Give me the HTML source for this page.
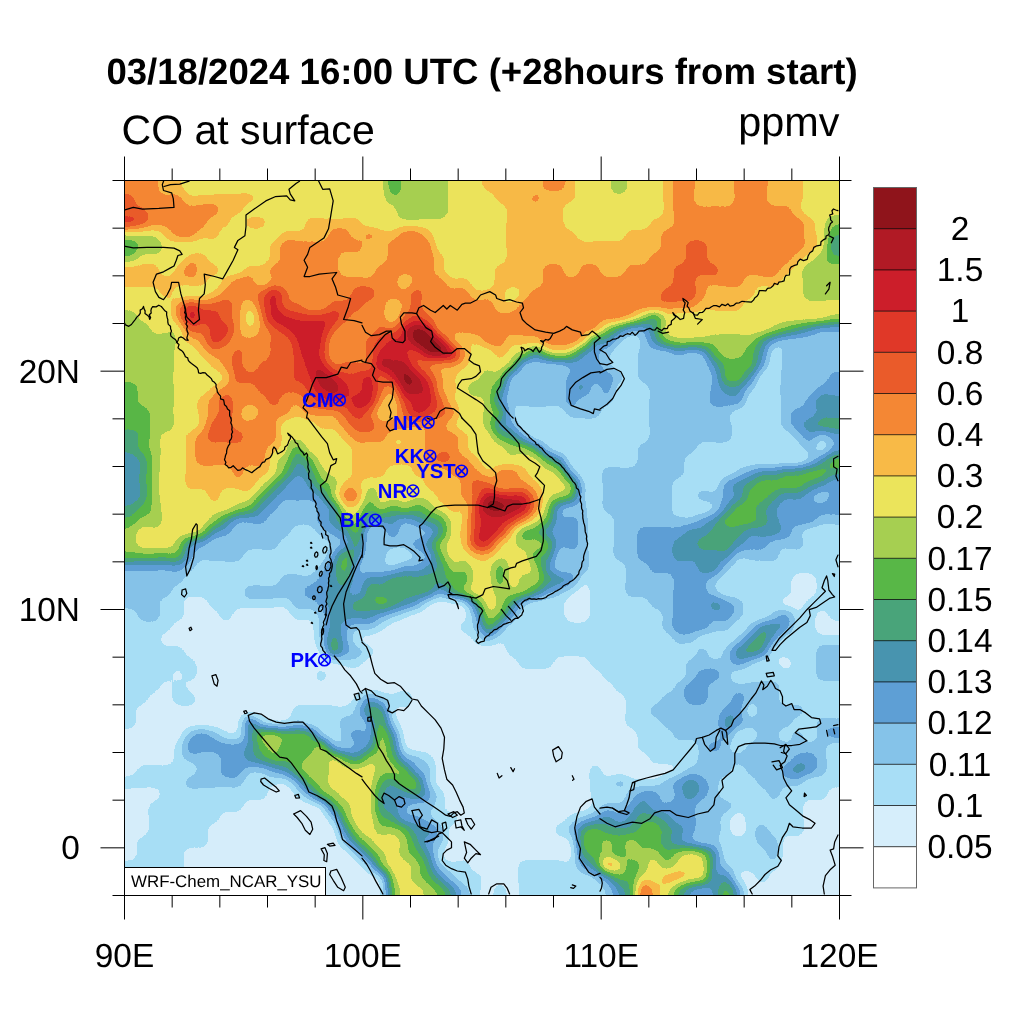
<!DOCTYPE html>
<html><head><meta charset="utf-8"><title>CO at surface</title>
<style>
html,body{margin:0;padding:0;background:#fff;}
body{width:1024px;height:1024px;overflow:hidden;font-family:"Liberation Sans",sans-serif;}
svg{display:block;position:absolute;left:0;top:0;}
text{font-family:"Liberation Sans",sans-serif;fill:#000;text-rendering:geometricPrecision;}
svg{will-change:transform;}
.ax{font-size:33.4px;}
.st{font-size:20.3px;font-weight:bold;fill:#0000ff;}
</style></head><body>
<svg width="1024" height="1024" viewBox="0 0 1024 1024">
<defs>
<filter id="ct" x="0" y="0" width="1024" height="1024" filterUnits="userSpaceOnUse" color-interpolation-filters="sRGB">
<feGaussianBlur stdDeviation="6.0" result="b"/>
<feComponentTransfer>
<feFuncR type="discrete" tableValues="0.5608 0.6941 0.8000 0.8784 0.9176 0.9569 0.9725 0.9216 0.6510 0.3451 0.2863 0.2824 0.3686 0.5216 0.6588 0.8392 1.0000"/>
<feFuncG type="discrete" tableValues="0.0784 0.1020 0.1176 0.2196 0.3569 0.5294 0.7294 0.8941 0.8118 0.7176 0.6431 0.5804 0.6235 0.7647 0.8706 0.9333 1.0000"/>
<feFuncB type="discrete" tableValues="0.1059 0.1451 0.1647 0.1569 0.1647 0.2039 0.2784 0.3569 0.3176 0.2784 0.4784 0.6863 0.8353 0.9137 0.9647 0.9843 1.0000"/>
<feFuncA type="linear" slope="0" intercept="1"/>
</feComponentTransfer>
<feGaussianBlur stdDeviation="0.45"/>
</filter>
<clipPath id="mapclip"><rect x="124.50" y="180.50" width="715.00" height="715.00"/></clipPath>
</defs>
<rect x="0" y="0" width="1024" height="1024" fill="#fff"/>
<g clip-path="url(#mapclip)">
<g filter="url(#ct)">
<rect x="60" y="120" width="850" height="850" fill="#e8e8e8"/>
<path fill="#000000" d="M410.5 323.5h12.2v12.2h-12.2zM410.5 335.4h24.1v12.2h-24.1zM398.6 371.2h12.2v12.2h-12.2zM482.0 502.2h12.2v12.2h-12.2z"/>
<path fill="#0a0a0a" d="M422.4 347.3h24.1v12.2h-24.1zM374.8 359.2h12.2v12.2h-12.2zM315.2 371.2h12.2v12.2h-12.2zM315.2 383.1h12.2v12.2h-12.2zM398.6 383.1h12.2v12.2h-12.2z"/>
<path fill="#0d0d0d" d="M410.5 371.2h12.2v12.2h-12.2zM493.9 502.2h12.2v12.2h-12.2z"/>
<path fill="#0e0e0e" d="M327.1 383.1h12.2v12.2h-12.2z"/>
<path fill="#0f0f0f" d="M398.6 359.2h12.2v12.2h-12.2z"/>
<path fill="#111111" d="M386.7 359.2h12.2v12.2h-12.2z"/>
<path fill="#121212" d="M410.5 383.1h12.2v12.2h-12.2z"/>
<path fill="#1a1a1a" d="M267.5 287.8h12.2v12.2h-12.2zM267.5 299.7h12.2v12.2h-12.2zM184.1 311.6h12.2v12.2h-12.2zM267.5 311.6h24.1v12.2h-24.1zM315.2 335.4h12.2v12.2h-12.2zM446.2 347.3h12.2v12.2h-12.2zM362.8 371.2h12.2v12.2h-12.2zM327.1 395.0h12.2v12.2h-12.2zM362.8 395.0h12.2v12.2h-12.2zM410.5 406.9h12.2v12.2h-12.2zM517.8 502.2h12.2v12.2h-12.2z"/>
<path fill="#1b1b1b" d="M482.0 490.3h12.2v12.2h-12.2z"/>
<path fill="#1c1c1c" d="M291.3 323.5h12.2v12.2h-12.2zM315.2 323.5h12.2v12.2h-12.2zM386.7 335.4h12.2v12.2h-12.2zM362.8 383.1h12.2v12.2h-12.2zM422.4 383.1h12.2v12.2h-12.2zM350.9 395.0h12.2v12.2h-12.2z"/>
<path fill="#1d1d1d" d="M434.3 335.4h12.2v12.2h-12.2zM422.4 395.0h12.2v12.2h-12.2zM482.0 526.1h12.2v12.2h-12.2z"/>
<path fill="#1f1f1f" d="M398.6 323.5h12.2v12.2h-12.2zM315.2 359.2h12.2v12.2h-12.2z"/>
<path fill="#202020" d="M303.2 347.3h12.2v12.2h-12.2zM374.8 347.3h12.2v12.2h-12.2zM303.2 359.2h12.2v12.2h-12.2zM386.7 371.2h12.2v12.2h-12.2zM339.0 383.1h12.2v12.2h-12.2z"/>
<path fill="#222222" d="M422.4 323.5h12.2v12.2h-12.2z"/>
<path fill="#232323" d="M303.2 323.5h12.2v12.2h-12.2zM303.2 335.4h12.2v12.2h-12.2zM505.8 502.2h12.2v12.2h-12.2z"/>
<path fill="#242424" d="M327.1 371.2h12.2v12.2h-12.2zM493.9 514.2h12.2v12.2h-12.2z"/>
<path fill="#262626" d="M398.6 347.3h12.2v12.2h-12.2z"/>
<path fill="#272727" d="M410.5 395.0h12.2v12.2h-12.2z"/>
<path fill="#282828" d="M88.8 216.2h48.0v12.2h-48.0zM184.1 299.7h12.2v12.2h-12.2zM219.8 323.5h12.2v12.2h-12.2zM207.9 335.4h12.2v12.2h-12.2zM470.1 538.0h24.1v12.2h-24.1z"/>
<path fill="#292929" d="M493.9 526.1h12.2v12.2h-12.2z"/>
<path fill="#2a2a2a" d="M386.7 347.3h12.2v12.2h-12.2zM482.0 514.2h12.2v12.2h-12.2z"/>
<path fill="#2b2b2b" d="M327.1 311.6h12.2v12.2h-12.2zM398.6 335.4h12.2v12.2h-12.2zM517.8 490.3h12.2v12.2h-12.2z"/>
<path fill="#2c2c2c" d="M505.8 514.2h12.2v12.2h-12.2z"/>
<path fill="#2e2e2e" d="M291.3 371.2h12.2v12.2h-12.2zM470.1 526.1h12.2v12.2h-12.2z"/>
<path fill="#2f2f2f" d="M207.9 311.6h12.2v12.2h-12.2zM350.9 406.9h12.2v12.2h-12.2zM470.1 514.2h12.2v12.2h-12.2z"/>
<path fill="#303030" d="M470.1 502.2h12.2v12.2h-12.2z"/>
<path fill="#313131" d="M303.2 311.6h24.1v12.2h-24.1zM398.6 395.0h12.2v12.2h-12.2zM422.4 406.9h12.2v12.2h-12.2z"/>
<path fill="#323232" d="M207.9 323.5h12.2v12.2h-12.2zM505.8 490.3h12.2v12.2h-12.2z"/>
<path fill="#333333" d="M196.0 311.6h12.2v12.2h-12.2zM422.4 371.2h12.2v12.2h-12.2z"/>
<path fill="#343434" d="M410.5 311.6h12.2v12.2h-12.2zM374.8 335.4h12.2v12.2h-12.2zM291.3 359.2h12.2v12.2h-12.2z"/>
<path fill="#353535" d="M279.4 323.5h12.2v12.2h-12.2zM291.3 347.3h12.2v12.2h-12.2zM350.9 371.2h12.2v12.2h-12.2zM303.2 383.1h12.2v12.2h-12.2zM315.2 395.0h12.2v12.2h-12.2z"/>
<path fill="#373737" d="M291.3 311.6h12.2v12.2h-12.2zM315.2 347.3h12.2v12.2h-12.2zM339.0 371.2h12.2v12.2h-12.2z"/>
<path fill="#383838" d="M291.3 335.4h12.2v12.2h-12.2zM434.3 454.6h12.2v12.2h-12.2zM636.9 883.6h12.2v12.2h-12.2zM636.9 895.5h12.2v12.2h-12.2zM636.9 907.4h12.2v12.2h-12.2zM636.9 919.3h12.2v12.2h-12.2z"/>
<path fill="#393939" d="M136.4 216.2h12.2v12.2h-12.2zM410.5 287.8h12.2v12.2h-12.2zM184.1 323.5h12.2v12.2h-12.2zM231.8 371.2h12.2v12.2h-12.2zM493.9 490.3h12.2v12.2h-12.2z"/>
<path fill="#3a3a3a" d="M708.4 263.9h12.2v12.2h-12.2zM362.8 287.8h12.2v12.2h-12.2zM231.8 347.3h12.2v12.2h-12.2zM219.8 395.0h12.2v12.2h-12.2zM267.5 395.0h12.2v12.2h-12.2zM231.8 430.8h12.2v12.2h-12.2z"/>
<path fill="#3b3b3b" d="M660.8 287.8h12.2v12.2h-12.2zM339.0 395.0h12.2v12.2h-12.2zM207.9 418.8h12.2v12.2h-12.2z"/>
<path fill="#3d3d3d" d="M88.8 192.4h48.0v12.2h-48.0zM684.6 240.1h24.1v12.2h-24.1zM672.7 263.9h12.2v12.2h-12.2zM350.9 287.8h12.2v12.2h-12.2zM684.6 287.8h12.2v12.2h-12.2zM219.8 299.7h12.2v12.2h-12.2zM350.9 299.7h12.2v12.2h-12.2zM231.8 359.2h12.2v12.2h-12.2zM255.6 359.2h12.2v12.2h-12.2zM219.8 406.9h12.2v12.2h-12.2zM362.8 418.8h12.2v12.2h-12.2zM207.9 430.8h12.2v12.2h-12.2zM470.1 478.4h12.2v12.2h-12.2z"/>
<path fill="#3e3e3e" d="M136.4 204.3h12.2v12.2h-12.2zM243.7 371.2h12.2v12.2h-12.2zM255.6 383.1h12.2v12.2h-12.2z"/>
<path fill="#3f3f3f" d="M267.5 335.4h12.2v12.2h-12.2zM410.5 359.2h12.2v12.2h-12.2zM303.2 371.2h12.2v12.2h-12.2zM350.9 383.1h12.2v12.2h-12.2z"/>
<path fill="#404040" d="M696.5 263.9h12.2v12.2h-12.2zM255.6 287.8h12.2v12.2h-12.2zM196.0 299.7h24.1v12.2h-24.1zM291.3 299.7h12.2v12.2h-12.2zM327.1 299.7h12.2v12.2h-12.2zM410.5 299.7h12.2v12.2h-12.2zM374.8 323.5h12.2v12.2h-12.2zM362.8 335.4h12.2v12.2h-12.2zM267.5 347.3h12.2v12.2h-12.2zM410.5 347.3h12.2v12.2h-12.2zM279.4 383.1h12.2v12.2h-12.2zM434.3 406.9h12.2v12.2h-12.2zM350.9 418.8h12.2v12.2h-12.2zM219.8 430.8h12.2v12.2h-12.2zM482.0 478.4h12.2v12.2h-12.2z"/>
<path fill="#414141" d="M684.6 252.0h24.1v12.2h-24.1zM672.7 275.8h24.1v12.2h-24.1zM672.7 287.8h12.2v12.2h-12.2zM255.6 299.7h12.2v12.2h-12.2zM339.0 299.7h12.2v12.2h-12.2zM339.0 311.6h12.2v12.2h-12.2zM434.3 395.0h12.2v12.2h-12.2zM219.8 418.8h12.2v12.2h-12.2z"/>
<path fill="#434343" d="M684.6 263.9h12.2v12.2h-12.2zM279.4 287.8h12.2v12.2h-12.2zM267.5 359.2h12.2v12.2h-12.2zM339.0 359.2h24.1v12.2h-24.1zM255.6 371.2h12.2v12.2h-12.2zM267.5 383.1h12.2v12.2h-12.2zM398.6 406.9h12.2v12.2h-12.2z"/>
<path fill="#444444" d="M398.6 311.6h12.2v12.2h-12.2zM219.8 335.4h12.2v12.2h-12.2zM267.5 371.2h12.2v12.2h-12.2zM374.8 383.1h12.2v12.2h-12.2zM303.2 395.0h12.2v12.2h-12.2zM339.0 406.9h12.2v12.2h-12.2z"/>
<path fill="#464646" d="M529.7 192.4h12.2v12.2h-12.2zM362.8 228.2h12.2v12.2h-12.2zM184.1 263.9h12.2v12.2h-12.2zM648.8 299.7h12.2v12.2h-12.2zM613.1 311.6h12.2v12.2h-12.2zM589.2 323.5h12.2v12.2h-12.2zM541.6 335.4h12.2v12.2h-12.2zM565.4 335.4h12.2v12.2h-12.2zM291.3 383.1h12.2v12.2h-12.2zM339.0 490.3h24.1v12.2h-24.1zM601.2 859.8h12.2v12.2h-12.2z"/>
<path fill="#474747" d="M219.8 311.6h12.2v12.2h-12.2zM422.4 311.6h12.2v12.2h-12.2zM279.4 347.3h12.2v12.2h-12.2zM362.8 347.3h12.2v12.2h-12.2zM279.4 359.2h12.2v12.2h-12.2zM279.4 371.2h12.2v12.2h-12.2zM362.8 406.9h12.2v12.2h-12.2z"/>
<path fill="#484848" d="M88.8 204.3h48.0v12.2h-48.0zM184.1 228.2h12.2v12.2h-12.2zM327.1 323.5h12.2v12.2h-12.2zM446.2 406.9h12.2v12.2h-12.2zM493.9 466.5h24.1v12.2h-24.1z"/>
<path fill="#494949" d="M207.9 204.3h12.2v12.2h-12.2zM172.2 228.2h12.2v12.2h-12.2zM398.6 228.2h24.1v12.2h-24.1zM350.9 240.1h12.2v12.2h-12.2zM422.4 240.1h12.2v12.2h-12.2zM231.8 275.8h12.2v12.2h-12.2zM636.9 299.7h12.2v12.2h-12.2zM601.2 311.6h12.2v12.2h-12.2zM196.0 323.5h12.2v12.2h-12.2zM482.0 335.4h12.2v12.2h-12.2zM279.4 406.9h12.2v12.2h-12.2zM267.5 430.8h12.2v12.2h-12.2zM255.6 454.6h12.2v12.2h-12.2zM231.8 466.5h12.2v12.2h-12.2z"/>
<path fill="#4a4a4a" d="M267.5 323.5h12.2v12.2h-12.2zM386.7 323.5h12.2v12.2h-12.2zM279.4 335.4h12.2v12.2h-12.2z"/>
<path fill="#4b4b4b" d="M267.5 263.9h12.2v12.2h-12.2zM446.2 430.8h12.2v12.2h-12.2zM470.1 490.3h12.2v12.2h-12.2z"/>
<path fill="#4c4c4c" d="M172.2 192.4h12.2v12.2h-12.2zM779.9 204.3h12.2v12.2h-12.2zM791.8 216.2h12.2v12.2h-12.2zM660.8 228.2h12.2v12.2h-12.2zM279.4 240.1h12.2v12.2h-12.2zM386.7 240.1h12.2v12.2h-12.2zM791.8 240.1h12.2v12.2h-12.2zM648.8 252.0h12.2v12.2h-12.2zM374.8 263.9h12.2v12.2h-12.2zM541.6 263.9h24.1v12.2h-24.1zM577.3 263.9h24.1v12.2h-24.1zM625.0 263.9h12.2v12.2h-12.2zM768.0 263.9h12.2v12.2h-12.2zM243.7 275.8h12.2v12.2h-12.2zM434.3 275.8h12.2v12.2h-12.2zM732.2 275.8h12.2v12.2h-12.2zM458.2 287.8h12.2v12.2h-12.2zM529.7 287.8h12.2v12.2h-12.2zM172.2 299.7h12.2v12.2h-12.2zM482.0 299.7h12.2v12.2h-12.2zM517.8 299.7h12.2v12.2h-12.2zM684.6 299.7h12.2v12.2h-12.2zM493.9 335.4h12.2v12.2h-12.2zM303.2 406.9h12.2v12.2h-12.2zM267.5 418.8h12.2v12.2h-12.2zM386.7 418.8h12.2v12.2h-12.2zM374.8 430.8h12.2v12.2h-12.2zM196.0 454.6h12.2v12.2h-12.2zM458.2 454.6h12.2v12.2h-12.2z"/>
<path fill="#4d4d4d" d="M541.6 144.8h24.1v12.2h-24.1zM541.6 156.7h24.1v12.2h-24.1zM541.6 168.6h24.1v12.2h-24.1zM541.6 180.5h24.1v12.2h-24.1zM196.0 216.2h12.2v12.2h-12.2zM327.1 228.2h24.1v12.2h-24.1zM779.9 252.0h12.2v12.2h-12.2zM553.5 335.4h12.2v12.2h-12.2zM327.1 359.2h12.2v12.2h-12.2zM446.2 466.5h12.2v12.2h-12.2zM529.7 502.2h12.2v12.2h-12.2z"/>
<path fill="#4e4e4e" d="M660.8 299.7h12.2v12.2h-12.2zM458.2 347.3h12.2v12.2h-12.2z"/>
<path fill="#4f4f4f" d="M148.3 144.8h12.2v12.2h-12.2zM684.6 144.8h12.2v12.2h-12.2zM732.2 144.8h12.2v12.2h-12.2zM756.1 144.8h12.2v12.2h-12.2zM148.3 156.7h12.2v12.2h-12.2zM684.6 156.7h12.2v12.2h-12.2zM732.2 156.7h12.2v12.2h-12.2zM756.1 156.7h12.2v12.2h-12.2zM148.3 168.6h12.2v12.2h-12.2zM684.6 168.6h12.2v12.2h-12.2zM732.2 168.6h12.2v12.2h-12.2zM756.1 168.6h12.2v12.2h-12.2zM148.3 180.5h12.2v12.2h-12.2zM684.6 180.5h12.2v12.2h-12.2zM732.2 180.5h12.2v12.2h-12.2zM756.1 180.5h12.2v12.2h-12.2zM160.2 192.4h12.2v12.2h-12.2zM732.2 192.4h12.2v12.2h-12.2zM756.1 192.4h12.2v12.2h-12.2zM196.0 204.3h12.2v12.2h-12.2zM672.7 204.3h12.2v12.2h-12.2zM696.5 204.3h36.0v12.2h-36.0zM768.0 204.3h12.2v12.2h-12.2zM148.3 216.2h24.1v12.2h-24.1zM672.7 216.2h12.2v12.2h-12.2zM303.2 240.1h24.1v12.2h-24.1zM339.0 240.1h12.2v12.2h-12.2zM660.8 240.1h12.2v12.2h-12.2zM327.1 252.0h12.2v12.2h-12.2zM422.4 252.0h12.2v12.2h-12.2zM327.1 263.9h12.2v12.2h-12.2zM398.6 263.9h12.2v12.2h-12.2zM636.9 263.9h12.2v12.2h-12.2zM744.2 263.9h24.1v12.2h-24.1zM339.0 275.8h12.2v12.2h-12.2zM386.7 275.8h12.2v12.2h-12.2zM601.2 275.8h24.1v12.2h-24.1zM720.3 275.8h12.2v12.2h-12.2zM386.7 287.8h12.2v12.2h-12.2zM374.8 299.7h12.2v12.2h-12.2zM231.8 311.6h12.2v12.2h-12.2zM493.9 311.6h12.2v12.2h-12.2zM458.2 323.5h24.1v12.2h-24.1zM577.3 323.5h12.2v12.2h-12.2zM243.7 335.4h12.2v12.2h-12.2zM219.8 383.1h12.2v12.2h-12.2zM243.7 395.0h12.2v12.2h-12.2zM243.7 418.8h12.2v12.2h-12.2zM196.0 430.8h12.2v12.2h-12.2zM350.9 430.8h12.2v12.2h-12.2zM422.4 430.8h12.2v12.2h-12.2zM207.9 454.6h24.1v12.2h-24.1zM422.4 454.6h12.2v12.2h-12.2zM470.1 466.5h12.2v12.2h-12.2zM458.2 490.3h12.2v12.2h-12.2z"/>
<path fill="#505050" d="M672.7 144.8h12.2v12.2h-12.2zM672.7 156.7h12.2v12.2h-12.2zM672.7 168.6h12.2v12.2h-12.2zM672.7 180.5h12.2v12.2h-12.2zM672.7 192.4h24.1v12.2h-24.1zM184.1 204.3h12.2v12.2h-12.2zM791.8 228.2h12.2v12.2h-12.2zM291.3 240.1h12.2v12.2h-12.2zM279.4 252.0h12.2v12.2h-12.2zM386.7 252.0h12.2v12.2h-12.2zM422.4 263.9h12.2v12.2h-12.2zM541.6 275.8h12.2v12.2h-12.2zM565.4 275.8h12.2v12.2h-12.2zM219.8 287.8h12.2v12.2h-12.2zM446.2 287.8h12.2v12.2h-12.2zM696.5 287.8h12.2v12.2h-12.2zM279.4 299.7h12.2v12.2h-12.2zM470.1 299.7h12.2v12.2h-12.2zM625.0 299.7h12.2v12.2h-12.2zM672.7 299.7h12.2v12.2h-12.2zM172.2 311.6h12.2v12.2h-12.2zM505.8 311.6h12.2v12.2h-12.2zM505.8 323.5h36.0v12.2h-36.0zM219.8 359.2h12.2v12.2h-12.2zM362.8 359.2h12.2v12.2h-12.2zM422.4 359.2h12.2v12.2h-12.2zM374.8 371.2h12.2v12.2h-12.2zM207.9 395.0h12.2v12.2h-12.2zM255.6 406.9h12.2v12.2h-12.2zM196.0 442.7h12.2v12.2h-12.2zM255.6 442.7h12.2v12.2h-12.2zM422.4 442.7h12.2v12.2h-12.2zM446.2 442.7h12.2v12.2h-12.2zM243.7 454.6h12.2v12.2h-12.2zM529.7 490.3h12.2v12.2h-12.2zM517.8 514.2h12.2v12.2h-12.2z"/>
<path fill="#515151" d="M374.8 311.6h12.2v12.2h-12.2zM339.0 335.4h12.2v12.2h-12.2z"/>
<path fill="#525252" d="M148.3 192.4h12.2v12.2h-12.2zM732.2 204.3h12.2v12.2h-12.2zM756.1 204.3h12.2v12.2h-12.2zM720.3 228.2h24.1v12.2h-24.1zM327.1 240.1h12.2v12.2h-12.2zM720.3 240.1h24.1v12.2h-24.1zM660.8 252.0h12.2v12.2h-12.2zM279.4 263.9h36.0v12.2h-36.0zM386.7 263.9h12.2v12.2h-12.2zM410.5 263.9h12.2v12.2h-12.2zM648.8 263.9h12.2v12.2h-12.2zM732.2 263.9h12.2v12.2h-12.2zM291.3 275.8h48.0v12.2h-48.0zM350.9 275.8h12.2v12.2h-12.2zM410.5 275.8h12.2v12.2h-12.2zM577.3 275.8h12.2v12.2h-12.2zM625.0 275.8h12.2v12.2h-12.2zM243.7 287.8h12.2v12.2h-12.2zM303.2 287.8h24.1v12.2h-24.1zM398.6 287.8h12.2v12.2h-12.2zM434.3 287.8h12.2v12.2h-12.2zM541.6 287.8h12.2v12.2h-12.2zM231.8 299.7h12.2v12.2h-12.2zM434.3 299.7h12.2v12.2h-12.2zM446.2 311.6h12.2v12.2h-12.2zM255.6 323.5h12.2v12.2h-12.2zM350.9 323.5h12.2v12.2h-12.2zM446.2 323.5h12.2v12.2h-12.2zM207.9 347.3h12.2v12.2h-12.2zM255.6 418.8h12.2v12.2h-12.2zM339.0 418.8h12.2v12.2h-12.2zM374.8 418.8h12.2v12.2h-12.2zM398.6 418.8h12.2v12.2h-12.2zM434.3 430.8h12.2v12.2h-12.2zM231.8 454.6h12.2v12.2h-12.2z"/>
<path fill="#535353" d="M136.4 144.8h12.2v12.2h-12.2zM744.2 144.8h12.2v12.2h-12.2zM136.4 156.7h12.2v12.2h-12.2zM744.2 156.7h12.2v12.2h-12.2zM136.4 168.6h12.2v12.2h-12.2zM744.2 168.6h12.2v12.2h-12.2zM136.4 180.5h12.2v12.2h-12.2zM744.2 180.5h12.2v12.2h-12.2zM744.2 192.4h12.2v12.2h-12.2zM160.2 204.3h24.1v12.2h-24.1zM684.6 204.3h12.2v12.2h-12.2zM744.2 204.3h12.2v12.2h-12.2zM172.2 216.2h24.1v12.2h-24.1zM684.6 216.2h107.5v12.2h-107.5zM672.7 228.2h12.2v12.2h-12.2zM708.4 228.2h12.2v12.2h-12.2zM744.2 228.2h48.0v12.2h-48.0zM398.6 240.1h24.1v12.2h-24.1zM744.2 240.1h48.0v12.2h-48.0zM291.3 252.0h36.0v12.2h-36.0zM398.6 252.0h24.1v12.2h-24.1zM720.3 252.0h59.9v12.2h-59.9zM315.2 263.9h12.2v12.2h-12.2zM362.8 275.8h24.1v12.2h-24.1zM422.4 275.8h12.2v12.2h-12.2zM553.5 275.8h12.2v12.2h-12.2zM589.2 275.8h12.2v12.2h-12.2zM636.9 275.8h24.1v12.2h-24.1zM708.4 275.8h12.2v12.2h-12.2zM231.8 287.8h12.2v12.2h-12.2zM553.5 287.8h95.6v12.2h-95.6zM446.2 299.7h24.1v12.2h-24.1zM529.7 299.7h71.8v12.2h-71.8zM362.8 311.6h12.2v12.2h-12.2zM458.2 311.6h36.0v12.2h-36.0zM517.8 311.6h83.7v12.2h-83.7zM482.0 323.5h24.1v12.2h-24.1zM541.6 323.5h12.2v12.2h-12.2zM231.8 406.9h12.2v12.2h-12.2zM434.3 418.8h12.2v12.2h-12.2zM255.6 430.8h12.2v12.2h-12.2zM362.8 430.8h12.2v12.2h-12.2zM243.7 442.7h12.2v12.2h-12.2zM458.2 466.5h12.2v12.2h-12.2zM458.2 478.4h12.2v12.2h-12.2zM517.8 478.4h12.2v12.2h-12.2z"/>
<path fill="#545454" d="M601.2 299.7h24.1v12.2h-24.1zM553.5 323.5h24.1v12.2h-24.1zM339.0 347.3h12.2v12.2h-12.2z"/>
<path fill="#555555" d="M327.1 287.8h12.2v12.2h-12.2zM374.8 287.8h12.2v12.2h-12.2zM434.3 311.6h12.2v12.2h-12.2zM231.8 323.5h12.2v12.2h-12.2zM255.6 335.4h12.2v12.2h-12.2zM350.9 335.4h12.2v12.2h-12.2zM434.3 371.2h12.2v12.2h-12.2zM231.8 395.0h12.2v12.2h-12.2zM267.5 406.9h12.2v12.2h-12.2z"/>
<path fill="#565656" d="M88.8 144.8h48.0v12.2h-48.0zM88.8 156.7h48.0v12.2h-48.0zM88.8 168.6h48.0v12.2h-48.0zM88.8 180.5h48.0v12.2h-48.0zM148.3 204.3h12.2v12.2h-12.2zM684.6 228.2h24.1v12.2h-24.1zM672.7 240.1h12.2v12.2h-12.2zM708.4 240.1h12.2v12.2h-12.2zM660.8 263.9h12.2v12.2h-12.2zM720.3 263.9h12.2v12.2h-12.2zM422.4 287.8h12.2v12.2h-12.2zM398.6 299.7h12.2v12.2h-12.2zM625.0 311.6h12.2v12.2h-12.2zM196.0 335.4h12.2v12.2h-12.2zM577.3 335.4h12.2v12.2h-12.2zM243.7 347.3h12.2v12.2h-12.2zM446.2 359.2h12.2v12.2h-12.2zM231.8 383.1h12.2v12.2h-12.2zM291.3 395.0h12.2v12.2h-12.2zM207.9 406.9h12.2v12.2h-12.2zM315.2 406.9h12.2v12.2h-12.2zM243.7 430.8h12.2v12.2h-12.2zM231.8 442.7h12.2v12.2h-12.2zM446.2 454.6h12.2v12.2h-12.2zM660.8 871.7h24.1v12.2h-24.1z"/>
<path fill="#575757" d="M243.7 192.4h12.2v12.2h-12.2zM243.7 216.2h24.1v12.2h-24.1zM279.4 275.8h12.2v12.2h-12.2zM648.8 287.8h12.2v12.2h-12.2zM207.9 442.7h24.1v12.2h-24.1zM434.3 442.7h12.2v12.2h-12.2z"/>
<path fill="#585858" d="M207.9 263.9h12.2v12.2h-12.2zM160.2 287.8h12.2v12.2h-12.2zM291.3 287.8h12.2v12.2h-12.2zM350.9 311.6h12.2v12.2h-12.2zM339.0 323.5h12.2v12.2h-12.2zM350.9 347.3h12.2v12.2h-12.2zM255.6 395.0h12.2v12.2h-12.2zM374.8 395.0h12.2v12.2h-12.2zM207.9 490.3h12.2v12.2h-12.2z"/>
<path fill="#595959" d="M136.4 192.4h12.2v12.2h-12.2zM672.7 252.0h12.2v12.2h-12.2zM708.4 252.0h12.2v12.2h-12.2zM267.5 275.8h12.2v12.2h-12.2zM660.8 275.8h12.2v12.2h-12.2zM362.8 299.7h12.2v12.2h-12.2zM422.4 299.7h12.2v12.2h-12.2zM255.6 311.6h12.2v12.2h-12.2zM362.8 323.5h12.2v12.2h-12.2zM231.8 335.4h12.2v12.2h-12.2zM255.6 347.3h12.2v12.2h-12.2zM243.7 383.1h12.2v12.2h-12.2zM279.4 395.0h12.2v12.2h-12.2zM231.8 418.8h12.2v12.2h-12.2zM410.5 418.8h12.2v12.2h-12.2z"/>
<path fill="#5a5a5a" d="M303.2 216.2h12.2v12.2h-12.2zM696.5 275.8h12.2v12.2h-12.2zM339.0 287.8h12.2v12.2h-12.2zM219.8 347.3h12.2v12.2h-12.2zM422.4 418.8h12.2v12.2h-12.2zM184.1 478.4h12.2v12.2h-12.2zM505.8 478.4h12.2v12.2h-12.2zM446.2 502.2h12.2v12.2h-12.2z"/>
<path fill="#5b5b5b" d="M482.0 144.8h12.2v12.2h-12.2zM482.0 156.7h12.2v12.2h-12.2zM482.0 168.6h12.2v12.2h-12.2zM482.0 180.5h12.2v12.2h-12.2zM493.9 192.4h12.2v12.2h-12.2zM565.4 192.4h12.2v12.2h-12.2zM219.8 216.2h12.2v12.2h-12.2zM350.9 216.2h12.2v12.2h-12.2zM648.8 216.2h12.2v12.2h-12.2zM207.9 228.2h12.2v12.2h-12.2zM565.4 228.2h12.2v12.2h-12.2zM625.0 228.2h12.2v12.2h-12.2zM196.0 252.0h12.2v12.2h-12.2zM88.8 263.9h48.0v12.2h-48.0zM148.3 263.9h12.2v12.2h-12.2zM493.9 263.9h12.2v12.2h-12.2zM196.0 275.8h12.2v12.2h-12.2zM744.2 287.8h12.2v12.2h-12.2zM732.2 299.7h12.2v12.2h-12.2zM374.8 466.5h12.2v12.2h-12.2zM410.5 466.5h12.2v12.2h-12.2zM422.4 478.4h12.2v12.2h-12.2zM434.3 490.3h12.2v12.2h-12.2z"/>
<path fill="#5c5c5c" d="M231.8 204.3h12.2v12.2h-12.2zM303.2 299.7h24.1v12.2h-24.1zM529.7 335.4h12.2v12.2h-12.2zM493.9 347.3h12.2v12.2h-12.2zM434.3 383.1h12.2v12.2h-12.2zM327.1 406.9h12.2v12.2h-12.2zM243.7 478.4h12.2v12.2h-12.2zM339.0 478.4h12.2v12.2h-12.2z"/>
<path fill="#5d5d5d" d="M327.1 347.3h12.2v12.2h-12.2zM243.7 359.2h12.2v12.2h-12.2zM493.9 478.4h12.2v12.2h-12.2z"/>
<path fill="#5e5e5e" d="M791.8 144.8h12.2v12.2h-12.2zM791.8 156.7h12.2v12.2h-12.2zM791.8 168.6h12.2v12.2h-12.2zM791.8 180.5h12.2v12.2h-12.2zM219.8 192.4h24.1v12.2h-24.1zM791.8 192.4h12.2v12.2h-12.2zM505.8 204.3h12.2v12.2h-12.2zM553.5 204.3h12.2v12.2h-12.2zM315.2 216.2h12.2v12.2h-12.2zM505.8 216.2h12.2v12.2h-12.2zM553.5 216.2h12.2v12.2h-12.2zM803.8 216.2h12.2v12.2h-12.2zM279.4 228.2h12.2v12.2h-12.2zM505.8 228.2h12.2v12.2h-12.2zM636.9 228.2h12.2v12.2h-12.2zM267.5 240.1h12.2v12.2h-12.2zM505.8 240.1h12.2v12.2h-12.2zM577.3 240.1h48.0v12.2h-48.0zM184.1 252.0h12.2v12.2h-12.2zM434.3 252.0h12.2v12.2h-12.2zM505.8 252.0h12.2v12.2h-12.2zM243.7 263.9h12.2v12.2h-12.2zM136.4 275.8h48.0v12.2h-48.0zM458.2 275.8h12.2v12.2h-12.2zM493.9 275.8h24.1v12.2h-24.1zM768.0 275.8h12.2v12.2h-12.2zM493.9 287.8h12.2v12.2h-12.2zM708.4 299.7h24.1v12.2h-24.1zM434.3 323.5h12.2v12.2h-12.2zM327.1 335.4h12.2v12.2h-12.2zM446.2 335.4h12.2v12.2h-12.2zM517.8 335.4h12.2v12.2h-12.2zM434.3 359.2h12.2v12.2h-12.2zM386.7 383.1h12.2v12.2h-12.2zM196.0 395.0h12.2v12.2h-12.2zM315.2 418.8h12.2v12.2h-12.2zM184.1 430.8h12.2v12.2h-12.2zM458.2 430.8h12.2v12.2h-12.2zM350.9 454.6h12.2v12.2h-12.2zM386.7 454.6h24.1v12.2h-24.1zM184.1 466.5h12.2v12.2h-12.2zM350.9 466.5h12.2v12.2h-12.2zM196.0 478.4h12.2v12.2h-12.2z"/>
<path fill="#5f5f5f" d="M803.8 240.1h12.2v12.2h-12.2zM136.4 263.9h12.2v12.2h-12.2zM172.2 263.9h12.2v12.2h-12.2zM88.8 275.8h48.0v12.2h-48.0zM255.6 466.5h12.2v12.2h-12.2zM362.8 466.5h12.2v12.2h-12.2zM219.8 478.4h12.2v12.2h-12.2z"/>
<path fill="#606060" d="M708.4 144.8h12.2v12.2h-12.2zM708.4 156.7h12.2v12.2h-12.2zM708.4 168.6h12.2v12.2h-12.2zM708.4 180.5h12.2v12.2h-12.2zM184.1 275.8h12.2v12.2h-12.2zM207.9 359.2h12.2v12.2h-12.2z"/>
<path fill="#616161" d="M172.2 144.8h12.2v12.2h-12.2zM779.9 144.8h12.2v12.2h-12.2zM172.2 156.7h12.2v12.2h-12.2zM779.9 156.7h12.2v12.2h-12.2zM172.2 168.6h12.2v12.2h-12.2zM779.9 168.6h12.2v12.2h-12.2zM172.2 180.5h12.2v12.2h-12.2zM779.9 180.5h12.2v12.2h-12.2zM196.0 192.4h24.1v12.2h-24.1zM505.8 192.4h12.2v12.2h-12.2zM660.8 192.4h12.2v12.2h-12.2zM327.1 216.2h24.1v12.2h-24.1zM529.7 216.2h12.2v12.2h-12.2zM160.2 228.2h12.2v12.2h-12.2zM374.8 228.2h12.2v12.2h-12.2zM422.4 228.2h12.2v12.2h-12.2zM553.5 228.2h12.2v12.2h-12.2zM529.7 240.1h48.0v12.2h-48.0zM625.0 240.1h12.2v12.2h-12.2zM362.8 252.0h12.2v12.2h-12.2zM255.6 263.9h12.2v12.2h-12.2zM517.8 263.9h12.2v12.2h-12.2zM219.8 275.8h12.2v12.2h-12.2zM517.8 275.8h12.2v12.2h-12.2zM482.0 287.8h12.2v12.2h-12.2zM446.2 383.1h12.2v12.2h-12.2zM339.0 430.8h12.2v12.2h-12.2zM350.9 442.7h12.2v12.2h-12.2zM398.6 442.7h12.2v12.2h-12.2zM184.1 454.6h12.2v12.2h-12.2zM374.8 454.6h12.2v12.2h-12.2zM470.1 454.6h12.2v12.2h-12.2zM517.8 466.5h12.2v12.2h-12.2zM207.9 478.4h12.2v12.2h-12.2zM231.8 478.4h12.2v12.2h-12.2zM434.3 478.4h12.2v12.2h-12.2z"/>
<path fill="#626262" d="M493.9 144.8h36.0v12.2h-36.0zM565.4 144.8h12.2v12.2h-12.2zM660.8 144.8h12.2v12.2h-12.2zM493.9 156.7h36.0v12.2h-36.0zM565.4 156.7h12.2v12.2h-12.2zM660.8 156.7h12.2v12.2h-12.2zM493.9 168.6h36.0v12.2h-36.0zM565.4 168.6h12.2v12.2h-12.2zM660.8 168.6h12.2v12.2h-12.2zM493.9 180.5h36.0v12.2h-36.0zM565.4 180.5h12.2v12.2h-12.2zM660.8 180.5h12.2v12.2h-12.2zM517.8 204.3h12.2v12.2h-12.2zM541.6 204.3h12.2v12.2h-12.2zM660.8 204.3h12.2v12.2h-12.2zM517.8 216.2h12.2v12.2h-12.2zM541.6 216.2h12.2v12.2h-12.2zM291.3 228.2h12.2v12.2h-12.2zM517.8 228.2h36.0v12.2h-36.0zM517.8 240.1h12.2v12.2h-12.2zM636.9 240.1h12.2v12.2h-12.2zM517.8 252.0h24.1v12.2h-24.1zM565.4 252.0h12.2v12.2h-12.2zM601.2 252.0h24.1v12.2h-24.1zM791.8 252.0h12.2v12.2h-12.2zM505.8 263.9h12.2v12.2h-12.2zM779.9 263.9h12.2v12.2h-12.2zM756.1 275.8h12.2v12.2h-12.2zM196.0 347.3h12.2v12.2h-12.2zM458.2 359.2h12.2v12.2h-12.2zM207.9 383.1h12.2v12.2h-12.2zM196.0 406.9h12.2v12.2h-12.2zM184.1 442.7h12.2v12.2h-12.2zM267.5 442.7h12.2v12.2h-12.2zM386.7 442.7h12.2v12.2h-12.2zM362.8 454.6h12.2v12.2h-12.2zM350.9 478.4h12.2v12.2h-12.2zM529.7 478.4h12.2v12.2h-12.2z"/>
<path fill="#636363" d="M803.8 228.2h12.2v12.2h-12.2zM446.2 371.2h12.2v12.2h-12.2zM648.8 883.6h12.2v12.2h-12.2zM648.8 895.5h12.2v12.2h-12.2zM648.8 907.4h12.2v12.2h-12.2zM648.8 919.3h12.2v12.2h-12.2z"/>
<path fill="#646464" d="M196.0 228.2h12.2v12.2h-12.2zM386.7 228.2h12.2v12.2h-12.2zM648.8 228.2h12.2v12.2h-12.2zM350.9 252.0h12.2v12.2h-12.2zM350.9 263.9h12.2v12.2h-12.2zM517.8 287.8h12.2v12.2h-12.2zM696.5 299.7h12.2v12.2h-12.2zM803.8 311.6h24.1v12.2h-24.1zM660.8 323.5h12.2v12.2h-12.2zM756.1 323.5h12.2v12.2h-12.2zM184.1 335.4h12.2v12.2h-12.2zM553.5 347.3h12.2v12.2h-12.2zM327.1 418.8h12.2v12.2h-12.2zM398.6 430.8h12.2v12.2h-12.2zM303.2 442.7h12.2v12.2h-12.2zM529.7 454.6h12.2v12.2h-12.2zM446.2 490.3h12.2v12.2h-12.2zM219.8 502.2h12.2v12.2h-12.2zM184.1 526.1h12.2v12.2h-12.2zM482.0 549.9h12.2v12.2h-12.2zM505.8 573.8h12.2v12.2h-12.2zM470.1 585.7h12.2v12.2h-12.2zM482.0 597.6h12.2v12.2h-12.2zM315.2 740.6h12.2v12.2h-12.2zM327.1 752.5h12.2v12.2h-12.2zM684.6 847.8h12.2v12.2h-12.2zM613.1 859.8h12.2v12.2h-12.2zM696.5 859.8h12.2v12.2h-12.2zM696.5 871.7h12.2v12.2h-12.2z"/>
<path fill="#656565" d="M696.5 144.8h12.2v12.2h-12.2zM720.3 144.8h12.2v12.2h-12.2zM768.0 144.8h12.2v12.2h-12.2zM696.5 156.7h12.2v12.2h-12.2zM720.3 156.7h12.2v12.2h-12.2zM768.0 156.7h12.2v12.2h-12.2zM696.5 168.6h12.2v12.2h-12.2zM720.3 168.6h12.2v12.2h-12.2zM768.0 168.6h12.2v12.2h-12.2zM696.5 180.5h12.2v12.2h-12.2zM720.3 180.5h12.2v12.2h-12.2zM768.0 180.5h12.2v12.2h-12.2zM184.1 192.4h12.2v12.2h-12.2zM517.8 192.4h12.2v12.2h-12.2zM553.5 192.4h12.2v12.2h-12.2zM708.4 192.4h12.2v12.2h-12.2zM779.9 192.4h12.2v12.2h-12.2zM219.8 204.3h12.2v12.2h-12.2zM529.7 204.3h12.2v12.2h-12.2zM791.8 204.3h12.2v12.2h-12.2zM303.2 228.2h12.2v12.2h-12.2zM374.8 240.1h12.2v12.2h-12.2zM267.5 252.0h12.2v12.2h-12.2zM541.6 252.0h24.1v12.2h-24.1zM577.3 252.0h24.1v12.2h-24.1zM625.0 252.0h12.2v12.2h-12.2zM196.0 263.9h12.2v12.2h-12.2zM434.3 263.9h12.2v12.2h-12.2zM529.7 263.9h12.2v12.2h-12.2zM446.2 275.8h12.2v12.2h-12.2zM207.9 287.8h12.2v12.2h-12.2zM470.1 287.8h12.2v12.2h-12.2zM720.3 287.8h24.1v12.2h-24.1zM505.8 299.7h12.2v12.2h-12.2zM470.1 335.4h12.2v12.2h-12.2zM362.8 442.7h24.1v12.2h-24.1zM410.5 442.7h12.2v12.2h-12.2zM458.2 442.7h12.2v12.2h-12.2zM410.5 454.6h12.2v12.2h-12.2zM196.0 466.5h24.1v12.2h-24.1zM422.4 466.5h12.2v12.2h-12.2zM339.0 502.2h12.2v12.2h-12.2zM470.1 549.9h12.2v12.2h-12.2z"/>
<path fill="#666666" d="M815.7 240.1h12.2v12.2h-12.2zM505.8 335.4h12.2v12.2h-12.2zM482.0 430.8h12.2v12.2h-12.2zM458.2 538.0h12.2v12.2h-12.2zM362.8 788.2h12.2v12.2h-12.2zM684.6 871.7h12.2v12.2h-12.2z"/>
<path fill="#676767" d="M791.8 311.6h12.2v12.2h-12.2zM243.7 323.5h12.2v12.2h-12.2zM446.2 395.0h12.2v12.2h-12.2zM291.3 406.9h12.2v12.2h-12.2zM493.9 442.7h12.2v12.2h-12.2zM315.2 454.6h12.2v12.2h-12.2zM267.5 466.5h12.2v12.2h-12.2zM446.2 549.9h12.2v12.2h-12.2zM362.8 800.2h12.2v12.2h-12.2zM386.7 859.8h12.2v12.2h-12.2zM648.8 859.8h12.2v12.2h-12.2z"/>
<path fill="#686868" d="M160.2 144.8h12.2v12.2h-12.2zM529.7 144.8h12.2v12.2h-12.2zM160.2 156.7h12.2v12.2h-12.2zM529.7 156.7h12.2v12.2h-12.2zM160.2 168.6h12.2v12.2h-12.2zM529.7 168.6h12.2v12.2h-12.2zM160.2 180.5h12.2v12.2h-12.2zM529.7 180.5h12.2v12.2h-12.2zM541.6 192.4h12.2v12.2h-12.2zM696.5 192.4h12.2v12.2h-12.2zM720.3 192.4h12.2v12.2h-12.2zM768.0 192.4h12.2v12.2h-12.2zM207.9 216.2h12.2v12.2h-12.2zM660.8 216.2h12.2v12.2h-12.2zM362.8 240.1h12.2v12.2h-12.2zM648.8 240.1h12.2v12.2h-12.2zM339.0 252.0h12.2v12.2h-12.2zM374.8 252.0h12.2v12.2h-12.2zM636.9 252.0h12.2v12.2h-12.2zM339.0 263.9h12.2v12.2h-12.2zM362.8 263.9h12.2v12.2h-12.2zM601.2 263.9h24.1v12.2h-24.1zM529.7 275.8h12.2v12.2h-12.2zM744.2 275.8h12.2v12.2h-12.2zM708.4 287.8h12.2v12.2h-12.2zM493.9 299.7h12.2v12.2h-12.2zM196.0 418.8h12.2v12.2h-12.2zM446.2 418.8h12.2v12.2h-12.2zM386.7 430.8h12.2v12.2h-12.2zM410.5 430.8h12.2v12.2h-12.2zM446.2 478.4h12.2v12.2h-12.2zM553.5 478.4h12.2v12.2h-12.2zM243.7 490.3h12.2v12.2h-12.2zM505.8 526.1h12.2v12.2h-12.2zM136.4 538.0h12.2v12.2h-12.2zM160.2 538.0h12.2v12.2h-12.2zM517.8 549.9h12.2v12.2h-12.2zM350.9 764.4h12.2v12.2h-12.2zM362.8 824.0h12.2v12.2h-12.2zM374.8 835.9h12.2v12.2h-12.2z"/>
<path fill="#696969" d="M374.8 144.8h12.2v12.2h-12.2zM374.8 156.7h12.2v12.2h-12.2zM374.8 168.6h12.2v12.2h-12.2zM374.8 180.5h12.2v12.2h-12.2zM315.2 228.2h12.2v12.2h-12.2zM219.8 466.5h12.2v12.2h-12.2zM243.7 466.5h12.2v12.2h-12.2zM541.6 466.5h12.2v12.2h-12.2zM374.8 490.3h12.2v12.2h-12.2zM458.2 514.2h12.2v12.2h-12.2zM458.2 526.1h12.2v12.2h-12.2zM350.9 812.1h12.2v12.2h-12.2z"/>
<path fill="#6a6a6a" d="M386.7 204.3h12.2v12.2h-12.2zM136.4 311.6h12.2v12.2h-12.2zM148.3 323.5h12.2v12.2h-12.2zM470.1 371.2h12.2v12.2h-12.2zM470.1 395.0h12.2v12.2h-12.2zM160.2 430.8h12.2v12.2h-12.2zM291.3 430.8h12.2v12.2h-12.2zM279.4 442.7h12.2v12.2h-12.2zM136.4 526.1h12.2v12.2h-12.2zM446.2 526.1h12.2v12.2h-12.2zM505.8 561.8h12.2v12.2h-12.2zM482.0 573.8h12.2v12.2h-12.2zM362.8 764.4h12.2v12.2h-12.2zM362.8 776.3h12.2v12.2h-12.2zM362.8 812.1h12.2v12.2h-12.2z"/>
<path fill="#6b6b6b" d="M350.9 228.2h12.2v12.2h-12.2zM565.4 263.9h12.2v12.2h-12.2zM243.7 299.7h12.2v12.2h-12.2zM386.7 299.7h12.2v12.2h-12.2zM827.6 299.7h48.0v12.2h-48.0zM779.9 311.6h12.2v12.2h-12.2zM458.2 335.4h12.2v12.2h-12.2zM219.8 371.2h12.2v12.2h-12.2zM386.7 406.9h12.2v12.2h-12.2zM327.1 466.5h12.2v12.2h-12.2zM434.3 466.5h12.2v12.2h-12.2zM482.0 466.5h12.2v12.2h-12.2zM255.6 478.4h12.2v12.2h-12.2zM386.7 490.3h12.2v12.2h-12.2zM410.5 490.3h12.2v12.2h-12.2zM196.0 514.2h12.2v12.2h-12.2zM148.3 538.0h12.2v12.2h-12.2zM517.8 561.8h12.2v12.2h-12.2zM470.1 573.8h12.2v12.2h-12.2zM339.0 764.4h12.2v12.2h-12.2zM327.1 776.3h12.2v12.2h-12.2zM339.0 788.2h12.2v12.2h-12.2zM386.7 835.9h12.2v12.2h-12.2zM398.6 859.8h12.2v12.2h-12.2zM410.5 883.6h12.2v12.2h-12.2zM410.5 895.5h12.2v12.2h-12.2zM410.5 907.4h12.2v12.2h-12.2zM410.5 919.3h12.2v12.2h-12.2z"/>
<path fill="#6c6c6c" d="M493.9 359.2h12.2v12.2h-12.2zM172.2 406.9h12.2v12.2h-12.2zM482.0 561.8h12.2v12.2h-12.2zM386.7 847.8h12.2v12.2h-12.2zM398.6 871.7h12.2v12.2h-12.2zM398.6 883.6h12.2v12.2h-12.2zM398.6 895.5h12.2v12.2h-12.2zM398.6 907.4h12.2v12.2h-12.2zM398.6 919.3h12.2v12.2h-12.2z"/>
<path fill="#6d6d6d" d="M446.2 144.8h12.2v12.2h-12.2zM601.2 144.8h12.2v12.2h-12.2zM625.0 144.8h12.2v12.2h-12.2zM446.2 156.7h12.2v12.2h-12.2zM601.2 156.7h12.2v12.2h-12.2zM625.0 156.7h12.2v12.2h-12.2zM446.2 168.6h12.2v12.2h-12.2zM601.2 168.6h12.2v12.2h-12.2zM625.0 168.6h12.2v12.2h-12.2zM446.2 180.5h12.2v12.2h-12.2zM601.2 180.5h12.2v12.2h-12.2zM625.0 180.5h12.2v12.2h-12.2zM374.8 192.4h12.2v12.2h-12.2zM446.2 192.4h12.2v12.2h-12.2zM613.1 192.4h12.2v12.2h-12.2zM446.2 204.3h12.2v12.2h-12.2zM827.6 204.3h48.0v12.2h-48.0zM434.3 216.2h12.2v12.2h-12.2zM815.7 228.2h12.2v12.2h-12.2zM136.4 252.0h12.2v12.2h-12.2zM791.8 275.8h12.2v12.2h-12.2zM791.8 287.8h12.2v12.2h-12.2zM88.8 299.7h48.0v12.2h-48.0zM160.2 323.5h12.2v12.2h-12.2zM708.4 323.5h48.0v12.2h-48.0zM172.2 347.3h12.2v12.2h-12.2zM172.2 359.2h12.2v12.2h-12.2zM172.2 371.2h12.2v12.2h-12.2zM172.2 383.1h12.2v12.2h-12.2zM172.2 395.0h12.2v12.2h-12.2zM470.1 406.9h12.2v12.2h-12.2zM172.2 418.8h12.2v12.2h-12.2zM160.2 442.7h12.2v12.2h-12.2zM160.2 454.6h12.2v12.2h-12.2zM160.2 466.5h12.2v12.2h-12.2zM160.2 478.4h12.2v12.2h-12.2zM160.2 490.3h12.2v12.2h-12.2zM398.6 490.3h12.2v12.2h-12.2zM160.2 502.2h12.2v12.2h-12.2zM434.3 502.2h12.2v12.2h-12.2zM160.2 514.2h12.2v12.2h-12.2zM172.2 526.1h12.2v12.2h-12.2zM482.0 585.7h12.2v12.2h-12.2z"/>
<path fill="#6e6e6e" d="M255.6 275.8h12.2v12.2h-12.2zM398.6 275.8h12.2v12.2h-12.2zM815.7 299.7h12.2v12.2h-12.2zM386.7 311.6h12.2v12.2h-12.2zM768.0 311.6h12.2v12.2h-12.2zM672.7 323.5h36.0v12.2h-36.0zM482.0 359.2h12.2v12.2h-12.2zM386.7 395.0h12.2v12.2h-12.2zM243.7 406.9h12.2v12.2h-12.2zM374.8 406.9h12.2v12.2h-12.2zM470.1 418.8h12.2v12.2h-12.2zM350.9 502.2h12.2v12.2h-12.2zM458.2 502.2h12.2v12.2h-12.2zM148.3 526.1h12.2v12.2h-12.2zM493.9 538.0h12.2v12.2h-12.2zM327.1 764.4h12.2v12.2h-12.2z"/>
<path fill="#6f6f6f" d="M803.8 299.7h12.2v12.2h-12.2zM660.8 311.6h12.2v12.2h-12.2zM446.2 514.2h12.2v12.2h-12.2zM350.9 800.2h12.2v12.2h-12.2zM672.7 859.8h12.2v12.2h-12.2zM636.9 871.7h12.2v12.2h-12.2z"/>
<path fill="#707070" d="M267.5 144.8h83.7v12.2h-83.7zM589.2 144.8h12.2v12.2h-12.2zM636.9 144.8h12.2v12.2h-12.2zM815.7 144.8h59.9v12.2h-59.9zM267.5 156.7h83.7v12.2h-83.7zM589.2 156.7h12.2v12.2h-12.2zM636.9 156.7h12.2v12.2h-12.2zM815.7 156.7h59.9v12.2h-59.9zM267.5 168.6h83.7v12.2h-83.7zM589.2 168.6h12.2v12.2h-12.2zM636.9 168.6h12.2v12.2h-12.2zM815.7 168.6h59.9v12.2h-59.9zM267.5 180.5h83.7v12.2h-83.7zM589.2 180.5h12.2v12.2h-12.2zM636.9 180.5h12.2v12.2h-12.2zM815.7 180.5h59.9v12.2h-59.9zM267.5 192.4h95.6v12.2h-95.6zM589.2 192.4h24.1v12.2h-24.1zM625.0 192.4h24.1v12.2h-24.1zM815.7 192.4h12.2v12.2h-12.2zM279.4 204.3h12.2v12.2h-12.2zM362.8 204.3h24.1v12.2h-24.1zM470.1 204.3h24.1v12.2h-24.1zM577.3 204.3h24.1v12.2h-24.1zM625.0 204.3h24.1v12.2h-24.1zM815.7 204.3h12.2v12.2h-12.2zM422.4 216.2h12.2v12.2h-12.2zM446.2 216.2h12.2v12.2h-12.2zM470.1 216.2h24.1v12.2h-24.1zM577.3 216.2h36.0v12.2h-36.0zM815.7 216.2h12.2v12.2h-12.2zM446.2 228.2h48.0v12.2h-48.0zM160.2 240.1h12.2v12.2h-12.2zM219.8 240.1h36.0v12.2h-36.0zM446.2 240.1h48.0v12.2h-48.0zM148.3 252.0h24.1v12.2h-24.1zM219.8 252.0h24.1v12.2h-24.1zM458.2 252.0h36.0v12.2h-36.0zM470.1 263.9h12.2v12.2h-12.2zM136.4 299.7h24.1v12.2h-24.1zM756.1 299.7h12.2v12.2h-12.2zM148.3 311.6h12.2v12.2h-12.2zM172.2 335.4h12.2v12.2h-12.2zM184.1 371.2h24.1v12.2h-24.1zM458.2 383.1h12.2v12.2h-12.2zM303.2 430.8h12.2v12.2h-12.2zM315.2 442.7h24.1v12.2h-24.1zM482.0 442.7h12.2v12.2h-12.2zM327.1 454.6h12.2v12.2h-12.2zM541.6 490.3h12.2v12.2h-12.2zM184.1 502.2h12.2v12.2h-12.2zM529.7 514.2h12.2v12.2h-12.2zM446.2 538.0h12.2v12.2h-12.2zM505.8 549.9h12.2v12.2h-12.2zM470.1 561.8h12.2v12.2h-12.2z"/>
<path fill="#717171" d="M255.6 144.8h12.2v12.2h-12.2zM350.9 144.8h24.1v12.2h-24.1zM458.2 144.8h12.2v12.2h-12.2zM255.6 156.7h12.2v12.2h-12.2zM350.9 156.7h24.1v12.2h-24.1zM458.2 156.7h12.2v12.2h-12.2zM255.6 168.6h12.2v12.2h-12.2zM350.9 168.6h24.1v12.2h-24.1zM458.2 168.6h12.2v12.2h-12.2zM255.6 180.5h12.2v12.2h-12.2zM350.9 180.5h24.1v12.2h-24.1zM458.2 180.5h12.2v12.2h-12.2zM362.8 192.4h12.2v12.2h-12.2zM458.2 192.4h24.1v12.2h-24.1zM827.6 192.4h48.0v12.2h-48.0zM267.5 204.3h12.2v12.2h-12.2zM291.3 204.3h12.2v12.2h-12.2zM458.2 204.3h12.2v12.2h-12.2zM601.2 204.3h24.1v12.2h-24.1zM458.2 216.2h12.2v12.2h-12.2zM613.1 216.2h12.2v12.2h-12.2zM231.8 228.2h12.2v12.2h-12.2zM803.8 252.0h12.2v12.2h-12.2zM779.9 287.8h12.2v12.2h-12.2zM768.0 299.7h36.0v12.2h-36.0zM744.2 311.6h24.1v12.2h-24.1zM505.8 347.3h12.2v12.2h-12.2zM184.1 359.2h12.2v12.2h-12.2zM184.1 383.1h12.2v12.2h-12.2zM517.8 454.6h12.2v12.2h-12.2zM386.7 478.4h24.1v12.2h-24.1zM172.2 490.3h12.2v12.2h-12.2zM172.2 502.2h12.2v12.2h-12.2zM196.0 502.2h24.1v12.2h-24.1zM172.2 514.2h12.2v12.2h-12.2zM160.2 526.1h12.2v12.2h-12.2zM493.9 549.9h12.2v12.2h-12.2zM660.8 883.6h12.2v12.2h-12.2zM660.8 895.5h12.2v12.2h-12.2zM660.8 907.4h12.2v12.2h-12.2zM660.8 919.3h12.2v12.2h-12.2z"/>
<path fill="#727272" d="M231.8 490.3h12.2v12.2h-12.2zM184.1 514.2h12.2v12.2h-12.2zM339.0 776.3h24.1v12.2h-24.1zM350.9 788.2h12.2v12.2h-12.2z"/>
<path fill="#737373" d="M196.0 144.8h24.1v12.2h-24.1zM196.0 156.7h24.1v12.2h-24.1zM196.0 168.6h24.1v12.2h-24.1zM196.0 180.5h24.1v12.2h-24.1zM255.6 192.4h12.2v12.2h-12.2zM279.4 216.2h12.2v12.2h-12.2zM255.6 240.1h12.2v12.2h-12.2zM243.7 252.0h12.2v12.2h-12.2zM446.2 252.0h12.2v12.2h-12.2zM458.2 263.9h12.2v12.2h-12.2zM482.0 263.9h12.2v12.2h-12.2zM791.8 263.9h12.2v12.2h-12.2zM768.0 287.8h12.2v12.2h-12.2zM470.1 359.2h12.2v12.2h-12.2zM172.2 430.8h12.2v12.2h-12.2zM315.2 430.8h12.2v12.2h-12.2zM374.8 478.4h12.2v12.2h-12.2zM505.8 538.0h12.2v12.2h-12.2z"/>
<path fill="#747474" d="M219.8 144.8h36.0v12.2h-36.0zM470.1 144.8h12.2v12.2h-12.2zM577.3 144.8h12.2v12.2h-12.2zM648.8 144.8h12.2v12.2h-12.2zM803.8 144.8h12.2v12.2h-12.2zM219.8 156.7h36.0v12.2h-36.0zM470.1 156.7h12.2v12.2h-12.2zM577.3 156.7h12.2v12.2h-12.2zM648.8 156.7h12.2v12.2h-12.2zM803.8 156.7h12.2v12.2h-12.2zM219.8 168.6h36.0v12.2h-36.0zM470.1 168.6h12.2v12.2h-12.2zM577.3 168.6h12.2v12.2h-12.2zM648.8 168.6h12.2v12.2h-12.2zM803.8 168.6h12.2v12.2h-12.2zM219.8 180.5h36.0v12.2h-36.0zM470.1 180.5h12.2v12.2h-12.2zM577.3 180.5h12.2v12.2h-12.2zM648.8 180.5h12.2v12.2h-12.2zM803.8 180.5h12.2v12.2h-12.2zM577.3 192.4h12.2v12.2h-12.2zM648.8 192.4h12.2v12.2h-12.2zM803.8 192.4h12.2v12.2h-12.2zM255.6 204.3h12.2v12.2h-12.2zM303.2 204.3h59.9v12.2h-59.9zM267.5 216.2h12.2v12.2h-12.2zM374.8 216.2h48.0v12.2h-48.0zM493.9 216.2h12.2v12.2h-12.2zM625.0 216.2h12.2v12.2h-12.2zM243.7 228.2h24.1v12.2h-24.1zM434.3 228.2h12.2v12.2h-12.2zM493.9 228.2h12.2v12.2h-12.2zM589.2 228.2h24.1v12.2h-24.1zM207.9 240.1h12.2v12.2h-12.2zM493.9 240.1h12.2v12.2h-12.2zM88.8 287.8h59.9v12.2h-59.9zM696.5 311.6h48.0v12.2h-48.0zM672.7 335.4h24.1v12.2h-24.1zM517.8 347.3h12.2v12.2h-12.2zM505.8 359.2h12.2v12.2h-12.2zM493.9 371.2h12.2v12.2h-12.2zM184.1 395.0h12.2v12.2h-12.2zM458.2 395.0h12.2v12.2h-12.2zM184.1 406.9h12.2v12.2h-12.2zM291.3 418.8h12.2v12.2h-12.2zM470.1 430.8h12.2v12.2h-12.2zM172.2 442.7h12.2v12.2h-12.2zM517.8 442.7h12.2v12.2h-12.2zM172.2 454.6h12.2v12.2h-12.2zM339.0 454.6h12.2v12.2h-12.2zM172.2 466.5h12.2v12.2h-12.2zM553.5 466.5h12.2v12.2h-12.2zM172.2 478.4h12.2v12.2h-12.2zM565.4 478.4h12.2v12.2h-12.2zM184.1 490.3h12.2v12.2h-12.2zM422.4 490.3h12.2v12.2h-12.2zM374.8 502.2h12.2v12.2h-12.2zM398.6 502.2h12.2v12.2h-12.2zM350.9 514.2h12.2v12.2h-12.2zM196.0 526.1h12.2v12.2h-12.2zM434.3 538.0h12.2v12.2h-12.2zM529.7 573.8h12.2v12.2h-12.2zM458.2 585.7h12.2v12.2h-12.2zM517.8 585.7h12.2v12.2h-12.2zM482.0 609.5h12.2v12.2h-12.2zM255.6 728.7h24.1v12.2h-24.1zM374.8 728.7h12.2v12.2h-12.2zM374.8 740.6h12.2v12.2h-12.2zM362.8 752.5h12.2v12.2h-12.2zM386.7 764.4h12.2v12.2h-12.2zM398.6 776.3h12.2v12.2h-12.2zM601.2 835.9h12.2v12.2h-12.2zM625.0 835.9h12.2v12.2h-12.2zM696.5 847.8h12.2v12.2h-12.2zM684.6 859.8h12.2v12.2h-12.2zM386.7 871.7h12.2v12.2h-12.2z"/>
<path fill="#757575" d="M541.6 347.3h12.2v12.2h-12.2zM505.8 454.6h12.2v12.2h-12.2zM362.8 478.4h12.2v12.2h-12.2zM541.6 478.4h12.2v12.2h-12.2zM529.7 538.0h12.2v12.2h-12.2zM458.2 549.9h12.2v12.2h-12.2z"/>
<path fill="#767676" d="M219.8 228.2h12.2v12.2h-12.2zM219.8 263.9h12.2v12.2h-12.2zM768.0 323.5h12.2v12.2h-12.2zM696.5 335.4h12.2v12.2h-12.2zM565.4 347.3h12.2v12.2h-12.2zM196.0 359.2h12.2v12.2h-12.2zM458.2 371.2h12.2v12.2h-12.2zM279.4 430.8h12.2v12.2h-12.2zM327.1 490.3h12.2v12.2h-12.2zM553.5 490.3h12.2v12.2h-12.2zM231.8 502.2h12.2v12.2h-12.2z"/>
<path fill="#777777" d="M184.1 144.8h12.2v12.2h-12.2zM184.1 156.7h12.2v12.2h-12.2zM184.1 168.6h12.2v12.2h-12.2zM184.1 180.5h12.2v12.2h-12.2zM482.0 192.4h12.2v12.2h-12.2zM493.9 204.3h12.2v12.2h-12.2zM565.4 204.3h12.2v12.2h-12.2zM648.8 204.3h12.2v12.2h-12.2zM803.8 204.3h12.2v12.2h-12.2zM291.3 216.2h12.2v12.2h-12.2zM565.4 216.2h12.2v12.2h-12.2zM636.9 216.2h12.2v12.2h-12.2zM88.8 228.2h71.8v12.2h-71.8zM267.5 228.2h12.2v12.2h-12.2zM577.3 228.2h12.2v12.2h-12.2zM613.1 228.2h12.2v12.2h-12.2zM196.0 240.1h12.2v12.2h-12.2zM172.2 252.0h12.2v12.2h-12.2zM207.9 252.0h12.2v12.2h-12.2zM255.6 252.0h12.2v12.2h-12.2zM493.9 252.0h12.2v12.2h-12.2zM446.2 263.9h12.2v12.2h-12.2zM470.1 275.8h24.1v12.2h-24.1zM779.9 275.8h12.2v12.2h-12.2zM148.3 287.8h12.2v12.2h-12.2zM756.1 287.8h12.2v12.2h-12.2zM744.2 299.7h12.2v12.2h-12.2zM160.2 311.6h12.2v12.2h-12.2zM684.6 311.6h12.2v12.2h-12.2zM184.1 347.3h12.2v12.2h-12.2zM196.0 383.1h12.2v12.2h-12.2zM458.2 406.9h12.2v12.2h-12.2zM184.1 418.8h12.2v12.2h-12.2zM327.1 430.8h12.2v12.2h-12.2zM339.0 442.7h12.2v12.2h-12.2zM470.1 442.7h12.2v12.2h-12.2zM482.0 454.6h24.1v12.2h-24.1zM339.0 466.5h12.2v12.2h-12.2zM386.7 466.5h24.1v12.2h-24.1zM529.7 466.5h12.2v12.2h-12.2zM410.5 478.4h12.2v12.2h-12.2zM196.0 490.3h12.2v12.2h-12.2zM207.9 514.2h12.2v12.2h-12.2zM529.7 561.8h12.2v12.2h-12.2zM350.9 824.0h12.2v12.2h-12.2zM672.7 847.8h12.2v12.2h-12.2z"/>
<path fill="#787878" d="M172.2 240.1h12.2v12.2h-12.2zM827.6 311.6h48.0v12.2h-48.0zM458.2 418.8h12.2v12.2h-12.2zM267.5 454.6h12.2v12.2h-12.2zM219.8 490.3h12.2v12.2h-12.2zM267.5 740.6h12.2v12.2h-12.2zM648.8 871.7h12.2v12.2h-12.2z"/>
<path fill="#797979" d="M672.7 311.6h12.2v12.2h-12.2zM720.3 347.3h12.2v12.2h-12.2zM136.4 395.0h12.2v12.2h-12.2zM446.2 561.8h12.2v12.2h-12.2zM303.2 764.4h12.2v12.2h-12.2zM386.7 824.0h12.2v12.2h-12.2zM625.0 847.8h12.2v12.2h-12.2z"/>
<path fill="#7a7a7a" d="M231.8 216.2h12.2v12.2h-12.2zM362.8 216.2h12.2v12.2h-12.2zM184.1 240.1h12.2v12.2h-12.2zM434.3 240.1h12.2v12.2h-12.2zM160.2 263.9h12.2v12.2h-12.2zM231.8 263.9h12.2v12.2h-12.2zM160.2 299.7h12.2v12.2h-12.2zM744.2 335.4h12.2v12.2h-12.2zM470.1 347.3h12.2v12.2h-12.2zM732.2 347.3h12.2v12.2h-12.2zM207.9 371.2h12.2v12.2h-12.2zM482.0 383.1h12.2v12.2h-12.2zM482.0 395.0h12.2v12.2h-12.2zM303.2 418.8h12.2v12.2h-12.2zM172.2 538.0h12.2v12.2h-12.2zM303.2 752.5h12.2v12.2h-12.2zM362.8 835.9h12.2v12.2h-12.2zM398.6 835.9h12.2v12.2h-12.2zM410.5 859.8h12.2v12.2h-12.2z"/>
<path fill="#7b7b7b" d="M398.6 144.8h12.2v12.2h-12.2zM398.6 156.7h12.2v12.2h-12.2zM398.6 168.6h12.2v12.2h-12.2zM398.6 180.5h12.2v12.2h-12.2zM243.7 204.3h12.2v12.2h-12.2zM482.0 347.3h12.2v12.2h-12.2zM505.8 585.7h12.2v12.2h-12.2zM493.9 597.6h12.2v12.2h-12.2zM648.8 847.8h12.2v12.2h-12.2z"/>
<path fill="#7c7c7c" d="M827.6 263.9h48.0v12.2h-48.0zM207.9 275.8h12.2v12.2h-12.2zM172.2 287.8h36.0v12.2h-36.0zM505.8 287.8h12.2v12.2h-12.2zM243.7 311.6h12.2v12.2h-12.2zM172.2 323.5h12.2v12.2h-12.2zM88.8 371.2h48.0v12.2h-48.0zM136.4 383.1h12.2v12.2h-12.2zM148.3 406.9h12.2v12.2h-12.2zM148.3 418.8h12.2v12.2h-12.2zM279.4 418.8h12.2v12.2h-12.2zM279.4 454.6h12.2v12.2h-12.2zM148.3 466.5h12.2v12.2h-12.2zM315.2 466.5h12.2v12.2h-12.2zM148.3 478.4h12.2v12.2h-12.2zM148.3 490.3h12.2v12.2h-12.2zM422.4 502.2h12.2v12.2h-12.2zM136.4 514.2h12.2v12.2h-12.2zM327.1 788.2h12.2v12.2h-12.2z"/>
<path fill="#7d7d7d" d="M636.9 311.6h12.2v12.2h-12.2zM482.0 418.8h12.2v12.2h-12.2zM148.3 454.6h12.2v12.2h-12.2zM541.6 502.2h12.2v12.2h-12.2zM374.8 752.5h12.2v12.2h-12.2zM339.0 800.2h12.2v12.2h-12.2zM636.9 847.8h12.2v12.2h-12.2zM422.4 883.6h12.2v12.2h-12.2zM422.4 895.5h12.2v12.2h-12.2zM422.4 907.4h12.2v12.2h-12.2zM422.4 919.3h12.2v12.2h-12.2z"/>
<path fill="#7e7e7e" d="M315.2 776.3h12.2v12.2h-12.2zM374.8 847.8h12.2v12.2h-12.2z"/>
<path fill="#7f7f7f" d="M422.4 144.8h12.2v12.2h-12.2zM422.4 156.7h12.2v12.2h-12.2zM422.4 168.6h12.2v12.2h-12.2zM422.4 180.5h12.2v12.2h-12.2zM398.6 192.4h36.0v12.2h-36.0zM815.7 263.9h12.2v12.2h-12.2zM815.7 275.8h59.9v12.2h-59.9zM88.8 323.5h48.0v12.2h-48.0zM88.8 335.4h48.0v12.2h-48.0zM88.8 347.3h71.8v12.2h-71.8zM148.3 359.2h12.2v12.2h-12.2zM136.4 371.2h24.1v12.2h-24.1zM148.3 383.1h12.2v12.2h-12.2zM148.3 395.0h12.2v12.2h-12.2zM482.0 406.9h12.2v12.2h-12.2zM148.3 430.8h12.2v12.2h-12.2zM505.8 442.7h12.2v12.2h-12.2z"/>
<path fill="#808080" d="M410.5 144.8h12.2v12.2h-12.2zM410.5 156.7h12.2v12.2h-12.2zM410.5 168.6h12.2v12.2h-12.2zM410.5 180.5h12.2v12.2h-12.2zM136.4 335.4h12.2v12.2h-12.2zM708.4 335.4h12.2v12.2h-12.2zM88.8 359.2h59.9v12.2h-59.9zM148.3 442.7h12.2v12.2h-12.2zM148.3 502.2h12.2v12.2h-12.2zM88.8 526.1h48.0v12.2h-48.0zM88.8 538.0h48.0v12.2h-48.0zM374.8 764.4h12.2v12.2h-12.2z"/>
<path fill="#818181" d="M493.9 585.7h12.2v12.2h-12.2z"/>
<path fill="#828282" d="M410.5 204.3h24.1v12.2h-24.1zM136.4 240.1h12.2v12.2h-12.2zM815.7 252.0h12.2v12.2h-12.2zM803.8 275.8h12.2v12.2h-12.2zM601.2 323.5h12.2v12.2h-12.2zM148.3 335.4h12.2v12.2h-12.2zM744.2 359.2h12.2v12.2h-12.2zM720.3 371.2h12.2v12.2h-12.2zM493.9 406.9h12.2v12.2h-12.2zM827.6 454.6h48.0v12.2h-48.0zM803.8 466.5h24.1v12.2h-24.1zM565.4 490.3h12.2v12.2h-12.2zM720.3 514.2h12.2v12.2h-12.2zM350.9 526.1h12.2v12.2h-12.2zM517.8 538.0h12.2v12.2h-12.2zM541.6 538.0h12.2v12.2h-12.2zM172.2 549.9h12.2v12.2h-12.2zM339.0 549.9h12.2v12.2h-12.2zM339.0 561.8h12.2v12.2h-12.2zM374.8 597.6h12.2v12.2h-12.2zM482.0 621.4h12.2v12.2h-12.2zM327.1 645.2h12.2v12.2h-12.2zM374.8 716.8h12.2v12.2h-12.2zM279.4 728.7h36.0v12.2h-36.0zM291.3 764.4h12.2v12.2h-12.2zM398.6 764.4h12.2v12.2h-12.2zM410.5 776.3h12.2v12.2h-12.2zM315.2 788.2h12.2v12.2h-12.2zM589.2 824.0h12.2v12.2h-12.2zM577.3 835.9h12.2v12.2h-12.2zM601.2 847.8h12.2v12.2h-12.2zM374.8 859.8h12.2v12.2h-12.2zM636.9 859.8h12.2v12.2h-12.2zM720.3 883.6h12.2v12.2h-12.2zM720.3 895.5h12.2v12.2h-12.2zM720.3 907.4h12.2v12.2h-12.2zM720.3 919.3h12.2v12.2h-12.2z"/>
<path fill="#838383" d="M434.3 144.8h12.2v12.2h-12.2zM434.3 156.7h12.2v12.2h-12.2zM434.3 168.6h12.2v12.2h-12.2zM434.3 180.5h12.2v12.2h-12.2zM386.7 192.4h12.2v12.2h-12.2zM434.3 192.4h12.2v12.2h-12.2zM827.6 216.2h48.0v12.2h-48.0zM815.7 287.8h59.9v12.2h-59.9zM160.2 347.3h12.2v12.2h-12.2zM160.2 359.2h12.2v12.2h-12.2zM160.2 371.2h12.2v12.2h-12.2zM732.2 371.2h12.2v12.2h-12.2zM160.2 383.1h12.2v12.2h-12.2zM160.2 395.0h12.2v12.2h-12.2zM160.2 406.9h12.2v12.2h-12.2zM791.8 478.4h12.2v12.2h-12.2zM732.2 502.2h12.2v12.2h-12.2zM458.2 561.8h12.2v12.2h-12.2zM493.9 609.5h12.2v12.2h-12.2zM303.2 776.3h12.2v12.2h-12.2z"/>
<path fill="#848484" d="M660.8 335.4h12.2v12.2h-12.2zM720.3 335.4h24.1v12.2h-24.1zM315.2 764.4h12.2v12.2h-12.2zM374.8 824.0h12.2v12.2h-12.2zM398.6 847.8h12.2v12.2h-12.2zM410.5 871.7h12.2v12.2h-12.2z"/>
<path fill="#858585" d="M398.6 204.3h12.2v12.2h-12.2zM88.8 252.0h48.0v12.2h-48.0zM708.4 347.3h12.2v12.2h-12.2zM756.1 478.4h12.2v12.2h-12.2zM744.2 514.2h12.2v12.2h-12.2zM267.5 752.5h12.2v12.2h-12.2zM315.2 752.5h12.2v12.2h-12.2zM339.0 812.1h12.2v12.2h-12.2zM398.6 824.0h12.2v12.2h-12.2zM386.7 883.6h12.2v12.2h-12.2zM386.7 895.5h12.2v12.2h-12.2zM386.7 907.4h12.2v12.2h-12.2zM386.7 919.3h12.2v12.2h-12.2z"/>
<path fill="#868686" d="M434.3 204.3h12.2v12.2h-12.2zM803.8 263.9h12.2v12.2h-12.2zM803.8 287.8h12.2v12.2h-12.2zM88.8 311.6h48.0v12.2h-48.0zM136.4 323.5h12.2v12.2h-12.2zM160.2 335.4h12.2v12.2h-12.2zM482.0 371.2h12.2v12.2h-12.2zM160.2 418.8h12.2v12.2h-12.2zM768.0 478.4h24.1v12.2h-24.1zM744.2 490.3h12.2v12.2h-12.2zM434.3 883.6h12.2v12.2h-12.2zM434.3 895.5h12.2v12.2h-12.2zM434.3 907.4h12.2v12.2h-12.2zM434.3 919.3h12.2v12.2h-12.2z"/>
<path fill="#878787" d="M327.1 478.4h12.2v12.2h-12.2zM243.7 502.2h12.2v12.2h-12.2zM148.3 514.2h12.2v12.2h-12.2zM541.6 514.2h12.2v12.2h-12.2z"/>
<path fill="#888888" d="M779.9 323.5h12.2v12.2h-12.2zM315.2 478.4h12.2v12.2h-12.2zM88.8 549.9h48.0v12.2h-48.0zM517.8 573.8h12.2v12.2h-12.2zM648.8 824.0h12.2v12.2h-12.2zM613.1 871.7h12.2v12.2h-12.2z"/>
<path fill="#898989" d="M613.1 144.8h12.2v12.2h-12.2zM613.1 156.7h12.2v12.2h-12.2zM613.1 168.6h12.2v12.2h-12.2zM613.1 180.5h12.2v12.2h-12.2zM148.3 240.1h12.2v12.2h-12.2zM470.1 383.1h12.2v12.2h-12.2zM541.6 454.6h12.2v12.2h-12.2zM756.1 490.3h12.2v12.2h-12.2zM279.4 752.5h12.2v12.2h-12.2zM386.7 752.5h12.2v12.2h-12.2zM636.9 824.0h12.2v12.2h-12.2z"/>
<path fill="#8a8a8a" d="M279.4 466.5h12.2v12.2h-12.2zM339.0 752.5h12.2v12.2h-12.2zM660.8 859.8h12.2v12.2h-12.2z"/>
<path fill="#8b8b8b" d="M88.8 418.8h48.0v12.2h-48.0zM136.4 442.7h12.2v12.2h-12.2zM136.4 549.9h24.1v12.2h-24.1z"/>
<path fill="#8c8c8c" d="M720.3 359.2h12.2v12.2h-12.2zM362.8 490.3h12.2v12.2h-12.2zM744.2 502.2h12.2v12.2h-12.2zM339.0 514.2h12.2v12.2h-12.2zM732.2 514.2h12.2v12.2h-12.2zM160.2 549.9h12.2v12.2h-12.2zM434.3 549.9h12.2v12.2h-12.2zM446.2 573.8h12.2v12.2h-12.2zM410.5 847.8h12.2v12.2h-12.2zM422.4 871.7h12.2v12.2h-12.2z"/>
<path fill="#8d8d8d" d="M255.6 740.6h12.2v12.2h-12.2z"/>
<path fill="#8e8e8e" d="M136.4 502.2h12.2v12.2h-12.2z"/>
<path fill="#8f8f8f" d="M744.2 347.3h12.2v12.2h-12.2zM88.8 406.9h48.0v12.2h-48.0zM136.4 430.8h12.2v12.2h-12.2zM267.5 478.4h12.2v12.2h-12.2zM255.6 490.3h12.2v12.2h-12.2zM648.8 835.9h12.2v12.2h-12.2zM589.2 847.8h12.2v12.2h-12.2z"/>
<path fill="#909090" d="M291.3 740.6h12.2v12.2h-12.2z"/>
<path fill="#919191" d="M827.6 252.0h48.0v12.2h-48.0zM88.8 395.0h48.0v12.2h-48.0z"/>
<path fill="#929292" d="M136.4 418.8h12.2v12.2h-12.2zM815.7 418.8h12.2v12.2h-12.2zM493.9 430.8h12.2v12.2h-12.2zM779.9 466.5h12.2v12.2h-12.2zM88.8 514.2h48.0v12.2h-48.0zM350.9 538.0h12.2v12.2h-12.2zM386.7 573.8h12.2v12.2h-12.2zM422.4 585.7h12.2v12.2h-12.2zM446.2 585.7h12.2v12.2h-12.2zM350.9 597.6h12.2v12.2h-12.2zM327.1 633.3h12.2v12.2h-12.2zM756.1 633.3h12.2v12.2h-12.2zM744.2 645.2h12.2v12.2h-12.2zM362.8 704.8h24.1v12.2h-24.1zM243.7 716.8h12.2v12.2h-12.2zM291.3 752.5h12.2v12.2h-12.2zM374.8 776.3h12.2v12.2h-12.2zM410.5 788.2h12.2v12.2h-12.2zM577.3 824.0h12.2v12.2h-12.2zM613.1 835.9h12.2v12.2h-12.2zM577.3 847.8h12.2v12.2h-12.2z"/>
<path fill="#939393" d="M827.6 418.8h48.0v12.2h-48.0zM529.7 526.1h12.2v12.2h-12.2zM339.0 573.8h12.2v12.2h-12.2zM374.8 812.1h12.2v12.2h-12.2zM589.2 835.9h12.2v12.2h-12.2z"/>
<path fill="#949494" d="M827.6 228.2h48.0v12.2h-48.0zM732.2 359.2h12.2v12.2h-12.2zM303.2 454.6h12.2v12.2h-12.2zM696.5 538.0h12.2v12.2h-12.2zM386.7 597.6h12.2v12.2h-12.2zM279.4 740.6h12.2v12.2h-12.2z"/>
<path fill="#959595" d="M88.8 383.1h48.0v12.2h-48.0zM136.4 406.9h12.2v12.2h-12.2zM386.7 502.2h12.2v12.2h-12.2zM410.5 502.2h12.2v12.2h-12.2zM434.3 514.2h12.2v12.2h-12.2zM362.8 585.7h12.2v12.2h-12.2zM327.1 800.2h12.2v12.2h-12.2zM660.8 847.8h12.2v12.2h-12.2z"/>
<path fill="#969696" d="M529.7 585.7h12.2v12.2h-12.2zM636.9 835.9h12.2v12.2h-12.2zM625.0 871.7h12.2v12.2h-12.2z"/>
<path fill="#979797" d="M529.7 442.7h12.2v12.2h-12.2zM791.8 466.5h12.2v12.2h-12.2zM362.8 502.2h12.2v12.2h-12.2zM720.3 538.0h12.2v12.2h-12.2zM541.6 549.9h12.2v12.2h-12.2zM398.6 573.8h12.2v12.2h-12.2zM541.6 573.8h12.2v12.2h-12.2zM303.2 740.6h12.2v12.2h-12.2zM255.6 752.5h12.2v12.2h-12.2zM350.9 835.9h12.2v12.2h-12.2z"/>
<path fill="#989898" d="M708.4 526.1h12.2v12.2h-12.2zM410.5 573.8h12.2v12.2h-12.2zM410.5 585.7h12.2v12.2h-12.2zM386.7 740.6h12.2v12.2h-12.2zM648.8 812.1h12.2v12.2h-12.2zM362.8 847.8h12.2v12.2h-12.2zM672.7 883.6h12.2v12.2h-12.2zM672.7 895.5h12.2v12.2h-12.2zM672.7 907.4h12.2v12.2h-12.2zM672.7 919.3h12.2v12.2h-12.2z"/>
<path fill="#999999" d="M529.7 549.9h12.2v12.2h-12.2zM625.0 883.6h12.2v12.2h-12.2zM625.0 895.5h12.2v12.2h-12.2zM625.0 907.4h12.2v12.2h-12.2zM625.0 919.3h12.2v12.2h-12.2z"/>
<path fill="#9a9a9a" d="M386.7 144.8h12.2v12.2h-12.2zM386.7 156.7h12.2v12.2h-12.2zM386.7 168.6h12.2v12.2h-12.2zM386.7 180.5h12.2v12.2h-12.2zM88.8 240.1h48.0v12.2h-48.0zM505.8 430.8h12.2v12.2h-12.2zM291.3 442.7h12.2v12.2h-12.2zM744.2 478.4h12.2v12.2h-12.2zM756.1 514.2h12.2v12.2h-12.2zM517.8 526.1h12.2v12.2h-12.2zM493.9 561.8h12.2v12.2h-12.2zM422.4 573.8h12.2v12.2h-12.2zM458.2 573.8h12.2v12.2h-12.2zM493.9 573.8h12.2v12.2h-12.2zM636.9 812.1h12.2v12.2h-12.2zM660.8 824.0h12.2v12.2h-12.2zM613.1 847.8h12.2v12.2h-12.2zM422.4 859.8h12.2v12.2h-12.2zM625.0 859.8h12.2v12.2h-12.2z"/>
<path fill="#9b9b9b" d="M803.8 478.4h12.2v12.2h-12.2zM732.2 526.1h12.2v12.2h-12.2zM708.4 538.0h12.2v12.2h-12.2zM505.8 597.6h12.2v12.2h-12.2zM613.1 824.0h12.2v12.2h-12.2z"/>
<path fill="#9c9c9c" d="M493.9 383.1h12.2v12.2h-12.2zM88.8 442.7h48.0v12.2h-48.0zM422.4 514.2h12.2v12.2h-12.2zM434.3 573.8h12.2v12.2h-12.2zM398.6 585.7h12.2v12.2h-12.2z"/>
<path fill="#9d9d9d" d="M791.8 323.5h12.2v12.2h-12.2zM362.8 597.6h12.2v12.2h-12.2zM386.7 812.1h12.2v12.2h-12.2z"/>
<path fill="#9e9e9e" d="M648.8 323.5h12.2v12.2h-12.2zM827.6 466.5h48.0v12.2h-48.0zM768.0 490.3h12.2v12.2h-12.2zM410.5 835.9h12.2v12.2h-12.2z"/>
<path fill="#9f9f9f" d="M374.8 585.7h24.1v12.2h-24.1zM589.2 859.8h12.2v12.2h-12.2z"/>
<path fill="#a0a0a0" d="M577.3 383.1h12.2v12.2h-12.2zM136.4 466.5h12.2v12.2h-12.2zM303.2 466.5h12.2v12.2h-12.2zM136.4 478.4h12.2v12.2h-12.2zM88.8 502.2h48.0v12.2h-48.0zM708.4 561.8h12.2v12.2h-12.2zM553.5 573.8h12.2v12.2h-12.2zM470.1 597.6h12.2v12.2h-12.2zM708.4 597.6h12.2v12.2h-12.2zM756.1 621.4h12.2v12.2h-12.2zM732.2 645.2h12.2v12.2h-12.2zM756.1 645.2h12.2v12.2h-12.2zM720.3 716.8h12.2v12.2h-12.2zM791.8 764.4h12.2v12.2h-12.2zM684.6 776.3h12.2v12.2h-12.2zM422.4 824.0h12.2v12.2h-12.2z"/>
<path fill="#a1a1a1" d="M219.8 514.2h12.2v12.2h-12.2zM768.0 621.4h12.2v12.2h-12.2z"/>
<path fill="#a2a2a2" d="M756.1 502.2h12.2v12.2h-12.2zM720.3 526.1h12.2v12.2h-12.2zM660.8 835.9h12.2v12.2h-12.2zM720.3 871.7h12.2v12.2h-12.2z"/>
<path fill="#a3a3a3" d="M684.6 526.1h12.2v12.2h-12.2zM768.0 526.1h12.2v12.2h-12.2zM720.3 549.9h12.2v12.2h-12.2zM684.6 788.2h12.2v12.2h-12.2zM601.2 812.1h12.2v12.2h-12.2z"/>
<path fill="#a4a4a4" d="M613.1 323.5h12.2v12.2h-12.2zM756.1 335.4h12.2v12.2h-12.2zM88.8 430.8h48.0v12.2h-48.0zM136.4 454.6h12.2v12.2h-12.2zM136.4 490.3h12.2v12.2h-12.2zM362.8 573.8h12.2v12.2h-12.2zM601.2 824.0h12.2v12.2h-12.2zM625.0 824.0h12.2v12.2h-12.2z"/>
<path fill="#a5a5a5" d="M815.7 395.0h12.2v12.2h-12.2zM434.3 561.8h12.2v12.2h-12.2zM708.4 847.8h12.2v12.2h-12.2z"/>
<path fill="#a6a6a6" d="M803.8 418.8h12.2v12.2h-12.2zM756.1 466.5h12.2v12.2h-12.2zM732.2 478.4h12.2v12.2h-12.2zM672.7 538.0h12.2v12.2h-12.2zM672.7 549.9h12.2v12.2h-12.2zM696.5 561.8h12.2v12.2h-12.2zM398.6 597.6h12.2v12.2h-12.2zM327.1 609.5h12.2v12.2h-12.2zM327.1 621.4h12.2v12.2h-12.2zM243.7 752.5h12.2v12.2h-12.2zM446.2 883.6h12.2v12.2h-12.2zM446.2 895.5h12.2v12.2h-12.2zM446.2 907.4h12.2v12.2h-12.2zM446.2 919.3h12.2v12.2h-12.2z"/>
<path fill="#a7a7a7" d="M362.8 609.5h12.2v12.2h-12.2zM386.7 728.7h12.2v12.2h-12.2zM374.8 788.2h12.2v12.2h-12.2zM636.9 800.2h12.2v12.2h-12.2z"/>
<path fill="#a8a8a8" d="M291.3 454.6h12.2v12.2h-12.2zM553.5 454.6h12.2v12.2h-12.2zM744.2 633.3h12.2v12.2h-12.2zM374.8 800.2h12.2v12.2h-12.2zM672.7 824.0h12.2v12.2h-12.2z"/>
<path fill="#a9a9a9" d="M601.2 335.4h12.2v12.2h-12.2zM648.8 335.4h12.2v12.2h-12.2zM756.1 347.3h12.2v12.2h-12.2zM744.2 371.2h12.2v12.2h-12.2zM827.6 395.0h48.0v12.2h-48.0zM732.2 538.0h12.2v12.2h-12.2zM327.1 597.6h12.2v12.2h-12.2zM422.4 847.8h12.2v12.2h-12.2z"/>
<path fill="#aaaaaa" d="M827.6 240.1h48.0v12.2h-48.0zM648.8 311.6h12.2v12.2h-12.2zM529.7 347.3h12.2v12.2h-12.2zM732.2 383.1h12.2v12.2h-12.2zM815.7 454.6h12.2v12.2h-12.2zM434.3 526.1h12.2v12.2h-12.2zM684.6 549.9h12.2v12.2h-12.2zM327.1 561.8h12.2v12.2h-12.2zM327.1 585.7h12.2v12.2h-12.2zM339.0 609.5h24.1v12.2h-24.1zM350.9 752.5h12.2v12.2h-12.2zM386.7 776.3h12.2v12.2h-12.2zM339.0 824.0h12.2v12.2h-12.2z"/>
<path fill="#ababab" d="M422.4 538.0h12.2v12.2h-12.2z"/>
<path fill="#acacac" d="M327.1 514.2h12.2v12.2h-12.2zM410.5 514.2h12.2v12.2h-12.2zM708.4 514.2h12.2v12.2h-12.2zM768.0 514.2h12.2v12.2h-12.2zM350.9 549.9h12.2v12.2h-12.2zM422.4 561.8h12.2v12.2h-12.2zM374.8 573.8h12.2v12.2h-12.2zM339.0 585.7h12.2v12.2h-12.2z"/>
<path fill="#adadad" d="M768.0 466.5h12.2v12.2h-12.2zM815.7 478.4h12.2v12.2h-12.2zM791.8 490.3h12.2v12.2h-12.2zM386.7 514.2h12.2v12.2h-12.2zM756.1 526.1h12.2v12.2h-12.2zM327.1 573.8h12.2v12.2h-12.2zM243.7 728.7h12.2v12.2h-12.2zM279.4 764.4h12.2v12.2h-12.2zM625.0 812.1h12.2v12.2h-12.2zM660.8 812.1h12.2v12.2h-12.2zM434.3 871.7h12.2v12.2h-12.2z"/>
<path fill="#aeaeae" d="M720.3 383.1h12.2v12.2h-12.2zM815.7 406.9h12.2v12.2h-12.2zM386.7 800.2h12.2v12.2h-12.2z"/>
<path fill="#afafaf" d="M88.8 466.5h48.0v12.2h-48.0zM88.8 478.4h48.0v12.2h-48.0zM303.2 478.4h12.2v12.2h-12.2zM374.8 514.2h12.2v12.2h-12.2z"/>
<path fill="#b0b0b0" d="M708.4 359.2h12.2v12.2h-12.2zM601.2 383.1h12.2v12.2h-12.2zM720.3 502.2h12.2v12.2h-12.2zM768.0 502.2h12.2v12.2h-12.2zM696.5 526.1h12.2v12.2h-12.2zM684.6 538.0h12.2v12.2h-12.2zM696.5 549.9h12.2v12.2h-12.2zM565.4 573.8h12.2v12.2h-12.2zM339.0 597.6h12.2v12.2h-12.2zM779.9 609.5h12.2v12.2h-12.2zM362.8 692.9h12.2v12.2h-12.2zM196.0 728.7h12.2v12.2h-12.2zM827.6 728.7h48.0v12.2h-48.0zM184.1 740.6h12.2v12.2h-12.2zM243.7 740.6h12.2v12.2h-12.2zM708.4 740.6h12.2v12.2h-12.2z"/>
<path fill="#b1b1b1" d="M732.2 395.0h12.2v12.2h-12.2zM720.3 478.4h12.2v12.2h-12.2zM708.4 549.9h12.2v12.2h-12.2zM696.5 621.4h12.2v12.2h-12.2zM732.2 692.9h12.2v12.2h-12.2zM613.1 883.6h12.2v12.2h-12.2zM708.4 883.6h12.2v12.2h-12.2zM613.1 895.5h12.2v12.2h-12.2zM708.4 895.5h12.2v12.2h-12.2zM613.1 907.4h12.2v12.2h-12.2zM708.4 907.4h12.2v12.2h-12.2zM613.1 919.3h12.2v12.2h-12.2zM708.4 919.3h12.2v12.2h-12.2z"/>
<path fill="#b2b2b2" d="M565.4 395.0h12.2v12.2h-12.2zM827.6 406.9h48.0v12.2h-48.0zM88.8 490.3h48.0v12.2h-48.0zM267.5 490.3h12.2v12.2h-12.2zM803.8 514.2h12.2v12.2h-12.2zM303.2 585.7h12.2v12.2h-12.2zM779.9 621.4h12.2v12.2h-12.2zM732.2 657.2h12.2v12.2h-12.2zM708.4 669.1h12.2v12.2h-12.2zM720.3 728.7h12.2v12.2h-12.2zM386.7 788.2h12.2v12.2h-12.2zM648.8 788.2h12.2v12.2h-12.2zM410.5 824.0h12.2v12.2h-12.2z"/>
<path fill="#b3b3b3" d="M803.8 323.5h12.2v12.2h-12.2zM88.8 454.6h48.0v12.2h-48.0zM279.4 478.4h12.2v12.2h-12.2zM255.6 502.2h12.2v12.2h-12.2zM565.4 514.2h12.2v12.2h-12.2zM410.5 538.0h12.2v12.2h-12.2zM350.9 728.7h12.2v12.2h-12.2z"/>
<path fill="#b4b4b4" d="M601.2 371.2h12.2v12.2h-12.2zM779.9 490.3h12.2v12.2h-12.2zM339.0 526.1h12.2v12.2h-12.2zM386.7 526.1h12.2v12.2h-12.2zM744.2 526.1h12.2v12.2h-12.2zM565.4 538.0h12.2v12.2h-12.2zM219.8 740.6h12.2v12.2h-12.2z"/>
<path fill="#b5b5b5" d="M827.6 371.2h48.0v12.2h-48.0zM708.4 395.0h12.2v12.2h-12.2zM803.8 430.8h12.2v12.2h-12.2zM291.3 466.5h12.2v12.2h-12.2zM315.2 490.3h12.2v12.2h-12.2zM815.7 502.2h12.2v12.2h-12.2zM636.9 526.1h12.2v12.2h-12.2zM636.9 549.9h12.2v12.2h-12.2zM648.8 561.8h12.2v12.2h-12.2zM720.3 597.6h12.2v12.2h-12.2zM672.7 621.4h12.2v12.2h-12.2zM696.5 669.1h12.2v12.2h-12.2zM684.6 681.0h12.2v12.2h-12.2zM684.6 692.9h24.1v12.2h-24.1zM732.2 716.8h12.2v12.2h-12.2zM207.9 740.6h12.2v12.2h-12.2zM219.8 764.4h24.1v12.2h-24.1zM779.9 764.4h12.2v12.2h-12.2zM803.8 764.4h12.2v12.2h-12.2zM672.7 776.3h12.2v12.2h-12.2zM422.4 788.2h12.2v12.2h-12.2zM636.9 788.2h12.2v12.2h-12.2zM708.4 859.8h12.2v12.2h-12.2z"/>
<path fill="#b6b6b6" d="M791.8 406.9h12.2v12.2h-12.2zM207.9 526.1h12.2v12.2h-12.2zM541.6 561.8h12.2v12.2h-12.2zM410.5 597.6h12.2v12.2h-12.2zM720.3 609.5h12.2v12.2h-12.2zM732.2 704.8h12.2v12.2h-12.2zM803.8 752.5h12.2v12.2h-12.2zM398.6 788.2h12.2v12.2h-12.2zM732.2 883.6h12.2v12.2h-12.2zM732.2 895.5h12.2v12.2h-12.2zM732.2 907.4h12.2v12.2h-12.2zM732.2 919.3h12.2v12.2h-12.2z"/>
<path fill="#b7b7b7" d="M565.4 371.2h12.2v12.2h-12.2zM291.3 490.3h12.2v12.2h-12.2zM732.2 490.3h12.2v12.2h-12.2zM315.2 514.2h12.2v12.2h-12.2zM672.7 835.9h12.2v12.2h-12.2z"/>
<path fill="#b8b8b8" d="M589.2 335.4h12.2v12.2h-12.2zM577.3 347.3h12.2v12.2h-12.2zM589.2 359.2h12.2v12.2h-12.2zM493.9 395.0h12.2v12.2h-12.2zM803.8 395.0h12.2v12.2h-12.2zM493.9 418.8h12.2v12.2h-12.2zM791.8 418.8h12.2v12.2h-12.2zM827.6 490.3h48.0v12.2h-48.0zM327.1 502.2h12.2v12.2h-12.2zM827.6 502.2h48.0v12.2h-48.0zM255.6 514.2h12.2v12.2h-12.2zM362.8 514.2h12.2v12.2h-12.2zM696.5 514.2h12.2v12.2h-12.2zM791.8 514.2h12.2v12.2h-12.2zM541.6 526.1h12.2v12.2h-12.2zM565.4 526.1h12.2v12.2h-12.2zM648.8 526.1h24.1v12.2h-24.1zM184.1 538.0h12.2v12.2h-12.2zM636.9 538.0h12.2v12.2h-12.2zM756.1 538.0h12.2v12.2h-12.2zM398.6 561.8h12.2v12.2h-12.2zM672.7 573.8h12.2v12.2h-12.2zM672.7 585.7h12.2v12.2h-12.2zM672.7 597.6h12.2v12.2h-12.2zM684.6 621.4h12.2v12.2h-12.2zM231.8 740.6h12.2v12.2h-12.2zM362.8 740.6h12.2v12.2h-12.2zM410.5 812.1h12.2v12.2h-12.2zM684.6 812.1h12.2v12.2h-12.2zM601.2 871.7h12.2v12.2h-12.2zM708.4 871.7h12.2v12.2h-12.2zM684.6 883.6h12.2v12.2h-12.2zM684.6 895.5h12.2v12.2h-12.2zM684.6 907.4h12.2v12.2h-12.2zM684.6 919.3h12.2v12.2h-12.2z"/>
<path fill="#b9b9b9" d="M589.2 371.2h12.2v12.2h-12.2zM815.7 383.1h12.2v12.2h-12.2zM779.9 526.1h12.2v12.2h-12.2zM660.8 561.8h12.2v12.2h-12.2zM315.2 573.8h12.2v12.2h-12.2zM696.5 585.7h12.2v12.2h-12.2zM315.2 597.6h12.2v12.2h-12.2zM672.7 609.5h12.2v12.2h-12.2zM696.5 681.0h12.2v12.2h-12.2zM720.3 704.8h12.2v12.2h-12.2zM196.0 740.6h12.2v12.2h-12.2zM219.8 752.5h12.2v12.2h-12.2zM791.8 752.5h12.2v12.2h-12.2zM696.5 776.3h12.2v12.2h-12.2zM696.5 788.2h12.2v12.2h-12.2zM684.6 824.0h12.2v12.2h-12.2z"/>
<path fill="#bababa" d="M768.0 633.3h12.2v12.2h-12.2zM339.0 645.2h12.2v12.2h-12.2zM577.3 859.8h12.2v12.2h-12.2z"/>
<path fill="#bbbbbb" d="M756.1 359.2h12.2v12.2h-12.2zM565.4 383.1h12.2v12.2h-12.2zM720.3 395.0h12.2v12.2h-12.2zM505.8 418.8h12.2v12.2h-12.2zM267.5 502.2h12.2v12.2h-12.2zM803.8 502.2h12.2v12.2h-12.2zM327.1 526.1h12.2v12.2h-12.2zM625.0 800.2h12.2v12.2h-12.2zM684.6 800.2h12.2v12.2h-12.2z"/>
<path fill="#bcbcbc" d="M708.4 383.1h12.2v12.2h-12.2zM744.2 466.5h12.2v12.2h-12.2zM648.8 538.0h12.2v12.2h-12.2zM648.8 549.9h12.2v12.2h-12.2zM684.6 573.8h24.1v12.2h-24.1zM684.6 585.7h12.2v12.2h-12.2zM684.6 597.6h12.2v12.2h-12.2zM684.6 609.5h36.0v12.2h-36.0zM672.7 788.2h12.2v12.2h-12.2zM660.8 800.2h24.1v12.2h-24.1z"/>
<path fill="#bdbdbd" d="M219.8 526.1h12.2v12.2h-12.2zM339.0 633.3h12.2v12.2h-12.2z"/>
<path fill="#bebebe" d="M577.3 371.2h12.2v12.2h-12.2zM279.4 490.3h12.2v12.2h-12.2zM303.2 490.3h12.2v12.2h-12.2zM720.3 490.3h12.2v12.2h-12.2zM315.2 502.2h12.2v12.2h-12.2zM791.8 502.2h12.2v12.2h-12.2zM672.7 526.1h12.2v12.2h-12.2zM744.2 538.0h12.2v12.2h-12.2zM327.1 549.9h12.2v12.2h-12.2zM672.7 561.8h12.2v12.2h-12.2zM505.8 609.5h12.2v12.2h-12.2zM398.6 692.9h12.2v12.2h-12.2zM267.5 764.4h12.2v12.2h-12.2zM613.1 776.3h12.2v12.2h-12.2zM303.2 788.2h12.2v12.2h-12.2zM398.6 800.2h12.2v12.2h-12.2zM768.0 847.8h12.2v12.2h-12.2z"/>
<path fill="#bfbfbf" d="M589.2 347.3h12.2v12.2h-12.2zM577.3 359.2h12.2v12.2h-12.2zM827.6 383.1h48.0v12.2h-48.0zM827.6 430.8h48.0v12.2h-48.0zM827.6 442.7h48.0v12.2h-48.0zM696.5 490.3h12.2v12.2h-12.2zM779.9 514.2h12.2v12.2h-12.2zM660.8 538.0h12.2v12.2h-12.2zM660.8 549.9h12.2v12.2h-12.2zM172.2 561.8h12.2v12.2h-12.2zM315.2 585.7h12.2v12.2h-12.2zM541.6 585.7h12.2v12.2h-12.2zM696.5 597.6h12.2v12.2h-12.2zM374.8 609.5h12.2v12.2h-12.2zM231.8 752.5h12.2v12.2h-12.2zM589.2 812.1h12.2v12.2h-12.2z"/>
<path fill="#c0c0c0" d="M672.7 347.3h12.2v12.2h-12.2zM553.5 526.1h12.2v12.2h-12.2zM339.0 621.4h12.2v12.2h-12.2zM696.5 645.2h12.2v12.2h-12.2zM791.8 704.8h12.2v12.2h-12.2zM791.8 728.7h12.2v12.2h-12.2zM184.1 776.3h12.2v12.2h-12.2zM720.3 800.2h12.2v12.2h-12.2z"/>
<path fill="#c1c1c1" d="M184.1 549.9h12.2v12.2h-12.2zM410.5 561.8h12.2v12.2h-12.2zM243.7 585.7h12.2v12.2h-12.2zM648.8 704.8h12.2v12.2h-12.2zM768.0 788.2h12.2v12.2h-12.2zM756.1 824.0h12.2v12.2h-12.2zM768.0 835.9h12.2v12.2h-12.2z"/>
<path fill="#c2c2c2" d="M517.8 430.8h12.2v12.2h-12.2zM803.8 490.3h12.2v12.2h-12.2zM779.9 502.2h12.2v12.2h-12.2zM243.7 514.2h12.2v12.2h-12.2zM553.5 538.0h12.2v12.2h-12.2zM88.8 561.8h71.8v12.2h-71.8zM684.6 561.8h12.2v12.2h-12.2zM493.9 621.4h12.2v12.2h-12.2zM350.9 740.6h12.2v12.2h-12.2zM291.3 776.3h12.2v12.2h-12.2zM672.7 812.1h12.2v12.2h-12.2z"/>
<path fill="#c3c3c3" d="M803.8 406.9h12.2v12.2h-12.2zM791.8 538.0h12.2v12.2h-12.2zM160.2 561.8h12.2v12.2h-12.2zM470.1 609.5h12.2v12.2h-12.2zM350.9 645.2h12.2v12.2h-12.2z"/>
<path fill="#c4c4c4" d="M613.1 371.2h12.2v12.2h-12.2zM636.9 371.2h12.2v12.2h-12.2zM589.2 406.9h12.2v12.2h-12.2zM720.3 430.8h12.2v12.2h-12.2zM636.9 442.7h12.2v12.2h-12.2zM684.6 442.7h12.2v12.2h-12.2zM601.2 466.5h12.2v12.2h-12.2zM672.7 466.5h12.2v12.2h-12.2zM601.2 502.2h12.2v12.2h-12.2zM553.5 514.2h12.2v12.2h-12.2zM279.4 526.1h12.2v12.2h-12.2zM267.5 538.0h12.2v12.2h-12.2zM231.8 549.9h12.2v12.2h-12.2zM613.1 549.9h12.2v12.2h-12.2zM768.0 549.9h12.2v12.2h-12.2zM577.3 561.8h12.2v12.2h-12.2zM279.4 573.8h12.2v12.2h-12.2zM160.2 585.7h12.2v12.2h-12.2zM255.6 585.7h24.1v12.2h-24.1zM625.0 585.7h12.2v12.2h-12.2zM291.3 597.6h12.2v12.2h-12.2zM648.8 597.6h12.2v12.2h-12.2zM136.4 609.5h24.1v12.2h-24.1zM815.7 645.2h12.2v12.2h-12.2zM684.6 657.2h12.2v12.2h-12.2zM815.7 669.1h12.2v12.2h-12.2zM768.0 681.0h12.2v12.2h-12.2zM660.8 692.9h12.2v12.2h-12.2zM339.0 716.8h12.2v12.2h-12.2zM660.8 716.8h12.2v12.2h-12.2zM815.7 716.8h12.2v12.2h-12.2zM184.1 728.7h12.2v12.2h-12.2zM672.7 728.7h12.2v12.2h-12.2zM744.2 740.6h12.2v12.2h-12.2zM422.4 764.4h12.2v12.2h-12.2zM720.3 764.4h12.2v12.2h-12.2zM744.2 764.4h12.2v12.2h-12.2zM660.8 776.3h12.2v12.2h-12.2zM756.1 776.3h12.2v12.2h-12.2zM434.3 835.9h12.2v12.2h-12.2z"/>
<path fill="#c5c5c5" d="M779.9 347.3h12.2v12.2h-12.2zM565.4 359.2h12.2v12.2h-12.2zM708.4 371.2h12.2v12.2h-12.2zM291.3 478.4h12.2v12.2h-12.2zM827.6 478.4h48.0v12.2h-48.0zM196.0 538.0h12.2v12.2h-12.2zM434.3 585.7h12.2v12.2h-12.2zM779.9 716.8h12.2v12.2h-12.2zM398.6 752.5h12.2v12.2h-12.2zM732.2 752.5h12.2v12.2h-12.2zM613.1 812.1h12.2v12.2h-12.2zM422.4 835.9h12.2v12.2h-12.2zM756.1 835.9h12.2v12.2h-12.2z"/>
<path fill="#c6c6c6" d="M827.6 323.5h48.0v12.2h-48.0zM768.0 335.4h12.2v12.2h-12.2zM779.9 359.2h12.2v12.2h-12.2zM517.8 395.0h12.2v12.2h-12.2zM803.8 442.7h12.2v12.2h-12.2zM291.3 514.2h12.2v12.2h-12.2zM207.9 549.9h12.2v12.2h-12.2zM374.8 549.9h12.2v12.2h-12.2zM350.9 561.8h12.2v12.2h-12.2zM350.9 573.8h12.2v12.2h-12.2zM648.8 800.2h12.2v12.2h-12.2zM708.4 824.0h12.2v12.2h-12.2z"/>
<path fill="#c7c7c7" d="M636.9 347.3h12.2v12.2h-12.2zM636.9 359.2h12.2v12.2h-12.2zM779.9 371.2h12.2v12.2h-12.2zM648.8 383.1h12.2v12.2h-12.2zM779.9 383.1h12.2v12.2h-12.2zM529.7 395.0h24.1v12.2h-24.1zM601.2 395.0h12.2v12.2h-12.2zM648.8 395.0h12.2v12.2h-12.2zM779.9 395.0h12.2v12.2h-12.2zM565.4 406.9h24.1v12.2h-24.1zM648.8 406.9h12.2v12.2h-12.2zM648.8 418.8h12.2v12.2h-12.2zM720.3 418.8h12.2v12.2h-12.2zM779.9 418.8h12.2v12.2h-12.2zM648.8 430.8h12.2v12.2h-12.2zM696.5 430.8h24.1v12.2h-24.1zM636.9 454.6h12.2v12.2h-12.2zM672.7 454.6h12.2v12.2h-12.2zM613.1 466.5h24.1v12.2h-24.1zM601.2 478.4h12.2v12.2h-12.2zM660.8 478.4h12.2v12.2h-12.2zM601.2 490.3h12.2v12.2h-12.2zM660.8 490.3h12.2v12.2h-12.2zM660.8 502.2h12.2v12.2h-12.2zM613.1 514.2h12.2v12.2h-12.2zM613.1 526.1h12.2v12.2h-12.2zM243.7 538.0h24.1v12.2h-24.1zM613.1 538.0h12.2v12.2h-12.2zM219.8 549.9h12.2v12.2h-12.2zM577.3 549.9h12.2v12.2h-12.2zM625.0 561.8h12.2v12.2h-12.2zM172.2 573.8h12.2v12.2h-12.2zM291.3 573.8h12.2v12.2h-12.2zM625.0 573.8h12.2v12.2h-12.2zM279.4 585.7h12.2v12.2h-12.2zM636.9 585.7h12.2v12.2h-12.2zM88.8 597.6h48.0v12.2h-48.0zM732.2 597.6h12.2v12.2h-12.2zM732.2 609.5h12.2v12.2h-12.2zM362.8 621.4h12.2v12.2h-12.2zM660.8 621.4h12.2v12.2h-12.2zM720.3 621.4h12.2v12.2h-12.2zM672.7 633.3h12.2v12.2h-12.2zM815.7 657.2h12.2v12.2h-12.2zM827.6 669.1h48.0v12.2h-48.0zM744.2 681.0h24.1v12.2h-24.1zM756.1 704.8h12.2v12.2h-12.2zM779.9 704.8h12.2v12.2h-12.2zM744.2 716.8h12.2v12.2h-12.2zM207.9 728.7h12.2v12.2h-12.2zM684.6 728.7h12.2v12.2h-12.2zM779.9 740.6h12.2v12.2h-12.2zM815.7 740.6h12.2v12.2h-12.2zM410.5 752.5h12.2v12.2h-12.2zM696.5 752.5h12.2v12.2h-12.2zM196.0 764.4h12.2v12.2h-12.2zM815.7 764.4h12.2v12.2h-12.2zM196.0 776.3h24.1v12.2h-24.1zM231.8 776.3h12.2v12.2h-12.2zM708.4 812.1h12.2v12.2h-12.2zM434.3 824.0h12.2v12.2h-12.2z"/>
<path fill="#c8c8c8" d="M625.0 323.5h24.1v12.2h-24.1zM815.7 323.5h12.2v12.2h-12.2zM696.5 347.3h12.2v12.2h-12.2zM565.4 466.5h12.2v12.2h-12.2zM553.5 502.2h12.2v12.2h-12.2zM577.3 502.2h12.2v12.2h-12.2zM231.8 514.2h12.2v12.2h-12.2zM398.6 514.2h12.2v12.2h-12.2zM422.4 526.1h12.2v12.2h-12.2zM339.0 538.0h12.2v12.2h-12.2zM422.4 549.9h12.2v12.2h-12.2zM350.9 585.7h12.2v12.2h-12.2zM148.3 597.6h12.2v12.2h-12.2zM684.6 633.3h12.2v12.2h-12.2zM827.6 645.2h48.0v12.2h-48.0zM672.7 681.0h12.2v12.2h-12.2zM768.0 692.9h12.2v12.2h-12.2zM362.8 716.8h12.2v12.2h-12.2zM362.8 728.7h12.2v12.2h-12.2zM756.1 728.7h24.1v12.2h-24.1zM327.1 740.6h12.2v12.2h-12.2zM184.1 752.5h12.2v12.2h-12.2zM410.5 764.4h12.2v12.2h-12.2zM398.6 812.1h12.2v12.2h-12.2zM684.6 835.9h12.2v12.2h-12.2zM696.5 883.6h12.2v12.2h-12.2zM696.5 895.5h12.2v12.2h-12.2zM696.5 907.4h12.2v12.2h-12.2zM696.5 919.3h12.2v12.2h-12.2z"/>
<path fill="#c9c9c9" d="M684.6 359.2h12.2v12.2h-12.2zM529.7 371.2h24.1v12.2h-24.1zM517.8 383.1h12.2v12.2h-12.2zM374.8 538.0h36.0v12.2h-36.0zM482.0 633.3h12.2v12.2h-12.2zM339.0 728.7h12.2v12.2h-12.2z"/>
<path fill="#cacaca" d="M791.8 347.3h83.7v12.2h-83.7zM648.8 359.2h24.1v12.2h-24.1zM803.8 359.2h12.2v12.2h-12.2zM648.8 371.2h48.0v12.2h-48.0zM803.8 371.2h12.2v12.2h-12.2zM541.6 383.1h12.2v12.2h-12.2zM672.7 383.1h24.1v12.2h-24.1zM684.6 395.0h12.2v12.2h-12.2zM684.6 406.9h12.2v12.2h-12.2zM779.9 406.9h12.2v12.2h-12.2zM684.6 430.8h12.2v12.2h-12.2zM648.8 442.7h12.2v12.2h-12.2zM672.7 442.7h12.2v12.2h-12.2zM636.9 466.5h12.2v12.2h-12.2zM660.8 466.5h12.2v12.2h-12.2zM708.4 490.3h12.2v12.2h-12.2zM613.1 502.2h12.2v12.2h-12.2zM636.9 502.2h24.1v12.2h-24.1zM279.4 514.2h12.2v12.2h-12.2zM303.2 514.2h12.2v12.2h-12.2zM577.3 514.2h12.2v12.2h-12.2zM827.6 514.2h48.0v12.2h-48.0zM315.2 526.1h12.2v12.2h-12.2zM231.8 538.0h12.2v12.2h-12.2zM577.3 538.0h12.2v12.2h-12.2zM744.2 549.9h24.1v12.2h-24.1zM88.8 585.7h71.8v12.2h-71.8zM648.8 585.7h12.2v12.2h-12.2zM720.3 645.2h12.2v12.2h-12.2zM720.3 681.0h24.1v12.2h-24.1zM756.1 692.9h12.2v12.2h-12.2zM660.8 704.8h12.2v12.2h-12.2zM696.5 716.8h12.2v12.2h-12.2zM756.1 716.8h24.1v12.2h-24.1zM696.5 728.7h12.2v12.2h-12.2zM815.7 728.7h12.2v12.2h-12.2zM696.5 740.6h12.2v12.2h-12.2zM756.1 740.6h24.1v12.2h-24.1zM720.3 752.5h12.2v12.2h-12.2zM744.2 752.5h12.2v12.2h-12.2zM815.7 752.5h12.2v12.2h-12.2zM756.1 764.4h12.2v12.2h-12.2zM219.8 776.3h12.2v12.2h-12.2zM708.4 776.3h12.2v12.2h-12.2zM708.4 788.2h12.2v12.2h-12.2zM601.2 800.2h12.2v12.2h-12.2zM708.4 800.2h12.2v12.2h-12.2z"/>
<path fill="#cbcbcb" d="M791.8 359.2h12.2v12.2h-12.2zM815.7 359.2h12.2v12.2h-12.2zM517.8 371.2h12.2v12.2h-12.2zM791.8 371.2h12.2v12.2h-12.2zM529.7 383.1h12.2v12.2h-12.2zM660.8 383.1h12.2v12.2h-12.2zM791.8 383.1h12.2v12.2h-12.2zM553.5 395.0h12.2v12.2h-12.2zM589.2 395.0h12.2v12.2h-12.2zM660.8 395.0h24.1v12.2h-24.1zM660.8 406.9h24.1v12.2h-24.1zM696.5 406.9h12.2v12.2h-12.2zM720.3 406.9h12.2v12.2h-12.2zM660.8 418.8h59.9v12.2h-59.9zM660.8 430.8h24.1v12.2h-24.1zM791.8 430.8h12.2v12.2h-12.2zM660.8 442.7h12.2v12.2h-12.2zM648.8 454.6h24.1v12.2h-24.1zM648.8 466.5h12.2v12.2h-12.2zM613.1 478.4h48.0v12.2h-48.0zM613.1 490.3h48.0v12.2h-48.0zM625.0 502.2h12.2v12.2h-12.2zM625.0 514.2h12.2v12.2h-12.2zM672.7 514.2h12.2v12.2h-12.2zM267.5 526.1h12.2v12.2h-12.2zM577.3 526.1h12.2v12.2h-12.2zM779.9 538.0h12.2v12.2h-12.2zM184.1 561.8h12.2v12.2h-12.2zM636.9 573.8h12.2v12.2h-12.2zM136.4 597.6h12.2v12.2h-12.2zM660.8 609.5h12.2v12.2h-12.2zM315.2 621.4h12.2v12.2h-12.2zM708.4 657.2h12.2v12.2h-12.2zM720.3 669.1h12.2v12.2h-12.2zM744.2 692.9h12.2v12.2h-12.2zM672.7 704.8h12.2v12.2h-12.2zM768.0 704.8h12.2v12.2h-12.2zM672.7 716.8h24.1v12.2h-24.1zM827.6 716.8h48.0v12.2h-48.0zM803.8 740.6h12.2v12.2h-12.2zM756.1 752.5h24.1v12.2h-24.1zM684.6 764.4h12.2v12.2h-12.2zM708.4 764.4h12.2v12.2h-12.2zM768.0 776.3h36.0v12.2h-36.0zM625.0 788.2h12.2v12.2h-12.2zM422.4 800.2h12.2v12.2h-12.2zM565.4 824.0h12.2v12.2h-12.2zM458.2 883.6h12.2v12.2h-12.2zM458.2 895.5h12.2v12.2h-12.2zM458.2 907.4h12.2v12.2h-12.2zM458.2 919.3h12.2v12.2h-12.2z"/>
<path fill="#cccccc" d="M827.6 335.4h48.0v12.2h-48.0zM672.7 359.2h12.2v12.2h-12.2zM196.0 549.9h12.2v12.2h-12.2zM315.2 633.3h12.2v12.2h-12.2zM827.6 657.2h48.0v12.2h-48.0z"/>
<path fill="#cdcdcd" d="M815.7 335.4h12.2v12.2h-12.2zM601.2 359.2h12.2v12.2h-12.2zM553.5 371.2h12.2v12.2h-12.2zM696.5 371.2h12.2v12.2h-12.2zM291.3 502.2h12.2v12.2h-12.2zM243.7 526.1h12.2v12.2h-12.2zM219.8 538.0h12.2v12.2h-12.2zM565.4 549.9h12.2v12.2h-12.2zM315.2 561.8h12.2v12.2h-12.2zM88.8 573.8h83.7v12.2h-83.7zM303.2 573.8h12.2v12.2h-12.2zM708.4 621.4h12.2v12.2h-12.2zM374.8 692.9h12.2v12.2h-12.2zM350.9 704.8h12.2v12.2h-12.2zM720.3 740.6h12.2v12.2h-12.2zM791.8 740.6h12.2v12.2h-12.2zM696.5 824.0h12.2v12.2h-12.2zM339.0 835.9h12.2v12.2h-12.2z"/>
<path fill="#cecece" d="M827.6 359.2h48.0v12.2h-48.0zM553.5 383.1h12.2v12.2h-12.2zM696.5 383.1h12.2v12.2h-12.2zM696.5 395.0h12.2v12.2h-12.2zM708.4 406.9h12.2v12.2h-12.2zM732.2 466.5h12.2v12.2h-12.2zM636.9 514.2h36.0v12.2h-36.0zM815.7 514.2h12.2v12.2h-12.2zM255.6 526.1h12.2v12.2h-12.2zM625.0 526.1h12.2v12.2h-12.2zM791.8 526.1h12.2v12.2h-12.2zM625.0 549.9h12.2v12.2h-12.2zM565.4 561.8h12.2v12.2h-12.2zM648.8 573.8h12.2v12.2h-12.2zM291.3 585.7h12.2v12.2h-12.2zM553.5 585.7h12.2v12.2h-12.2zM660.8 585.7h12.2v12.2h-12.2zM303.2 597.6h12.2v12.2h-12.2zM660.8 597.6h12.2v12.2h-12.2zM768.0 609.5h12.2v12.2h-12.2zM696.5 657.2h12.2v12.2h-12.2zM720.3 657.2h12.2v12.2h-12.2zM315.2 669.1h12.2v12.2h-12.2zM684.6 669.1h12.2v12.2h-12.2zM672.7 692.9h12.2v12.2h-12.2zM708.4 692.9h12.2v12.2h-12.2zM684.6 704.8h36.0v12.2h-36.0zM196.0 752.5h12.2v12.2h-12.2zM708.4 752.5h12.2v12.2h-12.2zM207.9 764.4h12.2v12.2h-12.2zM696.5 764.4h12.2v12.2h-12.2zM768.0 764.4h12.2v12.2h-12.2zM613.1 800.2h12.2v12.2h-12.2zM577.3 812.1h12.2v12.2h-12.2zM696.5 812.1h12.2v12.2h-12.2zM708.4 835.9h12.2v12.2h-12.2z"/>
<path fill="#cfcfcf" d="M636.9 335.4h12.2v12.2h-12.2zM601.2 347.3h12.2v12.2h-12.2zM625.0 538.0h12.2v12.2h-12.2zM386.7 609.5h12.2v12.2h-12.2zM291.3 716.8h12.2v12.2h-12.2zM493.9 883.6h12.2v12.2h-12.2zM493.9 895.5h12.2v12.2h-12.2zM493.9 907.4h12.2v12.2h-12.2zM493.9 919.3h12.2v12.2h-12.2z"/>
<path fill="#d0d0d0" d="M803.8 335.4h12.2v12.2h-12.2zM815.7 371.2h12.2v12.2h-12.2zM684.6 514.2h12.2v12.2h-12.2zM231.8 526.1h12.2v12.2h-12.2zM720.3 561.8h12.2v12.2h-12.2zM219.8 609.5h12.2v12.2h-12.2zM184.1 669.1h12.2v12.2h-12.2zM172.2 681.0h12.2v12.2h-12.2zM184.1 692.9h12.2v12.2h-12.2zM589.2 764.4h12.2v12.2h-12.2zM422.4 812.1h12.2v12.2h-12.2zM446.2 812.1h12.2v12.2h-12.2zM720.3 859.8h12.2v12.2h-12.2zM756.1 871.7h12.2v12.2h-12.2z"/>
<path fill="#d1d1d1" d="M648.8 347.3h12.2v12.2h-12.2zM744.2 383.1h12.2v12.2h-12.2zM803.8 383.1h12.2v12.2h-12.2zM505.8 395.0h12.2v12.2h-12.2zM791.8 395.0h12.2v12.2h-12.2zM279.4 502.2h12.2v12.2h-12.2zM303.2 502.2h12.2v12.2h-12.2zM267.5 514.2h12.2v12.2h-12.2zM398.6 526.1h12.2v12.2h-12.2zM327.1 538.0h12.2v12.2h-12.2zM362.8 549.9h12.2v12.2h-12.2zM410.5 549.9h12.2v12.2h-12.2zM374.8 561.8h12.2v12.2h-12.2zM636.9 561.8h12.2v12.2h-12.2zM660.8 573.8h12.2v12.2h-12.2zM708.4 573.8h12.2v12.2h-12.2zM708.4 585.7h12.2v12.2h-12.2zM315.2 609.5h12.2v12.2h-12.2zM350.9 621.4h12.2v12.2h-12.2zM744.2 621.4h12.2v12.2h-12.2zM732.2 633.3h12.2v12.2h-12.2zM744.2 657.2h12.2v12.2h-12.2zM708.4 681.0h12.2v12.2h-12.2zM720.3 692.9h12.2v12.2h-12.2zM350.9 716.8h12.2v12.2h-12.2zM708.4 716.8h12.2v12.2h-12.2zM243.7 764.4h12.2v12.2h-12.2zM350.9 847.8h12.2v12.2h-12.2zM446.2 871.7h12.2v12.2h-12.2z"/>
<path fill="#d2d2d2" d="M362.8 645.2h12.2v12.2h-12.2zM172.2 692.9h12.2v12.2h-12.2zM708.4 728.7h12.2v12.2h-12.2zM207.9 752.5h12.2v12.2h-12.2zM779.9 752.5h12.2v12.2h-12.2zM255.6 788.2h12.2v12.2h-12.2zM815.7 788.2h12.2v12.2h-12.2zM696.5 800.2h12.2v12.2h-12.2zM553.5 824.0h12.2v12.2h-12.2zM791.8 824.0h12.2v12.2h-12.2zM196.0 835.9h12.2v12.2h-12.2zM458.2 859.8h12.2v12.2h-12.2zM601.2 883.6h12.2v12.2h-12.2zM601.2 895.5h12.2v12.2h-12.2zM601.2 907.4h12.2v12.2h-12.2zM601.2 919.3h12.2v12.2h-12.2z"/>
<path fill="#d3d3d3" d="M613.1 335.4h12.2v12.2h-12.2zM696.5 359.2h12.2v12.2h-12.2zM577.3 478.4h12.2v12.2h-12.2zM374.8 526.1h12.2v12.2h-12.2zM779.9 585.7h12.2v12.2h-12.2zM207.9 597.6h12.2v12.2h-12.2zM803.8 597.6h12.2v12.2h-12.2zM172.2 609.5h12.2v12.2h-12.2zM827.6 609.5h48.0v12.2h-48.0zM160.2 621.4h12.2v12.2h-12.2zM458.2 621.4h12.2v12.2h-12.2zM172.2 645.2h12.2v12.2h-12.2zM505.8 645.2h12.2v12.2h-12.2zM184.1 657.2h12.2v12.2h-12.2zM517.8 657.2h12.2v12.2h-12.2zM541.6 657.2h12.2v12.2h-12.2zM589.2 657.2h12.2v12.2h-12.2zM601.2 669.1h12.2v12.2h-12.2zM148.3 681.0h12.2v12.2h-12.2zM613.1 681.0h12.2v12.2h-12.2zM136.4 692.9h12.2v12.2h-12.2zM88.8 716.8h48.0v12.2h-48.0zM625.0 716.8h12.2v12.2h-12.2zM636.9 740.6h12.2v12.2h-12.2zM648.8 752.5h12.2v12.2h-12.2zM136.4 764.4h12.2v12.2h-12.2zM88.8 776.3h48.0v12.2h-48.0zM148.3 800.2h12.2v12.2h-12.2zM231.8 800.2h12.2v12.2h-12.2zM207.9 812.1h12.2v12.2h-12.2zM136.4 835.9h12.2v12.2h-12.2zM362.8 859.8h12.2v12.2h-12.2zM434.3 859.8h12.2v12.2h-12.2zM517.8 859.8h12.2v12.2h-12.2zM470.1 871.7h12.2v12.2h-12.2z"/>
<path fill="#d4d4d4" d="M791.8 335.4h12.2v12.2h-12.2zM577.3 490.3h12.2v12.2h-12.2zM207.9 538.0h12.2v12.2h-12.2zM768.0 538.0h12.2v12.2h-12.2zM732.2 549.9h12.2v12.2h-12.2zM362.8 561.8h12.2v12.2h-12.2zM386.7 561.8h12.2v12.2h-12.2zM470.1 621.4h12.2v12.2h-12.2zM160.2 669.1h12.2v12.2h-12.2zM291.3 704.8h12.2v12.2h-12.2zM255.6 764.4h12.2v12.2h-12.2zM422.4 776.3h12.2v12.2h-12.2zM660.8 788.2h12.2v12.2h-12.2zM327.1 812.1h12.2v12.2h-12.2z"/>
<path fill="#d5d5d5" d="M529.7 359.2h12.2v12.2h-12.2zM505.8 383.1h12.2v12.2h-12.2zM577.3 395.0h12.2v12.2h-12.2zM708.4 502.2h12.2v12.2h-12.2zM362.8 538.0h12.2v12.2h-12.2zM803.8 609.5h12.2v12.2h-12.2zM303.2 704.8h24.1v12.2h-24.1zM386.7 716.8h12.2v12.2h-12.2zM553.5 859.8h12.2v12.2h-12.2zM589.2 871.7h12.2v12.2h-12.2z"/>
<path fill="#d6d6d6" d="M779.9 335.4h12.2v12.2h-12.2zM660.8 347.3h12.2v12.2h-12.2zM684.6 347.3h12.2v12.2h-12.2zM517.8 359.2h12.2v12.2h-12.2zM541.6 359.2h24.1v12.2h-24.1zM505.8 371.2h12.2v12.2h-12.2zM589.2 383.1h12.2v12.2h-12.2zM505.8 406.9h12.2v12.2h-12.2zM815.7 430.8h12.2v12.2h-12.2zM541.6 442.7h12.2v12.2h-12.2zM803.8 454.6h12.2v12.2h-12.2zM815.7 490.3h12.2v12.2h-12.2zM565.4 502.2h12.2v12.2h-12.2zM362.8 526.1h12.2v12.2h-12.2zM410.5 526.1h12.2v12.2h-12.2zM553.5 549.9h12.2v12.2h-12.2zM553.5 561.8h12.2v12.2h-12.2zM791.8 561.8h24.1v12.2h-24.1zM779.9 573.8h12.2v12.2h-12.2zM815.7 573.8h12.2v12.2h-12.2zM184.1 585.7h24.1v12.2h-24.1zM589.2 585.7h12.2v12.2h-12.2zM815.7 585.7h12.2v12.2h-12.2zM172.2 597.6h12.2v12.2h-12.2zM517.8 597.6h12.2v12.2h-12.2zM589.2 597.6h12.2v12.2h-12.2zM291.3 609.5h12.2v12.2h-12.2zM553.5 609.5h12.2v12.2h-12.2zM589.2 609.5h12.2v12.2h-12.2zM565.4 621.4h24.1v12.2h-24.1zM803.8 621.4h12.2v12.2h-12.2zM148.3 633.3h12.2v12.2h-12.2zM160.2 645.2h12.2v12.2h-12.2zM553.5 645.2h36.0v12.2h-36.0zM779.9 645.2h12.2v12.2h-12.2zM529.7 657.2h12.2v12.2h-12.2zM768.0 657.2h12.2v12.2h-12.2zM791.8 657.2h12.2v12.2h-12.2zM625.0 692.9h12.2v12.2h-12.2zM327.1 704.8h12.2v12.2h-12.2zM625.0 704.8h12.2v12.2h-12.2zM255.6 716.8h12.2v12.2h-12.2zM315.2 728.7h12.2v12.2h-12.2zM636.9 728.7h12.2v12.2h-12.2zM339.0 740.6h12.2v12.2h-12.2zM660.8 752.5h12.2v12.2h-12.2zM148.3 764.4h24.1v12.2h-24.1zM136.4 776.3h12.2v12.2h-12.2zM589.2 776.3h12.2v12.2h-12.2zM827.6 776.3h48.0v12.2h-48.0zM243.7 788.2h12.2v12.2h-12.2zM589.2 788.2h12.2v12.2h-12.2zM803.8 788.2h12.2v12.2h-12.2zM219.8 800.2h12.2v12.2h-12.2zM410.5 800.2h12.2v12.2h-12.2zM791.8 800.2h12.2v12.2h-12.2zM148.3 812.1h12.2v12.2h-12.2zM744.2 812.1h12.2v12.2h-12.2zM791.8 812.1h12.2v12.2h-12.2zM148.3 824.0h12.2v12.2h-12.2zM184.1 835.9h12.2v12.2h-12.2zM696.5 835.9h12.2v12.2h-12.2zM732.2 835.9h12.2v12.2h-12.2zM136.4 847.8h12.2v12.2h-12.2zM172.2 847.8h12.2v12.2h-12.2zM88.8 859.8h48.0v12.2h-48.0zM172.2 859.8h12.2v12.2h-12.2zM529.7 859.8h24.1v12.2h-24.1zM744.2 859.8h12.2v12.2h-12.2zM768.0 859.8h12.2v12.2h-12.2zM172.2 871.7h12.2v12.2h-12.2zM517.8 871.7h12.2v12.2h-12.2zM172.2 883.6h12.2v12.2h-12.2zM517.8 883.6h12.2v12.2h-12.2zM172.2 895.5h12.2v12.2h-12.2zM517.8 895.5h12.2v12.2h-12.2zM172.2 907.4h12.2v12.2h-12.2zM517.8 907.4h12.2v12.2h-12.2zM172.2 919.3h12.2v12.2h-12.2zM517.8 919.3h12.2v12.2h-12.2z"/>
<path fill="#d7d7d7" d="M231.8 597.6h12.2v12.2h-12.2zM815.7 597.6h12.2v12.2h-12.2zM172.2 657.2h12.2v12.2h-12.2zM350.9 657.2h12.2v12.2h-12.2zM779.9 669.1h12.2v12.2h-12.2zM88.8 704.8h48.0v12.2h-48.0zM148.3 776.3h12.2v12.2h-12.2zM160.2 788.2h12.2v12.2h-12.2zM196.0 824.0h12.2v12.2h-12.2zM779.9 824.0h12.2v12.2h-12.2z"/>
<path fill="#d8d8d8" d="M529.7 418.8h24.1v12.2h-24.1zM768.0 442.7h24.1v12.2h-24.1zM529.7 609.5h12.2v12.2h-12.2zM422.4 752.5h12.2v12.2h-12.2zM672.7 752.5h12.2v12.2h-12.2z"/>
<path fill="#d9d9d9" d="M625.0 383.1h12.2v12.2h-12.2zM625.0 395.0h12.2v12.2h-12.2zM756.1 395.0h12.2v12.2h-12.2zM625.0 406.9h12.2v12.2h-12.2zM744.2 406.9h24.1v12.2h-24.1zM553.5 418.8h12.2v12.2h-12.2zM613.1 418.8h24.1v12.2h-24.1zM744.2 418.8h24.1v12.2h-24.1zM553.5 430.8h83.7v12.2h-83.7zM744.2 430.8h36.0v12.2h-36.0zM565.4 442.7h59.9v12.2h-59.9zM732.2 442.7h36.0v12.2h-36.0zM577.3 454.6h24.1v12.2h-24.1zM696.5 454.6h36.0v12.2h-36.0zM696.5 466.5h24.1v12.2h-24.1zM291.3 538.0h24.1v12.2h-24.1zM815.7 538.0h59.9v12.2h-59.9zM279.4 549.9h36.0v12.2h-36.0zM815.7 549.9h12.2v12.2h-12.2zM243.7 561.8h36.0v12.2h-36.0zM601.2 561.8h12.2v12.2h-12.2zM779.9 561.8h12.2v12.2h-12.2zM815.7 561.8h12.2v12.2h-12.2zM196.0 573.8h36.0v12.2h-36.0zM589.2 573.8h24.1v12.2h-24.1zM732.2 573.8h36.0v12.2h-36.0zM207.9 585.7h12.2v12.2h-12.2zM601.2 585.7h12.2v12.2h-12.2zM756.1 585.7h24.1v12.2h-24.1zM219.8 597.6h12.2v12.2h-12.2zM243.7 597.6h12.2v12.2h-12.2zM553.5 597.6h12.2v12.2h-12.2zM756.1 597.6h12.2v12.2h-12.2zM541.6 609.5h12.2v12.2h-12.2zM613.1 609.5h36.0v12.2h-36.0zM88.8 621.4h48.0v12.2h-48.0zM517.8 621.4h24.1v12.2h-24.1zM553.5 621.4h12.2v12.2h-12.2zM589.2 621.4h12.2v12.2h-12.2zM613.1 621.4h36.0v12.2h-36.0zM88.8 633.3h59.9v12.2h-59.9zM505.8 633.3h24.1v12.2h-24.1zM625.0 633.3h24.1v12.2h-24.1zM803.8 633.3h71.8v12.2h-71.8zM88.8 645.2h48.0v12.2h-48.0zM148.3 645.2h12.2v12.2h-12.2zM541.6 645.2h12.2v12.2h-12.2zM589.2 645.2h12.2v12.2h-12.2zM636.9 645.2h36.0v12.2h-36.0zM791.8 645.2h12.2v12.2h-12.2zM636.9 657.2h36.0v12.2h-36.0zM148.3 669.1h12.2v12.2h-12.2zM636.9 669.1h36.0v12.2h-36.0zM791.8 669.1h12.2v12.2h-12.2zM625.0 681.0h36.0v12.2h-36.0zM791.8 681.0h12.2v12.2h-12.2zM815.7 692.9h59.9v12.2h-59.9zM160.2 776.3h12.2v12.2h-12.2zM601.2 776.3h12.2v12.2h-12.2zM732.2 776.3h12.2v12.2h-12.2zM434.3 788.2h12.2v12.2h-12.2zM732.2 788.2h24.1v12.2h-24.1zM160.2 800.2h59.9v12.2h-59.9zM732.2 800.2h24.1v12.2h-24.1zM196.0 812.1h12.2v12.2h-12.2zM720.3 824.0h12.2v12.2h-12.2zM148.3 835.9h12.2v12.2h-12.2zM172.2 835.9h12.2v12.2h-12.2zM732.2 847.8h12.2v12.2h-12.2zM136.4 859.8h12.2v12.2h-12.2zM470.1 883.6h12.2v12.2h-12.2zM553.5 883.6h36.0v12.2h-36.0zM470.1 895.5h12.2v12.2h-12.2zM553.5 895.5h36.0v12.2h-36.0zM470.1 907.4h12.2v12.2h-12.2zM553.5 907.4h36.0v12.2h-36.0zM470.1 919.3h12.2v12.2h-12.2zM553.5 919.3h36.0v12.2h-36.0z"/>
<path fill="#dadada" d="M613.1 406.9h12.2v12.2h-12.2zM601.2 418.8h12.2v12.2h-12.2zM684.6 478.4h12.2v12.2h-12.2zM803.8 549.9h12.2v12.2h-12.2zM827.6 549.9h48.0v12.2h-48.0zM827.6 561.8h48.0v12.2h-48.0zM231.8 573.8h12.2v12.2h-12.2zM768.0 573.8h12.2v12.2h-12.2zM827.6 573.8h48.0v12.2h-48.0zM219.8 585.7h12.2v12.2h-12.2zM744.2 585.7h12.2v12.2h-12.2zM827.6 585.7h48.0v12.2h-48.0zM255.6 597.6h24.1v12.2h-24.1zM601.2 597.6h24.1v12.2h-24.1zM768.0 597.6h12.2v12.2h-12.2zM827.6 597.6h48.0v12.2h-48.0zM601.2 609.5h12.2v12.2h-12.2zM541.6 621.4h12.2v12.2h-12.2zM601.2 621.4h12.2v12.2h-12.2zM470.1 633.3h12.2v12.2h-12.2zM529.7 633.3h95.6v12.2h-95.6zM648.8 633.3h12.2v12.2h-12.2zM791.8 633.3h12.2v12.2h-12.2zM136.4 645.2h12.2v12.2h-12.2zM517.8 645.2h24.1v12.2h-24.1zM601.2 645.2h36.0v12.2h-36.0zM88.8 657.2h83.7v12.2h-83.7zM601.2 657.2h36.0v12.2h-36.0zM88.8 669.1h59.9v12.2h-59.9zM613.1 669.1h24.1v12.2h-24.1zM88.8 681.0h59.9v12.2h-59.9zM803.8 681.0h12.2v12.2h-12.2zM88.8 692.9h48.0v12.2h-48.0zM636.9 692.9h12.2v12.2h-12.2zM803.8 692.9h12.2v12.2h-12.2zM636.9 716.8h12.2v12.2h-12.2zM648.8 728.7h12.2v12.2h-12.2zM172.2 740.6h12.2v12.2h-12.2zM648.8 740.6h24.1v12.2h-24.1zM172.2 752.5h12.2v12.2h-12.2zM172.2 764.4h12.2v12.2h-12.2zM172.2 788.2h12.2v12.2h-12.2zM434.3 800.2h12.2v12.2h-12.2zM756.1 800.2h12.2v12.2h-12.2zM779.9 800.2h12.2v12.2h-12.2zM160.2 812.1h36.0v12.2h-36.0zM565.4 812.1h12.2v12.2h-12.2zM768.0 812.1h24.1v12.2h-24.1zM160.2 824.0h36.0v12.2h-36.0zM744.2 824.0h12.2v12.2h-12.2zM160.2 835.9h12.2v12.2h-12.2zM148.3 847.8h24.1v12.2h-24.1zM744.2 847.8h12.2v12.2h-12.2zM148.3 859.8h24.1v12.2h-24.1zM756.1 859.8h12.2v12.2h-12.2zM88.8 871.7h83.7v12.2h-83.7zM529.7 871.7h48.0v12.2h-48.0zM88.8 883.6h83.7v12.2h-83.7zM529.7 883.6h24.1v12.2h-24.1zM88.8 895.5h83.7v12.2h-83.7zM529.7 895.5h24.1v12.2h-24.1zM88.8 907.4h83.7v12.2h-83.7zM529.7 907.4h24.1v12.2h-24.1zM88.8 919.3h83.7v12.2h-83.7zM529.7 919.3h24.1v12.2h-24.1z"/>
<path fill="#dcdcdc" d="M625.0 347.3h12.2v12.2h-12.2zM756.1 383.1h24.1v12.2h-24.1zM529.7 406.9h12.2v12.2h-12.2zM768.0 418.8h12.2v12.2h-12.2zM541.6 430.8h12.2v12.2h-12.2zM625.0 442.7h12.2v12.2h-12.2zM732.2 454.6h12.2v12.2h-12.2zM589.2 466.5h12.2v12.2h-12.2zM684.6 466.5h12.2v12.2h-12.2zM696.5 478.4h12.2v12.2h-12.2zM672.7 490.3h24.1v12.2h-24.1zM589.2 526.1h12.2v12.2h-12.2zM589.2 538.0h12.2v12.2h-12.2zM803.8 538.0h12.2v12.2h-12.2zM601.2 549.9h12.2v12.2h-12.2zM744.2 561.8h12.2v12.2h-12.2zM744.2 597.6h12.2v12.2h-12.2zM374.8 621.4h12.2v12.2h-12.2zM648.8 621.4h12.2v12.2h-12.2zM339.0 657.2h12.2v12.2h-12.2zM672.7 657.2h12.2v12.2h-12.2zM768.0 669.1h12.2v12.2h-12.2zM386.7 692.9h12.2v12.2h-12.2zM339.0 704.8h12.2v12.2h-12.2zM327.1 716.8h12.2v12.2h-12.2zM672.7 740.6h12.2v12.2h-12.2zM827.6 752.5h48.0v12.2h-48.0zM827.6 764.4h48.0v12.2h-48.0zM255.6 776.3h24.1v12.2h-24.1zM625.0 776.3h24.1v12.2h-24.1zM231.8 788.2h12.2v12.2h-12.2zM791.8 788.2h12.2v12.2h-12.2zM768.0 800.2h12.2v12.2h-12.2zM446.2 859.8h12.2v12.2h-12.2zM732.2 859.8h12.2v12.2h-12.2z"/>
<path fill="#dddddd" d="M625.0 359.2h12.2v12.2h-12.2zM768.0 371.2h12.2v12.2h-12.2zM613.1 395.0h12.2v12.2h-12.2zM636.9 395.0h12.2v12.2h-12.2zM768.0 395.0h12.2v12.2h-12.2zM541.6 406.9h12.2v12.2h-12.2zM636.9 406.9h12.2v12.2h-12.2zM768.0 406.9h12.2v12.2h-12.2zM565.4 418.8h36.0v12.2h-36.0zM636.9 418.8h12.2v12.2h-12.2zM732.2 418.8h12.2v12.2h-12.2zM732.2 430.8h12.2v12.2h-12.2zM708.4 442.7h24.1v12.2h-24.1zM601.2 454.6h24.1v12.2h-24.1zM684.6 502.2h12.2v12.2h-12.2zM589.2 514.2h12.2v12.2h-12.2zM601.2 526.1h12.2v12.2h-12.2zM815.7 526.1h59.9v12.2h-59.9zM601.2 538.0h12.2v12.2h-12.2zM255.6 549.9h24.1v12.2h-24.1zM589.2 549.9h12.2v12.2h-12.2zM791.8 549.9h12.2v12.2h-12.2zM207.9 561.8h36.0v12.2h-36.0zM279.4 561.8h24.1v12.2h-24.1zM589.2 561.8h12.2v12.2h-12.2zM756.1 561.8h24.1v12.2h-24.1zM243.7 573.8h24.1v12.2h-24.1zM613.1 573.8h12.2v12.2h-12.2zM231.8 585.7h12.2v12.2h-12.2zM565.4 585.7h12.2v12.2h-12.2zM613.1 585.7h12.2v12.2h-12.2zM732.2 585.7h12.2v12.2h-12.2zM279.4 597.6h12.2v12.2h-12.2zM625.0 597.6h12.2v12.2h-12.2zM160.2 609.5h12.2v12.2h-12.2zM303.2 609.5h12.2v12.2h-12.2zM791.8 609.5h12.2v12.2h-12.2zM136.4 621.4h24.1v12.2h-24.1zM708.4 633.3h12.2v12.2h-12.2zM672.7 645.2h12.2v12.2h-12.2zM803.8 645.2h12.2v12.2h-12.2zM803.8 657.2h12.2v12.2h-12.2zM756.1 669.1h12.2v12.2h-12.2zM803.8 669.1h12.2v12.2h-12.2zM779.9 681.0h12.2v12.2h-12.2zM815.7 681.0h59.9v12.2h-59.9zM350.9 692.9h12.2v12.2h-12.2zM791.8 692.9h12.2v12.2h-12.2zM636.9 704.8h12.2v12.2h-12.2zM803.8 704.8h71.8v12.2h-71.8zM315.2 716.8h12.2v12.2h-12.2zM803.8 716.8h12.2v12.2h-12.2zM172.2 776.3h12.2v12.2h-12.2zM815.7 776.3h12.2v12.2h-12.2zM184.1 788.2h48.0v12.2h-48.0zM601.2 788.2h12.2v12.2h-12.2zM720.3 812.1h12.2v12.2h-12.2zM756.1 812.1h12.2v12.2h-12.2zM720.3 835.9h12.2v12.2h-12.2zM744.2 835.9h12.2v12.2h-12.2z"/>
<path fill="#dedede" d="M565.4 859.8h12.2v12.2h-12.2zM589.2 883.6h12.2v12.2h-12.2zM589.2 895.5h12.2v12.2h-12.2zM589.2 907.4h12.2v12.2h-12.2zM589.2 919.3h12.2v12.2h-12.2z"/>
<path fill="#dfdfdf" d="M613.1 347.3h12.2v12.2h-12.2zM625.0 371.2h12.2v12.2h-12.2zM517.8 406.9h12.2v12.2h-12.2zM791.8 442.7h12.2v12.2h-12.2zM589.2 478.4h12.2v12.2h-12.2zM315.2 538.0h12.2v12.2h-12.2zM720.3 573.8h12.2v12.2h-12.2zM172.2 585.7h12.2v12.2h-12.2zM660.8 681.0h12.2v12.2h-12.2zM219.8 728.7h12.2v12.2h-12.2zM684.6 752.5h12.2v12.2h-12.2zM648.8 776.3h12.2v12.2h-12.2zM720.3 776.3h12.2v12.2h-12.2zM291.3 788.2h12.2v12.2h-12.2z"/>
<path fill="#e0e0e0" d="M613.1 359.2h12.2v12.2h-12.2zM636.9 383.1h12.2v12.2h-12.2zM553.5 406.9h12.2v12.2h-12.2zM601.2 406.9h12.2v12.2h-12.2zM636.9 430.8h12.2v12.2h-12.2zM779.9 430.8h12.2v12.2h-12.2zM696.5 442.7h12.2v12.2h-12.2zM625.0 454.6h12.2v12.2h-12.2zM684.6 454.6h12.2v12.2h-12.2zM744.2 454.6h12.2v12.2h-12.2zM672.7 478.4h12.2v12.2h-12.2zM589.2 490.3h12.2v12.2h-12.2zM589.2 502.2h12.2v12.2h-12.2zM672.7 502.2h12.2v12.2h-12.2zM601.2 514.2h12.2v12.2h-12.2zM291.3 526.1h24.1v12.2h-24.1zM279.4 538.0h12.2v12.2h-12.2zM243.7 549.9h12.2v12.2h-12.2zM779.9 549.9h12.2v12.2h-12.2zM196.0 561.8h12.2v12.2h-12.2zM303.2 561.8h12.2v12.2h-12.2zM613.1 561.8h12.2v12.2h-12.2zM732.2 561.8h12.2v12.2h-12.2zM184.1 573.8h12.2v12.2h-12.2zM267.5 573.8h12.2v12.2h-12.2zM577.3 573.8h12.2v12.2h-12.2zM160.2 597.6h12.2v12.2h-12.2zM541.6 597.6h12.2v12.2h-12.2zM636.9 597.6h12.2v12.2h-12.2zM88.8 609.5h48.0v12.2h-48.0zM398.6 609.5h12.2v12.2h-12.2zM648.8 609.5h12.2v12.2h-12.2zM744.2 609.5h12.2v12.2h-12.2zM791.8 621.4h12.2v12.2h-12.2zM493.9 633.3h12.2v12.2h-12.2zM660.8 633.3h12.2v12.2h-12.2zM672.7 669.1h12.2v12.2h-12.2zM744.2 669.1h12.2v12.2h-12.2zM648.8 692.9h12.2v12.2h-12.2zM648.8 716.8h12.2v12.2h-12.2zM660.8 728.7h12.2v12.2h-12.2zM684.6 740.6h12.2v12.2h-12.2zM243.7 776.3h12.2v12.2h-12.2zM744.2 776.3h12.2v12.2h-12.2zM720.3 788.2h12.2v12.2h-12.2zM756.1 788.2h12.2v12.2h-12.2zM779.9 788.2h12.2v12.2h-12.2zM589.2 800.2h12.2v12.2h-12.2zM434.3 812.1h12.2v12.2h-12.2zM768.0 824.0h12.2v12.2h-12.2zM458.2 871.7h12.2v12.2h-12.2z"/>
<path fill="#e1e1e1" d="M779.9 692.9h12.2v12.2h-12.2zM672.7 764.4h12.2v12.2h-12.2zM756.1 847.8h12.2v12.2h-12.2z"/>
<path fill="#e2e2e2" d="M315.2 549.9h12.2v12.2h-12.2zM517.8 609.5h12.2v12.2h-12.2zM708.4 645.2h12.2v12.2h-12.2zM577.3 871.7h12.2v12.2h-12.2z"/>
<path fill="#e3e3e3" d="M768.0 359.2h12.2v12.2h-12.2zM744.2 395.0h12.2v12.2h-12.2zM732.2 406.9h12.2v12.2h-12.2zM756.1 454.6h12.2v12.2h-12.2zM577.3 466.5h12.2v12.2h-12.2zM720.3 466.5h12.2v12.2h-12.2zM708.4 478.4h12.2v12.2h-12.2zM803.8 526.1h12.2v12.2h-12.2zM386.7 549.9h12.2v12.2h-12.2zM720.3 633.3h12.2v12.2h-12.2zM684.6 645.2h12.2v12.2h-12.2zM791.8 716.8h12.2v12.2h-12.2zM744.2 728.7h12.2v12.2h-12.2zM803.8 728.7h12.2v12.2h-12.2zM732.2 740.6h12.2v12.2h-12.2zM184.1 764.4h12.2v12.2h-12.2zM732.2 764.4h12.2v12.2h-12.2zM613.1 788.2h12.2v12.2h-12.2z"/>
<path fill="#e4e4e4" d="M613.1 383.1h12.2v12.2h-12.2zM768.0 454.6h12.2v12.2h-12.2zM720.3 585.7h12.2v12.2h-12.2zM350.9 633.3h12.2v12.2h-12.2zM315.2 645.2h12.2v12.2h-12.2zM827.6 740.6h48.0v12.2h-48.0zM803.8 776.3h12.2v12.2h-12.2z"/>
<path fill="#e5e5e5" d="M625.0 335.4h12.2v12.2h-12.2zM517.8 418.8h12.2v12.2h-12.2zM553.5 442.7h12.2v12.2h-12.2z"/>
<path fill="#e6e6e6" d="M768.0 347.3h12.2v12.2h-12.2zM756.1 371.2h12.2v12.2h-12.2zM529.7 430.8h12.2v12.2h-12.2zM815.7 442.7h12.2v12.2h-12.2zM565.4 454.6h12.2v12.2h-12.2zM779.9 454.6h24.1v12.2h-24.1zM696.5 502.2h12.2v12.2h-12.2zM398.6 549.9h12.2v12.2h-12.2zM422.4 597.6h12.2v12.2h-12.2zM458.2 597.6h12.2v12.2h-12.2zM529.7 597.6h12.2v12.2h-12.2zM756.1 609.5h12.2v12.2h-12.2zM505.8 621.4h12.2v12.2h-12.2zM732.2 621.4h12.2v12.2h-12.2zM696.5 633.3h12.2v12.2h-12.2zM779.9 633.3h12.2v12.2h-12.2zM768.0 645.2h12.2v12.2h-12.2zM756.1 657.2h12.2v12.2h-12.2zM732.2 669.1h12.2v12.2h-12.2zM386.7 704.8h12.2v12.2h-12.2zM744.2 704.8h12.2v12.2h-12.2zM267.5 716.8h24.1v12.2h-24.1zM303.2 716.8h12.2v12.2h-12.2zM231.8 728.7h12.2v12.2h-12.2zM327.1 728.7h12.2v12.2h-12.2zM732.2 728.7h12.2v12.2h-12.2zM779.9 728.7h12.2v12.2h-12.2zM398.6 740.6h12.2v12.2h-12.2zM279.4 776.3h12.2v12.2h-12.2zM315.2 800.2h12.2v12.2h-12.2zM565.4 835.9h12.2v12.2h-12.2zM434.3 847.8h12.2v12.2h-12.2zM720.3 847.8h12.2v12.2h-12.2zM374.8 871.7h12.2v12.2h-12.2zM732.2 871.7h12.2v12.2h-12.2z"/>
<path fill="#e8e8e8" d="M196.0 609.5h12.2v12.2h-12.2zM434.3 609.5h24.1v12.2h-24.1zM184.1 621.4h24.1v12.2h-24.1zM243.7 621.4h48.0v12.2h-48.0zM410.5 621.4h36.0v12.2h-36.0zM184.1 633.3h119.5v12.2h-119.5zM386.7 633.3h59.9v12.2h-59.9zM207.9 645.2h95.6v12.2h-95.6zM386.7 645.2h83.7v12.2h-83.7zM207.9 657.2h95.6v12.2h-95.6zM386.7 657.2h119.5v12.2h-119.5zM207.9 669.1h95.6v12.2h-95.6zM362.8 669.1h143.3v12.2h-143.3zM565.4 669.1h24.1v12.2h-24.1zM207.9 681.0h95.6v12.2h-95.6zM327.1 681.0h24.1v12.2h-24.1zM422.4 681.0h179.1v12.2h-179.1zM207.9 692.9h83.7v12.2h-83.7zM422.4 692.9h191.0v12.2h-191.0zM148.3 704.8h12.2v12.2h-12.2zM196.0 704.8h36.0v12.2h-36.0zM422.4 704.8h191.0v12.2h-191.0zM148.3 716.8h24.1v12.2h-24.1zM410.5 716.8h202.9v12.2h-202.9zM148.3 728.7h24.1v12.2h-24.1zM410.5 728.7h202.9v12.2h-202.9zM88.8 740.6h71.8v12.2h-71.8zM446.2 740.6h179.1v12.2h-179.1zM88.8 752.5h48.0v12.2h-48.0zM446.2 752.5h131.4v12.2h-131.4zM613.1 752.5h24.1v12.2h-24.1zM446.2 764.4h131.4v12.2h-131.4zM446.2 776.3h131.4v12.2h-131.4zM458.2 788.2h119.5v12.2h-119.5zM88.8 800.2h48.0v12.2h-48.0zM267.5 800.2h24.1v12.2h-24.1zM470.1 800.2h95.6v12.2h-95.6zM827.6 800.2h48.0v12.2h-48.0zM88.8 812.1h48.0v12.2h-48.0zM255.6 812.1h59.9v12.2h-59.9zM470.1 812.1h71.8v12.2h-71.8zM815.7 812.1h59.9v12.2h-59.9zM88.8 824.0h48.0v12.2h-48.0zM219.8 824.0h107.5v12.2h-107.5zM458.2 824.0h83.7v12.2h-83.7zM815.7 824.0h59.9v12.2h-59.9zM219.8 835.9h107.5v12.2h-107.5zM458.2 835.9h95.6v12.2h-95.6zM815.7 835.9h59.9v12.2h-59.9zM219.8 847.8h107.5v12.2h-107.5zM482.0 847.8h24.1v12.2h-24.1zM791.8 847.8h83.7v12.2h-83.7zM196.0 859.8h155.2v12.2h-155.2zM482.0 859.8h24.1v12.2h-24.1zM791.8 859.8h83.7v12.2h-83.7zM196.0 871.7h167.1v12.2h-167.1zM791.8 871.7h83.7v12.2h-83.7zM196.0 883.6h179.1v12.2h-179.1zM779.9 883.6h95.6v12.2h-95.6zM196.0 895.5h179.1v12.2h-179.1zM779.9 895.5h95.6v12.2h-95.6zM196.0 907.4h179.1v12.2h-179.1zM779.9 907.4h95.6v12.2h-95.6zM196.0 919.3h179.1v12.2h-179.1zM779.9 919.3h95.6v12.2h-95.6z"/>
<path fill="#e9e9e9" d="M207.9 621.4h12.2v12.2h-12.2zM231.8 621.4h12.2v12.2h-12.2zM446.2 633.3h12.2v12.2h-12.2zM196.0 645.2h12.2v12.2h-12.2zM303.2 657.2h12.2v12.2h-12.2zM374.8 657.2h12.2v12.2h-12.2zM505.8 669.1h12.2v12.2h-12.2zM553.5 669.1h12.2v12.2h-12.2zM196.0 681.0h12.2v12.2h-12.2zM303.2 681.0h12.2v12.2h-12.2zM410.5 681.0h12.2v12.2h-12.2zM160.2 704.8h12.2v12.2h-12.2zM410.5 704.8h12.2v12.2h-12.2zM172.2 716.8h12.2v12.2h-12.2zM136.4 728.7h12.2v12.2h-12.2zM613.1 728.7h12.2v12.2h-12.2zM434.3 740.6h12.2v12.2h-12.2zM577.3 752.5h12.2v12.2h-12.2zM601.2 752.5h12.2v12.2h-12.2zM458.2 800.2h12.2v12.2h-12.2zM243.7 812.1h12.2v12.2h-12.2zM541.6 812.1h12.2v12.2h-12.2zM803.8 835.9h12.2v12.2h-12.2zM207.9 847.8h12.2v12.2h-12.2zM327.1 847.8h12.2v12.2h-12.2zM470.1 847.8h12.2v12.2h-12.2zM505.8 847.8h12.2v12.2h-12.2zM779.9 871.7h12.2v12.2h-12.2zM768.0 883.6h12.2v12.2h-12.2zM768.0 895.5h12.2v12.2h-12.2zM768.0 907.4h12.2v12.2h-12.2zM768.0 919.3h12.2v12.2h-12.2z"/>
<path fill="#eaeaea" d="M231.8 704.8h12.2v12.2h-12.2zM267.5 704.8h12.2v12.2h-12.2z"/>
<path fill="#ebebeb" d="M791.8 585.7h12.2v12.2h-12.2zM184.1 609.5h12.2v12.2h-12.2zM267.5 609.5h12.2v12.2h-12.2zM422.4 609.5h12.2v12.2h-12.2zM219.8 621.4h12.2v12.2h-12.2zM291.3 621.4h12.2v12.2h-12.2zM398.6 621.4h12.2v12.2h-12.2zM446.2 621.4h12.2v12.2h-12.2zM303.2 645.2h12.2v12.2h-12.2zM374.8 645.2h12.2v12.2h-12.2zM339.0 669.1h24.1v12.2h-24.1zM315.2 681.0h12.2v12.2h-12.2zM196.0 692.9h12.2v12.2h-12.2zM291.3 692.9h12.2v12.2h-12.2zM184.1 704.8h12.2v12.2h-12.2zM219.8 716.8h12.2v12.2h-12.2zM160.2 740.6h12.2v12.2h-12.2zM589.2 752.5h12.2v12.2h-12.2zM636.9 764.4h12.2v12.2h-12.2zM446.2 788.2h12.2v12.2h-12.2zM136.4 800.2h12.2v12.2h-12.2zM565.4 800.2h12.2v12.2h-12.2zM815.7 800.2h12.2v12.2h-12.2zM458.2 812.1h12.2v12.2h-12.2zM541.6 824.0h12.2v12.2h-12.2zM88.8 835.9h48.0v12.2h-48.0zM791.8 835.9h12.2v12.2h-12.2zM458.2 847.8h12.2v12.2h-12.2zM493.9 871.7h12.2v12.2h-12.2zM756.1 883.6h12.2v12.2h-12.2zM756.1 895.5h12.2v12.2h-12.2zM756.1 907.4h12.2v12.2h-12.2zM756.1 919.3h12.2v12.2h-12.2z"/>
<path fill="#ececec" d="M577.3 597.6h12.2v12.2h-12.2zM243.7 609.5h24.1v12.2h-24.1zM172.2 633.3h12.2v12.2h-12.2zM374.8 633.3h12.2v12.2h-12.2zM470.1 645.2h12.2v12.2h-12.2zM196.0 657.2h12.2v12.2h-12.2zM565.4 657.2h12.2v12.2h-12.2zM196.0 669.1h12.2v12.2h-12.2zM303.2 669.1h12.2v12.2h-12.2zM327.1 669.1h12.2v12.2h-12.2zM517.8 669.1h36.0v12.2h-36.0zM350.9 681.0h12.2v12.2h-12.2zM160.2 692.9h12.2v12.2h-12.2zM303.2 692.9h36.0v12.2h-36.0zM172.2 704.8h12.2v12.2h-12.2zM613.1 704.8h12.2v12.2h-12.2zM136.4 716.8h12.2v12.2h-12.2zM613.1 716.8h12.2v12.2h-12.2zM88.8 728.7h48.0v12.2h-48.0zM422.4 740.6h12.2v12.2h-12.2zM625.0 740.6h12.2v12.2h-12.2zM136.4 752.5h24.1v12.2h-24.1zM434.3 752.5h12.2v12.2h-12.2zM577.3 764.4h12.2v12.2h-12.2zM625.0 764.4h12.2v12.2h-12.2zM577.3 776.3h12.2v12.2h-12.2zM88.8 788.2h59.9v12.2h-59.9zM577.3 788.2h12.2v12.2h-12.2zM255.6 800.2h12.2v12.2h-12.2zM291.3 800.2h12.2v12.2h-12.2zM136.4 812.1h12.2v12.2h-12.2zM231.8 812.1h12.2v12.2h-12.2zM803.8 812.1h12.2v12.2h-12.2zM803.8 824.0h12.2v12.2h-12.2zM207.9 835.9h12.2v12.2h-12.2zM196.0 847.8h12.2v12.2h-12.2zM517.8 847.8h48.0v12.2h-48.0zM184.1 859.8h12.2v12.2h-12.2zM505.8 859.8h12.2v12.2h-12.2zM779.9 859.8h12.2v12.2h-12.2zM184.1 871.7h12.2v12.2h-12.2zM482.0 871.7h12.2v12.2h-12.2zM505.8 871.7h12.2v12.2h-12.2zM184.1 883.6h12.2v12.2h-12.2zM184.1 895.5h12.2v12.2h-12.2zM184.1 907.4h12.2v12.2h-12.2zM184.1 919.3h12.2v12.2h-12.2z"/>
<path fill="#ededed" d="M386.7 681.0h12.2v12.2h-12.2z"/>
<path fill="#eeeeee" d="M791.8 573.8h24.1v12.2h-24.1zM577.3 585.7h12.2v12.2h-12.2zM803.8 585.7h12.2v12.2h-12.2zM184.1 597.6h24.1v12.2h-24.1zM434.3 597.6h24.1v12.2h-24.1zM565.4 597.6h12.2v12.2h-12.2zM779.9 597.6h24.1v12.2h-24.1zM207.9 609.5h12.2v12.2h-12.2zM231.8 609.5h12.2v12.2h-12.2zM279.4 609.5h12.2v12.2h-12.2zM410.5 609.5h12.2v12.2h-12.2zM458.2 609.5h12.2v12.2h-12.2zM565.4 609.5h24.1v12.2h-24.1zM815.7 609.5h12.2v12.2h-12.2zM172.2 621.4h12.2v12.2h-12.2zM303.2 621.4h12.2v12.2h-12.2zM386.7 621.4h12.2v12.2h-12.2zM815.7 621.4h59.9v12.2h-59.9zM160.2 633.3h12.2v12.2h-12.2zM303.2 633.3h12.2v12.2h-12.2zM362.8 633.3h12.2v12.2h-12.2zM458.2 633.3h12.2v12.2h-12.2zM184.1 645.2h12.2v12.2h-12.2zM482.0 645.2h24.1v12.2h-24.1zM315.2 657.2h24.1v12.2h-24.1zM362.8 657.2h12.2v12.2h-12.2zM505.8 657.2h12.2v12.2h-12.2zM553.5 657.2h12.2v12.2h-12.2zM577.3 657.2h12.2v12.2h-12.2zM779.9 657.2h12.2v12.2h-12.2zM172.2 669.1h12.2v12.2h-12.2zM589.2 669.1h12.2v12.2h-12.2zM160.2 681.0h12.2v12.2h-12.2zM184.1 681.0h12.2v12.2h-12.2zM362.8 681.0h24.1v12.2h-24.1zM398.6 681.0h12.2v12.2h-12.2zM601.2 681.0h12.2v12.2h-12.2zM148.3 692.9h12.2v12.2h-12.2zM339.0 692.9h12.2v12.2h-12.2zM410.5 692.9h12.2v12.2h-12.2zM613.1 692.9h12.2v12.2h-12.2zM136.4 704.8h12.2v12.2h-12.2zM243.7 704.8h24.1v12.2h-24.1zM279.4 704.8h12.2v12.2h-12.2zM398.6 704.8h12.2v12.2h-12.2zM184.1 716.8h36.0v12.2h-36.0zM231.8 716.8h12.2v12.2h-12.2zM398.6 716.8h12.2v12.2h-12.2zM172.2 728.7h12.2v12.2h-12.2zM398.6 728.7h12.2v12.2h-12.2zM625.0 728.7h12.2v12.2h-12.2zM410.5 740.6h12.2v12.2h-12.2zM160.2 752.5h12.2v12.2h-12.2zM636.9 752.5h12.2v12.2h-12.2zM88.8 764.4h48.0v12.2h-48.0zM434.3 764.4h12.2v12.2h-12.2zM601.2 764.4h24.1v12.2h-24.1zM648.8 764.4h24.1v12.2h-24.1zM434.3 776.3h12.2v12.2h-12.2zM148.3 788.2h12.2v12.2h-12.2zM267.5 788.2h24.1v12.2h-24.1zM827.6 788.2h48.0v12.2h-48.0zM243.7 800.2h12.2v12.2h-12.2zM303.2 800.2h12.2v12.2h-12.2zM446.2 800.2h12.2v12.2h-12.2zM577.3 800.2h12.2v12.2h-12.2zM803.8 800.2h12.2v12.2h-12.2zM219.8 812.1h12.2v12.2h-12.2zM315.2 812.1h12.2v12.2h-12.2zM553.5 812.1h12.2v12.2h-12.2zM732.2 812.1h12.2v12.2h-12.2zM136.4 824.0h12.2v12.2h-12.2zM207.9 824.0h12.2v12.2h-12.2zM327.1 824.0h12.2v12.2h-12.2zM446.2 824.0h12.2v12.2h-12.2zM732.2 824.0h12.2v12.2h-12.2zM327.1 835.9h12.2v12.2h-12.2zM446.2 835.9h12.2v12.2h-12.2zM553.5 835.9h12.2v12.2h-12.2zM779.9 835.9h12.2v12.2h-12.2zM88.8 847.8h48.0v12.2h-48.0zM184.1 847.8h12.2v12.2h-12.2zM339.0 847.8h12.2v12.2h-12.2zM446.2 847.8h12.2v12.2h-12.2zM565.4 847.8h12.2v12.2h-12.2zM779.9 847.8h12.2v12.2h-12.2zM350.9 859.8h12.2v12.2h-12.2zM470.1 859.8h12.2v12.2h-12.2zM362.8 871.7h12.2v12.2h-12.2zM744.2 871.7h12.2v12.2h-12.2zM768.0 871.7h12.2v12.2h-12.2zM374.8 883.6h12.2v12.2h-12.2zM482.0 883.6h12.2v12.2h-12.2zM505.8 883.6h12.2v12.2h-12.2zM744.2 883.6h12.2v12.2h-12.2zM374.8 895.5h12.2v12.2h-12.2zM482.0 895.5h12.2v12.2h-12.2zM505.8 895.5h12.2v12.2h-12.2zM744.2 895.5h12.2v12.2h-12.2zM374.8 907.4h12.2v12.2h-12.2zM482.0 907.4h12.2v12.2h-12.2zM505.8 907.4h12.2v12.2h-12.2zM744.2 907.4h12.2v12.2h-12.2zM374.8 919.3h12.2v12.2h-12.2zM482.0 919.3h12.2v12.2h-12.2zM505.8 919.3h12.2v12.2h-12.2zM744.2 919.3h12.2v12.2h-12.2z"/><path fill="#262626" d="M263.9 312.9 L266.2 308.3 L272.1 303.6 L277.9 302.5 L281.3 304.8 L283.7 309.5 L287.2 314.1 L293.0 317.0 L301.1 318.8 L309.2 318.2 L317.4 319.3 L324.3 318.8 L332.5 319.3 L331.3 325.7 L327.8 332.7 L324.3 338.5 L323.2 347.8 L323.2 354.8 L322.0 361.8 L324.3 366.4 L329.0 369.9 L334.8 374.5 L339.5 378.0 L344.1 385.0 L347.6 390.8 L345.3 397.8 L340.6 401.3 L331.3 401.3 L324.3 395.5 L317.4 390.8 L312.7 385.0 L309.8 379.2 L309.2 373.4 L305.8 368.7 L302.3 359.4 L297.6 352.5 L295.3 345.5 L290.6 337.3 L286.0 331.5 L277.9 328.1 L269.7 325.7 L265.1 321.1Z"/>
<path fill="#121212" d="M312.7 368.7 L319.7 365.8 L325.5 369.9 L331.3 374.5 L336.0 380.3 L341.2 387.3 L340.6 393.7 L333.6 393.7 L327.8 392.0 L323.2 388.5 L318.5 383.8 L314.5 379.2 L312.7 373.4Z"/>
<path fill="#444444" d="M602.3 860.4 L605.8 858.1 L609.9 859.3 L611.6 862.7 L609.3 866.2 L604.6 866.8 L601.7 864.5Z"/>
<path fill="#444444" d="M637.2 885.4 L641.8 881.3 L648.8 881.9 L652.3 886.6 L650.0 891.2 L643.0 893.0 L637.2 890.0Z"/>
<path fill="#404040" d="M437.5 452.9 L442.2 449.4 L448.0 450.0 L452.6 455.2 L452.6 461.0 L448.0 463.9 L442.2 463.3 L438.1 458.7Z"/>
<path fill="#747474" d="M393.4 437.8 L396.9 435.4 L401.5 438.3 L402.7 444.7 L400.3 448.8 L396.3 447.6 L394.0 443.0Z"/>
<path fill="#000000" d="M408.5 326.9 L416.6 323.4 L427.1 328.1 L435.2 336.2 L442.2 343.2 L450.3 348.4 L455.0 354.2 L449.2 357.1 L439.9 355.4 L430.6 353.0 L420.1 349.0 L413.1 342.0 L409.1 333.9Z"/>
<path fill="#000000" d="M400.3 375.1 L406.2 368.7 L413.1 375.1 L406.7 382.7Z"/>
<path fill="#101010" d="M479.6 500.2 L490.0 493.5 L503.2 496.7 L518.9 497.0 L528.5 500.5 L520.6 509.8 L506.7 514.5 L490.9 515.0 L480.4 509.8Z"/>
<path fill="#000000" d="M483.1 503.7 L490.9 498.8 L501.4 500.2 L504.9 507.2 L497.9 512.4 L488.3 511.5Z"/></g>
<g fill="none" stroke="#000" stroke-width="1.25" stroke-linejoin="round" stroke-linecap="round">
<path d="M124.0 210.2L133.3 207.4L142.6 209.1L158.9 208.4L174.0 207.4L173.3 198.6L171.6 192.8L163.5 190.5L162.3 184.6L164.0 180.0"/>
<path d="M164.0 186.5L170.5 184.6L179.8 184.2L189.1 181.2"/>
<path d="M124.0 246.2L133.3 247.9L147.2 247.4L163.5 247.4L174.0 248.1L179.8 250.9L182.1 254.4L177.9 255.5L176.3 260.2L174.0 266.0L170.5 267.9L163.5 271.8L156.5 274.1L153.1 282.3L155.4 291.6L158.9 297.4L163.5 299.7L167.0 295.0L170.5 288.1L171.6 282.3L178.6 282.3L180.9 293.9L184.4 305.5L186.8 317.1L193.7 324.1L199.5 319.5L198.4 310.2L199.5 298.5L204.2 293.9L205.3 284.6L204.2 274.1L214.6 276.5L222.8 278.8L227.4 270.6L233.2 260.2L237.9 249.7L234.4 247.4L237.9 240.4L244.9 235.8L246.0 226.5L246.0 214.9L254.2 209.1L265.8 200.9L275.1 196.7L286.7 195.8L290.2 199.8L294.8 200.9L290.2 193.9L289.0 189.3L296.0 183.5L299.5 181.2"/>
<path d="M318.1 180.0L322.7 189.3L329.7 188.8L333.2 200.9L330.9 214.9L328.5 228.8L323.9 238.1L316.9 242.8L309.9 247.4L307.6 254.4L304.1 260.2L307.6 267.2L304.1 276.5L309.9 276.5L319.2 274.1L330.9 273.0L336.7 272.5L332.0 278.8L335.5 286.9L337.8 295.0L350.6 298.5L348.3 306.7L343.6 319.5L354.1 320.6L362.0 322.9"/>
<path d="M184.4 305.5L185.1 307.8L185.7 310.1L184.6 312.5L186.3 314.7L185.3 317.1L185.7 319.4L187.0 321.7L186.0 324.1L187.5 326.3L186.7 328.7L187.1 331.0L188.1 333.3L187.5 335.7L186.8 338.2L188.2 340.3L185.3 339.9L183.3 338.0L180.9 336.9L178.6 338.0L178.1 340.5L176.6 342.6L179.0 344.6L178.0 347.7L179.9 349.6L181.9 350.8L183.4 352.5L184.5 354.6L185.4 356.8L187.7 357.9L188.3 360.3L189.7 362.1L191.5 363.5L194.9 366.0L197.1 367.8L198.2 370.1L198.6 372.8L200.7 373.4L203.0 372.7L205.3 372.8L207.1 375.0L209.3 376.7L211.3 378.6L212.4 381.0L214.5 382.3L216.1 384.3L216.0 386.9L217.0 389.2L217.3 391.9L218.8 394.1L220.6 396.1L220.5 398.9L223.6 399.9L224.1 402.3L224.5 404.8L226.5 406.5L227.5 408.9L229.7 410.7L229.6 413.6L229.7 416.0L230.9 418.0"/>
<path d="M124.0 321.8L125.5 324.9L128.8 326.3L131.4 324.5L133.4 321.8L135.2 319.6L136.8 317.1L138.9 315.3L140.3 313.1L140.2 310.1L142.4 308.8L143.5 306.4L144.1 308.9L145.1 310.9L145.0 313.4L147.0 314.9L149.0 316.8L149.7 319.4L150.6 317.5L149.3 314.8L151.2 313.0L150.9 310.7L151.4 308.5L152.7 306.6L156.1 306.9L158.8 305.2L161.3 306.5L162.9 308.4L164.5 310.4L166.7 312.0L166.6 314.8L167.1 317.2L167.8 319.6L167.8 322.0L168.3 324.4L170.5 326.3L170.6 328.7L171.5 331.0L170.5 333.7L170.9 336.1L173.1 338.0L175.6 339.7L177.2 342.5"/>
<path d="M362.0 360.1L350.6 362.5L347.1 368.3L341.3 367.1L337.8 374.1L326.2 377.6L315.7 377.6L312.3 384.5L309.9 391.5L306.5 400.8L303.0 407.8L307.6 412.4L306.5 418.0"/>
<path d="M362.0 325.3L365.5 332.2L371.3 335.7L379.4 334.6L386.4 331.1L391.1 331.1L392.2 338.0L395.7 341.5L402.7 342.7L405.0 340.4L405.0 331.1L401.5 324.1L400.3 317.1L403.8 312.9L412.0 312.9L416.6 313.6L418.9 307.8L423.6 305.5L430.6 310.2L435.2 312.5L443.3 305.5L446.8 309.0L450.3 305.5L457.3 310.2L461.9 304.3L465.4 303.2L470.1 303.2L477.0 299.7L480.5 295.0L489.8 291.6L495.6 295.0L496.8 298.5L503.8 300.9L509.6 299.7L516.6 302.0L522.4 303.2L523.5 307.8L520.0 312.5L522.4 319.5L527.0 324.1L535.2 329.9L545.6 332.2L553.7 333.4L559.6 331.1L564.2 328.8L566.5 326.4L572.3 329.9L580.5 332.2L581.6 335.7L588.6 334.6L592.1 331.1L596.7 334.6L600.0 338.0"/>
<path d="M416.6 313.6L420.1 319.5L425.9 327.6L431.7 331.1L432.9 336.9L430.6 341.5L435.2 347.3L443.3 353.2L451.5 353.2L457.3 348.5L464.3 348.5L471.2 354.3L468.9 360.1L473.6 363.6L479.4 365.9L480.5 371.7L475.9 376.4L471.2 378.7L461.9 379.9L458.5 384.5L457.3 388.0L466.6 393.8L475.9 399.6L482.9 404.3L487.5 410.1L492.2 414.7L495.6 418.0"/>
<path d="M391.1 331.1L385.2 334.6L378.3 342.7L372.5 350.8L366.6 359.0L365.5 362.5L371.3 363.6L374.8 368.3L372.5 375.2L375.9 381.0L382.9 382.2L392.2 382.2L393.4 389.2L392.2 398.5L388.7 405.4L391.1 412.4L389.9 418.0"/>
<path d="M362.0 361.3L365.5 362.5"/>
<path d="M522.4 352.0L520.0 357.8L515.4 363.6L510.8 368.3L506.1 372.9L501.5 378.7L500.3 385.7L496.8 391.5L499.1 398.5L502.6 404.3L506.1 410.1L510.8 415.9L513.1 418.0"/>
<path d="M521.2 347.3L523.7 348.3L524.7 350.8L528.2 348.6L531.1 349.5L533.2 351.5L534.3 349.5L536.2 347.2L537.8 349.8L539.4 352.3L541.4 349.9L541.6 347.4L542.9 345.2L543.5 342.8L540.6 340.7L543.7 341.3L545.7 339.5L548.3 340.1L550.3 338.4L552.5 334.5"/>
<path d="M522.4 352.0L521.2 347.3"/>
<path d="M600.0 338.0L594.4 342.7L594.4 352.0L596.7 359.0L600.0 363.6"/>
<path d="M600.0 371.7L590.9 372.9L582.8 377.6L575.8 382.2L570.0 389.2L568.9 398.5L571.2 405.4L580.5 408.9L588.6 411.3L593.3 413.6L594.4 408.9L600.0 410.1"/>
<path d="M436.4 418.0L439.9 411.3L445.7 407.8L453.8 408.9L459.6 413.6L461.9 418.0"/>
<path d="M600.0 349.7L602.1 347.6L604.3 345.8L607.0 345.1L607.3 341.6L610.1 341.1L612.9 339.2L616.1 338.8L618.4 337.8L620.3 335.8L623.0 336.3L625.1 334.7L627.3 333.7L630.2 334.4L632.2 332.1L635.1 335.4L637.2 333.5L639.0 331.2L641.5 330.8L644.1 330.9L646.8 329.4L649.8 328.3L652.5 329.9L655.0 330.1L656.9 327.5L659.3 329.3L661.9 330.6L663.8 328.3L667.3 328.6L668.3 325.8L671.2 324.4L671.4 320.9L673.9 319.1L675.9 316.8L673.7 314.8L672.8 312.6L674.8 314.9L677.2 316.8L680.2 319.5L683.6 318.4L684.1 315.1L684.8 312.6L683.2 310.0L684.0 307.8L684.4 305.5L685.2 302.8L683.4 300.8L682.9 298.4L686.1 300.7L688.2 302.6L687.1 306.1L688.9 308.1L690.0 311.1L692.6 312.7L694.7 314.9L697.5 315.1L699.4 312.6L702.3 312.5L704.3 310.7L706.0 308.3L709.0 308.4L711.1 307.0L713.4 305.7L716.3 305.7L719.5 306.9L722.0 304.3L725.3 305.7L728.0 303.8L730.0 306.2L733.7 305.3L736.1 303.2L739.3 302.8L742.1 301.3L745.2 301.6L748.1 301.8L751.2 302.2L753.5 300.1L754.9 297.7L757.0 296.2L758.4 294.1L759.3 290.7L762.8 290.6L765.8 290.9L767.5 288.4L770.7 287.9L773.1 285.7L774.4 283.4L777.7 284.5L778.9 282.1L781.7 281.7L784.1 280.8L784.7 277.5L786.0 275.4L789.4 275.0L789.7 272.0L789.8 269.0L791.2 266.9L793.7 265.7L797.2 264.7L797.9 261.6L800.2 259.2L803.5 260.6L807.2 259.4L808.2 255.7L809.9 252.7L812.7 250.9L813.8 247.4L816.9 245.8L820.7 245.2L821.0 241.7L823.2 239.9L825.8 238.6L826.1 236.0L828.7 234.7L829.4 232.6L828.6 229.8L828.8 227.5L829.8 225.5L830.5 223.4L832.5 221.9L830.6 219.8L830.5 217.3L829.6 215.0L832.8 213.9L831.9 210.7L833.5 209.0L835.7 210.0L837.9 210.7"/>
<path d="M693.0 312.5L695.3 318.3L702.3 319.5L697.6 324.1"/>
<path d="M658.1 331.1L662.8 333.4L668.6 332.2"/>
<path d="M600.0 349.7L605.8 353.2L609.3 359.0L612.8 362.5L607.0 364.8L600.0 363.6"/>
<path d="M600.0 372.9L607.0 369.4L613.9 368.3L620.9 371.7L624.4 378.7L620.9 385.7L616.3 391.5L612.8 398.5L607.0 404.3L600.0 408.9"/>
<path d="M826.6 285.8L830.1 282.3L828.9 289.2L825.4 293.9"/>
<path d="M828.9 235.8L833.6 238.1L831.3 242.8"/>
<path d="M230.9 418.0L231.4 420.3L230.7 422.8L231.8 425.0L232.1 427.3L231.8 429.6L232.6 432.0L231.5 434.3L231.8 436.7L231.2 438.9L229.5 441.0L229.8 443.8L228.3 445.9L227.3 448.2L226.7 450.5L226.6 452.9L225.6 455.2L225.1 457.5L224.5 459.8L225.9 462.2L225.1 464.5L227.2 465.9L228.7 467.9L231.2 467.3L233.2 465.7L235.5 468.1L237.8 470.4L240.6 469.9L242.5 467.9L244.8 469.3L247.2 470.3L249.5 471.5L251.8 472.7L253.7 471.0L255.7 469.6L257.6 468.0L259.9 466.6L261.1 464.3L262.5 462.3L264.7 461.8L265.9 459.4L268.1 458.7L270.3 457.3L271.7 455.2L272.6 452.7L272.6 449.8L273.9 447.0L275.8 449.0L276.7 451.5L277.6 453.9L279.9 452.8L282.4 451.4L284.5 449.6L284.9 447.0L287.1 445.5L288.1 443.4L288.8 441.1L290.4 438.5L290.5 435.5L287.7 433.2L289.0 435.5L291.5 436.4L293.1 438.3L294.6 440.3L295.4 442.5L297.7 443.9L298.4 446.3L299.5 448.5L300.7 450.5L302.9 452.5L304.2 455.1L306.5 453.0L307.7 455.1L306.9 457.5L307.4 459.8L307.9 462.1L308.2 464.5L307.8 466.8L308.3 469.1L309.4 471.4L308.5 473.8L308.7 476.2L308.8 478.6L310.9 480.6L311.1 483.0L311.4 485.3L311.0 487.8L312.5 490.0L313.2 492.2L313.1 494.7L313.2 497.1L313.5 499.5L315.3 501.5L316.2 503.8L315.4 506.6L316.9 508.7L317.0 511.0L318.6 513.1L319.2 515.4L318.4 518.0L319.3 520.3L321.2 522.2L320.8 525.3L322.5 527.4L323.7 529.6L325.8 531.5L325.6 534.5L328.1 536.1L328.3 539.0L329.2 541.2L330.0 543.4L330.2 545.9L330.6 548.2L331.0 550.5L331.0 552.9L329.9 555.1L329.8 557.5L331.0 559.6L331.5 561.9L332.3 564.2L332.2 566.7L331.7 569.2L331.0 571.5L329.4 573.6L329.6 576.2L328.5 578.4L328.9 580.8L328.4 583.0L328.8 585.4L328.1 587.7L327.7 590.0L326.7 592.3L326.8 594.6L327.3 597.0L326.5 599.3L325.9 601.6L327.0 603.9L325.6 606.3L326.3 608.6L326.2 610.9L326.0 613.2L326.0 615.6L325.3 617.9L324.4 620.1L323.4 622.3L324.0 624.9L322.7 627.0L322.3 629.4L321.9 631.8L321.6 634.2L321.6 636.5L321.9 638.9L321.4 641.2L320.7 643.5L320.7 645.9L322.4 647.9L322.9 650.4L325.2 652.8L326.0 656.1"/>
<path d="M307.6 418.0L314.6 427.3L321.6 436.6L327.4 443.6L329.7 452.9L333.2 459.8L336.7 458.7L335.5 463.3L330.9 465.6L328.5 473.8L326.2 480.8L320.4 485.4L321.6 492.4L326.2 499.3L333.2 508.6L340.2 517.9L342.5 529.6L343.6 538.9L347.1 548.2L350.6 557.5L354.1 566.8L349.4 576.0L343.6 585.3L337.8 594.6L332.0 606.3L328.5 615.6L326.2 624.9"/>
<path d="M362.0 555.1L356.4 566.8L350.6 580.7L346.0 592.3L343.6 603.9L344.8 615.6L346.0 624.9L350.6 628.3L356.4 627.6L359.2 630.7L362.0 641.1"/>
<path d="M196.1 523.8L192.6 529.6L191.4 538.9L189.1 548.2L187.9 557.5L185.6 566.8L186.8 576.0L190.2 569.1L193.7 557.5L194.9 545.8L197.2 534.2L197.2 524.9L196.1 523.8"/>
<path d="M182.1 590.0L185.6 588.8L186.8 593.5L184.4 597.0L181.6 594.6L182.1 590.0"/>
<path d="M189.1 628.3L190.9 627.2L191.9 629.5L190.0 630.7L189.1 628.3"/>
<path d="M461.9 418.0L465.4 421.5L471.2 427.3L475.9 434.3L477.0 443.6L478.2 452.9L482.9 461.0L489.8 466.8L495.6 472.6L496.8 480.8L494.5 487.7L494.5 497.0L493.3 504.0L487.5 507.5"/>
<path d="M436.4 418.0L431.7 419.9L427.1 418.0"/>
<path d="M392.2 418.0L387.6 421.5L386.4 426.1L389.9 430.8L394.5 429.2"/>
<path d="M487.5 507.5L478.2 505.2L466.6 505.2L455.0 505.2L443.3 505.9L436.4 507.5L430.6 513.3L427.1 517.9L422.4 523.8L419.6 526.1L420.6 534.2L422.9 543.5L424.8 550.5L428.2 557.5L431.7 564.4L434.1 572.6L436.4 580.7L438.7 587.7L444.5 585.3L448.0 581.9L450.3 586.5L449.2 592.3L452.6 594.6"/>
<path d="M487.5 507.5L492.2 506.3L498.0 508.6L504.9 511.0L507.3 506.3L513.1 504.0L522.4 504.0L529.3 502.8L536.3 500.5L539.8 499.3"/>
<path d="M495.6 418.0L501.5 425.0L507.3 430.8L513.1 436.6L518.9 443.6L520.0 450.5L524.7 455.2L529.3 459.8L535.2 463.3L539.8 466.8L537.5 472.6L535.2 476.1L539.8 480.8L544.5 485.4L543.3 492.4L539.8 499.3"/>
<path d="M539.8 499.3L538.6 508.6L541.0 517.9L543.3 529.6L543.3 541.2L541.0 550.5L536.3 556.3L529.3 558.6L522.4 560.9L516.6 563.3L515.4 566.8L510.8 567.9L504.9 570.2L503.3 576.0L507.3 580.7L509.6 588.8L501.5 587.7L493.3 586.5L485.2 588.8L482.9 594.6L475.9 598.1L470.1 597.0"/>
<path d="M515.4 418.0L515.7 420.5L516.7 422.7L517.8 424.9L519.7 426.5L521.4 428.3L523.0 430.2L524.8 431.8L526.5 433.6L528.4 435.2L529.5 437.6L531.5 439.1L533.2 440.6L535.2 441.9L536.1 444.3L538.4 445.2L539.8 447.0L541.9 448.2L543.2 450.2L544.7 451.9L546.3 453.6L548.0 455.1L549.7 456.6L551.9 457.6L553.4 459.3L555.0 460.9L556.7 462.3L558.8 463.4L560.6 464.8L561.9 466.7L563.9 468.6L565.3 471.0L567.1 472.9L568.8 475.0L570.1 477.1L571.5 479.2L572.8 481.4L574.7 483.1L576.0 485.3L576.4 488.0L578.6 489.8L579.2 492.4L579.6 494.7L580.9 496.9L580.2 499.4L580.6 501.8L581.6 504.0L581.5 506.4L581.7 508.7L582.8 510.9L582.5 513.3L582.8 515.6L582.8 518.0L583.3 520.3L583.7 522.7L584.5 524.9L585.0 527.3L585.1 529.6L585.3 531.9L586.2 534.2L586.7 536.5L586.4 538.8L586.9 541.2L587.6 543.4L587.3 545.9L586.5 548.1L585.5 550.4L584.7 552.7L583.9 555.1L583.5 557.5L583.7 559.9L582.2 562.0L581.8 564.4L581.6 566.7L580.4 569.1L579.1 571.3L578.7 574.0L576.9 576.0L575.5 577.8L573.9 579.4L572.0 580.7L570.0 581.8L568.2 583.6L565.8 584.5L563.5 585.7L561.9 587.7L559.6 589.3L557.2 590.6L554.8 591.8L552.5 593.4L550.2 594.5L547.8 595.6L545.9 597.5L543.4 598.3L541.0 598.9L538.6 598.6L536.3 599.4L534.0 598.8L531.6 599.2L529.3 598.3L527.2 599.6L524.7 600.4L522.8 602.0L521.2 603.9L522.3 606.2L522.7 608.6L523.5 610.9L522.4 612.9L521.7 615.1L519.9 616.6L517.9 618.3L515.1 618.4L513.0 620.0L511.1 622.0L508.5 622.6L506.0 623.6L503.5 624.3L501.5 626.1L499.2 627.3L497.0 629.1L494.1 629.8L492.2 631.9L490.1 633.3L488.6 635.3L486.3 636.5L484.6 638.5L484.2 641.2L480.9 641.9L478.2 643.4L476.0 641.0L478.3 637.7L477.7 635.0L478.5 632.4L477.8 629.8L477.5 627.2L477.5 624.7L478.5 622.5L478.9 620.2L479.3 617.9L480.1 615.3L481.5 613.1L482.8 610.9L480.9 608.2L478.1 606.4L476.1 604.2L473.6 602.7L471.9 601.1L471.8 598.6L470.2 596.9"/>
<path d="M501.5 609.7L506.1 615.6L510.8 620.2"/>
<path d="M508.4 606.3L514.2 613.2L517.7 617.9"/>
<path d="M514.2 601.6L520.0 608.6"/>
<path d="M470.1 597.0L464.3 595.8L457.3 594.6L452.6 594.6L448.0 594.6L449.2 598.1L455.0 600.5L457.3 603.9L458.5 608.6L456.1 601.6"/>
<path d="M362.0 527.2L369.0 526.1L375.9 526.1L382.9 526.1L385.2 529.6L384.1 538.9L384.1 544.7L389.9 545.8L396.9 545.8L403.8 544.7L409.6 548.2L414.3 551.6L417.8 555.1L420.1 557.5L418.9 560.9L422.9 559.8"/>
<path d="M362.0 534.2L363.2 543.5L362.0 557.5"/>
<path d="M362.0 642.3L366.6 646.9L369.0 652.7L370.1 656.0"/>
<path d="M826.6 576.0L824.3 580.7L822.0 587.7L825.4 591.2L818.5 598.1L812.7 603.9L806.9 609.7L799.9 617.9L792.9 624.9L785.9 631.8L779.0 638.8L774.3 645.8L772.0 650.4L775.5 650.4L780.1 644.6L785.9 638.8L792.9 633.0L799.9 627.2L806.9 622.5L810.3 615.6L809.2 609.7L816.2 607.4L823.1 602.8L830.1 598.1L834.7 597.0L832.4 594.6L828.9 590.0L827.8 580.7L826.6 576.0"/>
<path d="M838.0 456.3L833.6 458.7L833.6 466.8L837.1 469.1L835.9 476.1L838.0 480.8"/>
<path d="M838.0 555.1L835.9 559.8L838.0 566.8"/>
<path d="M832.4 573.7L834.7 574.2L834.3 576.5L832.4 573.7"/>
<path d="M248.3 715.3L254.2 712.9L261.1 714.1L268.1 718.8L276.2 722.2L284.4 723.4L293.7 722.2L303.0 722.2L307.6 726.9L312.3 732.7L315.7 738.5L319.2 744.3L320.4 749.0L326.2 751.3L332.0 755.9L340.2 761.8L348.3 767.6L356.4 773.4L362.0 776.9"/>
<path d="M248.3 715.3L249.5 721.1L254.2 728.1L260.0 735.0L266.9 743.2L273.9 751.3L279.7 757.1L286.7 758.3L291.3 762.9L297.2 771.0L303.0 779.2L306.5 786.2L308.8 792.0L316.9 795.5L325.0 800.1L332.0 805.9L334.3 811.7L336.7 821.0L340.2 830.3L342.5 839.6L348.3 844.3L355.3 850.1L362.0 855.9"/>
<path d="M261.1 779.2L264.6 778.0L270.4 782.7L276.2 787.3L279.3 790.8L276.2 792.0L269.3 788.5L263.5 785.0L260.7 781.5L261.1 779.2"/>
<path d="M293.7 814.0L300.6 810.6L306.5 816.4L311.1 822.2L312.7 829.2L309.9 834.5L305.3 830.3L301.8 823.3L297.2 817.5L293.7 814.0"/>
<path d="M294.8 795.5L298.3 794.3L299.5 797.8L296.0 798.2L294.8 795.5"/>
<path d="M321.1 848.9L325.0 847.7L327.4 853.6L326.7 861.7L323.9 860.5L324.3 854.7L321.1 848.9"/>
<path d="M327.4 844.3L333.2 843.1L335.0 845.4L329.7 846.1L327.4 844.3"/>
<path d="M330.9 871.0L336.7 869.4L341.3 878.0L345.3 887.3L343.6 890.7L337.8 887.3L333.2 880.3L329.7 874.5L330.9 871.0"/>
<path d="M211.9 675.8L215.8 674.6L218.1 680.4L217.0 686.2L214.2 683.9L211.9 675.8"/>
<path d="M334.3 656.0L340.2 663.0L344.8 669.9L350.6 675.8L356.4 683.9L359.9 690.9L362.0 693.2"/>
<path d="M354.1 694.3L358.7 693.2L359.9 699.0L356.4 700.2L354.1 694.3"/>
<path d="M243.7 711.3L246.0 710.6L247.2 712.9L244.9 713.6L243.7 711.3"/>
<path d="M370.1 656.0L372.5 665.3L374.8 673.4L380.6 679.2L387.6 683.4L394.5 682.7L400.3 686.2L406.2 693.2L412.0 699.0L417.8 700.2L421.3 706.0L428.2 712.9L435.2 719.9L441.0 728.1L444.5 737.3L443.8 749.0L442.2 758.3L444.5 769.9L446.8 779.2L452.6 785.0L456.1 792.0L459.6 800.1L463.1 807.1L464.3 812.9L460.8 815.2L457.3 811.7L453.8 812.9"/>
<path d="M362.0 690.9L365.5 688.5L371.3 690.9L375.9 695.5L382.9 697.8L387.6 700.2L389.4 706.0L387.6 710.6L392.2 712.9L398.0 709.5L403.8 710.6L408.5 706.0L412.0 700.2"/>
<path d="M365.5 688.5L367.8 697.8L370.1 709.5L371.3 718.8L373.6 728.1L375.9 737.3L378.3 746.6L382.9 753.6L386.4 760.6L391.1 767.6L394.5 774.5L394.5 779.2L399.2 783.8L406.2 788.5L413.1 793.1L420.1 797.8L427.1 802.4L434.1 807.1L441.0 811.7L445.7 815.2L450.3 816.4L453.8 812.9"/>
<path d="M362.0 779.2L365.5 783.8L370.1 789.6L374.8 795.5L379.4 800.1L384.1 803.6L381.8 797.8L384.1 793.1L388.7 795.5L394.5 800.1"/>
<path d="M424.8 841.9L434.1 839.6L438.7 833.8L442.2 832.6L446.8 837.3L451.5 841.9L451.5 847.7L446.8 850.1L443.3 853.6L442.2 860.5L445.7 865.2L451.5 868.7L457.3 871.0L465.4 872.2L467.8 879.1L468.9 886.1L471.2 894.0"/>
<path d="M394.5 800.1L399.2 796.6L403.8 798.9L405.0 803.6L401.5 807.1L396.9 805.9L394.5 800.1"/>
<path d="M412.0 810.6L418.9 809.4L422.4 815.2L418.9 819.9L420.1 826.8L427.1 829.2L431.7 819.9L437.5 823.3L437.5 831.5L442.2 832.6"/>
<path d="M412.0 810.6L414.3 818.7L417.8 825.7L423.6 830.3L431.7 832.6L437.5 831.5"/>
<path d="M427.1 841.9L438.7 836.1"/>
<path d="M442.2 823.3L445.7 822.2L446.8 828.0L443.3 831.5L442.2 823.3"/>
<path d="M455.0 821.0L460.8 819.9L461.9 825.7L464.3 830.3L460.8 826.8L456.1 828.0L455.0 821.0"/>
<path d="M465.4 818.7L471.2 818.7L474.7 824.5L471.2 829.2L467.8 824.5L465.4 818.7"/>
<path d="M448.0 814.0L453.8 811.7L457.3 815.2L452.6 817.5L448.0 814.0"/>
<path d="M464.3 841.9L470.1 844.3L475.9 850.1L480.5 854.7L475.9 853.6L471.2 858.2L467.8 862.9L464.3 858.2L466.6 852.4L464.3 841.9"/>
<path d="M362.0 858.2L366.6 864.0L371.3 872.2L375.9 881.4L380.6 889.6L382.9 894.0"/>
<path d="M488.7 894.0L491.0 887.3L496.8 883.8L503.8 883.8L507.3 888.4L509.6 894.0"/>
<path d="M552.6 750.1L558.4 746.6L562.3 752.5L561.4 758.3L556.1 761.8L553.7 755.9L552.6 750.1"/>
<path d="M497.3 773.4L499.1 778.0L501.9 775.7"/>
<path d="M510.8 767.6L513.1 771.7L514.5 768.7"/>
<path d="M600.0 814.0L594.4 807.1L592.1 798.9L586.3 801.3L580.5 807.1L577.0 816.4L574.7 828.0L577.0 839.6L580.5 848.9L579.3 858.2L584.0 865.2L588.6 872.2L594.4 875.6L600.0 873.3"/>
<path d="M572.3 884.9L575.8 886.1L573.5 888.4L570.7 887.7"/>
<path d="M572.3 775.7L574.0 779.2L572.6 780.3"/>
<path d="M367.8 717.6L371.3 716.9L370.8 721.1L367.8 721.1L367.8 717.6"/>
<path d="M600.0 808.2L607.0 807.1L612.8 808.2L618.6 811.7L624.4 810.6L626.7 804.8L629.1 797.8L630.2 790.8L632.5 782.7L638.3 780.3L646.5 778.0L655.8 775.7L665.1 773.4L673.2 769.9L679.0 762.9L684.8 755.9L690.6 749.0L695.3 743.2L696.5 738.5L702.3 737.3L709.2 735.0L716.2 730.4L720.9 728.1L725.5 730.4L731.3 725.7L733.6 719.9L739.5 714.1L745.3 707.1L751.1 699.0L755.7 693.2L759.2 686.2L761.5 681.1L763.9 685.1L762.7 689.7L767.3 686.2L770.8 680.4L773.2 683.9L775.5 688.5L780.1 690.9L782.5 696.7L782.5 703.6L785.9 706.0L791.7 703.6L794.1 709.5L799.9 709.5L805.7 712.9L811.5 717.6L819.6 718.8L820.8 723.4L816.2 726.9L806.9 728.1L798.7 729.2L795.2 732.7L801.0 736.2L806.9 740.8L799.9 744.3L791.7 745.5L784.8 745.5L783.6 751.3L787.1 755.9L784.8 761.8L780.1 765.2L782.5 771.0L783.6 778.0L787.1 785.0L791.7 790.8L785.9 797.8L789.4 804.8L796.4 810.6L803.4 816.4L810.3 819.9L815.0 823.3L811.5 828.0L802.2 828.0L792.9 826.8L789.4 823.3L787.1 830.3L782.5 837.3L779.0 846.6L777.8 855.9L781.3 860.5L777.8 866.3L770.8 869.8L765.0 874.5L760.4 880.3L754.6 886.1L749.9 889.6L752.2 894.0"/>
<path d="M702.3 737.3L704.6 744.3L710.4 751.3L715.0 747.8L716.2 737.3L719.7 730.4"/>
<path d="M722.0 731.5L723.2 738.5L727.8 744.3L726.7 732.7L725.5 730.4"/>
<path d="M600.0 818.7L607.0 823.3L615.1 826.8L623.2 824.5L632.5 822.2L641.8 823.3L650.0 818.7L654.6 812.9L661.6 810.6L669.7 810.6L676.7 815.2L688.3 817.5L697.6 814.0L708.1 811.7L713.9 804.8L715.0 797.8L719.7 792.0L723.2 787.3L722.0 780.3L726.7 775.7L732.5 771.0L734.8 762.9L734.8 753.6L738.3 746.6L745.3 743.9L754.6 743.2L765.0 743.2L774.3 743.9L780.1 745.5L784.8 745.5"/>
<path d="M612.8 808.2L618.6 812.2L626.7 814.5L629.1 812.9L624.4 810.6"/>
<path d="M630.2 790.8L633.7 789.6L634.9 782.7L632.5 782.7"/>
<path d="M838.0 835.0L834.7 841.9L833.6 848.9L830.1 850.1L832.4 855.9L835.2 865.2L830.1 869.8L825.4 875.6L823.1 886.1L824.3 894.0"/>
<path d="M766.2 673.4L773.2 672.3L774.3 675.8L767.3 676.9L766.2 673.4"/>
<path d="M767.3 656.0L769.2 660.6L766.9 661.1L766.2 656.0"/>
<path d="M826.6 730.4L827.8 736.2"/>
<path d="M833.6 729.2L834.7 733.9"/>
<path d="M838.0 724.6L833.6 725.7"/>
<path d="M804.5 793.1L806.4 795.5L804.1 796.6L804.5 793.1"/>
<path d="M780.1 747.8L785.9 744.3L789.4 749.0L785.9 753.6L781.3 752.5"/>
<path d="M772.0 761.8L779.0 760.6L782.5 767.6L776.6 769.9L773.2 765.2"/>
<path d="M600.0 877.3L601.4 879.0L602.3 883.1L601.4 888.3L600.0 891.2"/>
<path d="M321.5 533.4L322.8 538.2"/>
<path d="M326.8 550.4L325.3 552.8L323.5 553.0L322.7 550.8L323.6 547.9L325.5 546.4L326.9 547.6L326.8 550.4"/>
<path d="M317.9 555.0L316.9 556.9L315.4 557.2L314.5 555.5L315.0 553.2L316.4 551.9L317.7 552.7L317.9 555.0"/>
<path d="M331.0 566.8L329.1 570.3L326.5 570.7L325.0 567.7L325.8 563.7L328.3 561.6L330.6 563.0L331.0 566.8"/>
<path d="M317.4 567.6L317.1 569.2L316.5 569.6L316.0 568.5L316.0 566.8L316.5 565.7L317.1 566.1L317.4 567.6"/>
<path d="M322.1 574.2L320.9 576.1L319.7 576.2L319.3 574.6L320.0 572.3L321.3 571.1L322.2 572.0L322.1 574.2"/>
<path d="M322.2 590.0L320.8 592.4L318.6 592.7L317.4 590.5L318.0 587.6L320.0 586.2L321.8 587.2L322.2 590.0"/>
<path d="M315.3 597.7L314.8 599.3L313.6 599.7L312.7 598.6L312.7 596.8L313.6 595.8L314.8 596.2L315.3 597.7"/>
<path d="M322.6 609.0L320.8 611.4L318.9 611.4L318.5 609.0L319.8 606.0L321.8 604.7L323.1 606.0L322.6 609.0"/>
<path d="M323.6 631.6L322.9 634.3L322.0 634.9L321.5 632.9L321.8 629.9L322.7 628.1L323.5 628.8L323.6 631.6"/>
<path d="M314.6 612.8L316.0 613.2L315.3 612.1L314.6 612.8"/>
<path d="M311.2 623.0L312.6 623.4L311.9 622.3L311.2 623.0"/>
<path d="M302.3 566.3L303.7 566.7L303.0 565.6L302.3 566.3"/>
<path d="M306.4 560.8L307.8 561.2L307.1 560.1L306.4 560.8"/>
<path d="M306.4 564.9L307.8 565.3L307.1 564.2L306.4 564.9"/>
<path d="M310.5 543.0L311.9 543.4L311.2 542.3L310.5 543.0"/>
<path d="M310.5 547.8L311.9 548.2L311.2 547.1L310.5 547.8"/>
<path d="M330.3 586.1L331.7 586.5L331.0 585.4L330.3 586.1"/>
<path d="M325.1 614.8L326.5 615.2L325.8 614.1L325.1 614.8"/>
</g>
</g>
<rect x="124.5" y="180.5" width="715.0" height="715.0" fill="none" stroke="#000" stroke-width="1"/>
<path d="M124.50 895.50 v24 M124.50 180.50 v-24 M172.17 895.50 v12 M172.17 180.50 v-12 M219.83 895.50 v12 M219.83 180.50 v-12 M267.50 895.50 v12 M267.50 180.50 v-12 M315.17 895.50 v12 M315.17 180.50 v-12 M362.83 895.50 v24 M362.83 180.50 v-24 M410.50 895.50 v12 M410.50 180.50 v-12 M458.17 895.50 v12 M458.17 180.50 v-12 M505.83 895.50 v12 M505.83 180.50 v-12 M553.50 895.50 v12 M553.50 180.50 v-12 M601.17 895.50 v24 M601.17 180.50 v-24 M648.83 895.50 v12 M648.83 180.50 v-12 M696.50 895.50 v12 M696.50 180.50 v-12 M744.17 895.50 v12 M744.17 180.50 v-12 M791.83 895.50 v12 M791.83 180.50 v-12 M839.50 895.50 v24 M839.50 180.50 v-24 M124.50 895.50 h-12 M839.50 895.50 h12 M124.50 847.83 h-24 M839.50 847.83 h24 M124.50 800.17 h-12 M839.50 800.17 h12 M124.50 752.50 h-12 M839.50 752.50 h12 M124.50 704.83 h-12 M839.50 704.83 h12 M124.50 657.17 h-12 M839.50 657.17 h12 M124.50 609.50 h-24 M839.50 609.50 h24 M124.50 561.83 h-12 M839.50 561.83 h12 M124.50 514.17 h-12 M839.50 514.17 h12 M124.50 466.50 h-12 M839.50 466.50 h12 M124.50 418.83 h-12 M839.50 418.83 h12 M124.50 371.17 h-24 M839.50 371.17 h24 M124.50 323.50 h-12 M839.50 323.50 h12 M124.50 275.83 h-12 M839.50 275.83 h12 M124.50 228.17 h-12 M839.50 228.17 h12 M124.50 180.50 h-12 M839.50 180.50 h12" stroke="#000" stroke-width="1" fill="none"/>
<text x="482" y="84" text-anchor="middle" style="font-size:36.6px;font-weight:bold">03/18/2024 16:00 UTC (+28hours from start)</text>
<text x="121.5" y="144.3" style="font-size:41.05px">CO at surface</text>
<text x="839.5" y="136" text-anchor="end" style="font-size:41.4px">ppmv</text>
<text class="ax" x="124.5" y="967" text-anchor="middle">90E</text>
<text class="ax" x="362.8" y="967" text-anchor="middle">100E</text>
<text class="ax" x="601.2" y="967" text-anchor="middle">110E</text>
<text class="ax" x="839.5" y="967" text-anchor="middle">120E</text>
<text class="ax" x="79.9" y="382.6" text-anchor="end">20N</text>
<text class="ax" x="79.9" y="620.9" text-anchor="end">10N</text>
<text class="ax" x="79.9" y="859.2" text-anchor="end">0</text>
<rect x="873.5" y="187.50" width="43.0" height="41.40" fill="#8f141b"/>
<rect x="873.5" y="228.70" width="43.0" height="41.40" fill="#b11a25"/>
<rect x="873.5" y="269.90" width="43.0" height="41.40" fill="#cc1e2a"/>
<rect x="873.5" y="311.10" width="43.0" height="41.40" fill="#e03828"/>
<rect x="873.5" y="352.30" width="43.0" height="41.40" fill="#ea5b2a"/>
<rect x="873.5" y="393.50" width="43.0" height="41.40" fill="#f48734"/>
<rect x="873.5" y="434.70" width="43.0" height="41.40" fill="#f8ba47"/>
<rect x="873.5" y="475.90" width="43.0" height="41.40" fill="#ebe45b"/>
<rect x="873.5" y="517.10" width="43.0" height="41.40" fill="#a6cf51"/>
<rect x="873.5" y="558.30" width="43.0" height="41.40" fill="#58b747"/>
<rect x="873.5" y="599.50" width="43.0" height="41.40" fill="#49a47a"/>
<rect x="873.5" y="640.70" width="43.0" height="41.40" fill="#4894af"/>
<rect x="873.5" y="681.90" width="43.0" height="41.40" fill="#5e9fd5"/>
<rect x="873.5" y="723.10" width="43.0" height="41.40" fill="#85c3e9"/>
<rect x="873.5" y="764.30" width="43.0" height="41.40" fill="#a8def6"/>
<rect x="873.5" y="805.50" width="43.0" height="41.40" fill="#d6eefb"/>
<rect x="873.5" y="846.70" width="43.0" height="41.40" fill="#ffffff"/>
<path d="M873.5 228.70 H916.5 M873.5 269.90 H916.5 M873.5 311.10 H916.5 M873.5 352.30 H916.5 M873.5 393.50 H916.5 M873.5 434.70 H916.5 M873.5 475.90 H916.5 M873.5 517.10 H916.5 M873.5 558.30 H916.5 M873.5 599.50 H916.5 M873.5 640.70 H916.5 M873.5 681.90 H916.5 M873.5 723.10 H916.5 M873.5 764.30 H916.5 M873.5 805.50 H916.5 M873.5 846.70 H916.5" stroke="#000" stroke-opacity="0.75" stroke-width="1" fill="none"/>
<rect x="873.5" y="187.50" width="43.0" height="700.40" fill="none" stroke="#666" stroke-width="1"/>
<text class="ax" x="960" y="240.00" text-anchor="middle">2</text>
<text class="ax" x="960" y="281.20" text-anchor="middle">1.5</text>
<text class="ax" x="960" y="322.40" text-anchor="middle">1</text>
<text class="ax" x="960" y="363.60" text-anchor="middle">0.8</text>
<text class="ax" x="960" y="404.80" text-anchor="middle">0.6</text>
<text class="ax" x="960" y="446.00" text-anchor="middle">0.4</text>
<text class="ax" x="960" y="487.20" text-anchor="middle">0.3</text>
<text class="ax" x="960" y="528.40" text-anchor="middle">0.2</text>
<text class="ax" x="960" y="569.60" text-anchor="middle">0.17</text>
<text class="ax" x="960" y="610.80" text-anchor="middle">0.15</text>
<text class="ax" x="960" y="652.00" text-anchor="middle">0.14</text>
<text class="ax" x="960" y="693.20" text-anchor="middle">0.13</text>
<text class="ax" x="960" y="734.40" text-anchor="middle">0.12</text>
<text class="ax" x="960" y="775.60" text-anchor="middle">0.11</text>
<text class="ax" x="960" y="816.80" text-anchor="middle">0.1</text>
<text class="ax" x="960" y="858.00" text-anchor="middle">0.05</text>
<rect x="124.5" y="867.5" width="201" height="28" fill="#fff" stroke="#000" stroke-width="1"/>
<text x="131" y="886.5" style="font-size:16.9px">WRF-Chem_NCAR_YSU</text>
<text class="st" x="333.6" y="407.3" text-anchor="end">CM</text>
<g stroke="#0000ff" stroke-width="1.6" fill="none"><circle cx="339.5" cy="400.0" r="5.8"/><path d="M335.5 396.0 l8 8 M343.5 396.0 l-8 8"/></g>
<text class="st" x="422.3" y="429.6" text-anchor="end">NK</text>
<g stroke="#0000ff" stroke-width="1.6" fill="none"><circle cx="428.2" cy="422.3" r="5.8"/><path d="M424.2 418.3 l8 8 M432.2 418.3 l-8 8"/></g>
<text class="st" x="424.1" y="463.3" text-anchor="end">KK</text>
<g stroke="#0000ff" stroke-width="1.6" fill="none"><circle cx="430.0" cy="456.0" r="5.8"/><path d="M426.0 452.0 l8 8 M434.0 452.0 l-8 8"/></g>
<text class="st" x="455.7" y="478.4" text-anchor="end">YST</text>
<g stroke="#0000ff" stroke-width="1.6" fill="none"><circle cx="461.6" cy="471.1" r="5.8"/><path d="M457.6 467.1 l8 8 M465.6 467.1 l-8 8"/></g>
<text class="st" x="407.1" y="498.1" text-anchor="end">NR</text>
<g stroke="#0000ff" stroke-width="1.6" fill="none"><circle cx="413.0" cy="490.8" r="5.8"/><path d="M409.0 486.8 l8 8 M417.0 486.8 l-8 8"/></g>
<text class="st" x="369.4" y="527.3" text-anchor="end">BK</text>
<g stroke="#0000ff" stroke-width="1.6" fill="none"><circle cx="375.3" cy="520.0" r="5.8"/><path d="M371.3 516.0 l8 8 M379.3 516.0 l-8 8"/></g>
<text class="st" x="318.6" y="667.3" text-anchor="end">PK</text>
<g stroke="#0000ff" stroke-width="1.6" fill="none"><circle cx="324.5" cy="660.0" r="5.8"/><path d="M320.5 656.0 l8 8 M328.5 656.0 l-8 8"/></g>
</svg>
</body></html>
